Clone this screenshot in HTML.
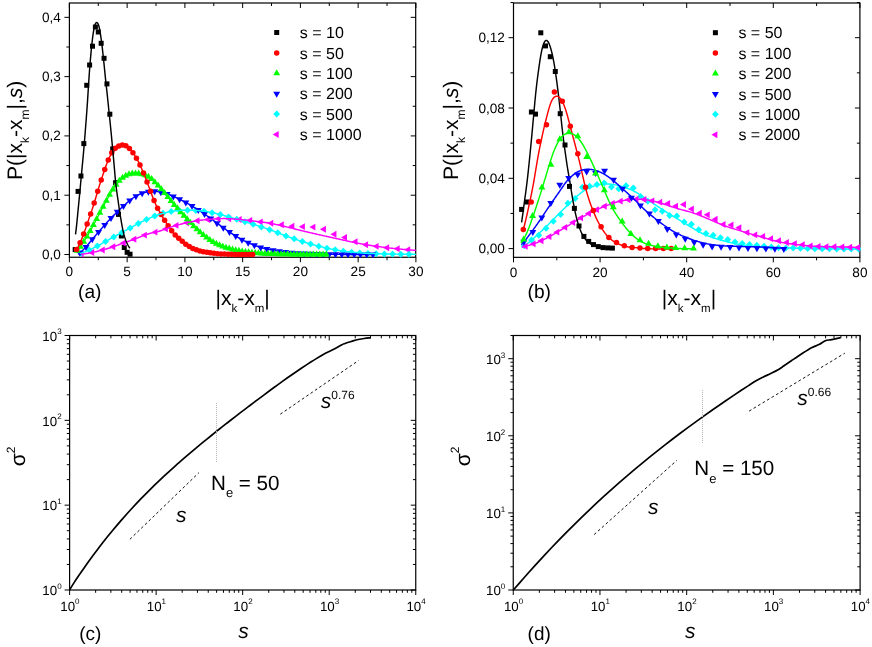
<!DOCTYPE html>
<html><head><meta charset="utf-8"><title>figure</title>
<style>html,body{margin:0;padding:0;background:#fff;}svg{display:block;will-change:transform;opacity:0.999;}body{font-family:"Liberation Sans", sans-serif;}</style></head>
<body>
<svg width="872" height="647" viewBox="0 0 872 647" font-family='"Liberation Sans", sans-serif' fill="#000" text-rendering="geometricPrecision">
<rect width="872" height="647" fill="#fff"/>
<rect x="69.4" y="3" width="346.3" height="254.25" fill="none" stroke="#000" stroke-width="1.2"/>
<line x1="69.4" y1="257.25" x2="69.4" y2="262.25" stroke="#000" stroke-width="1"/>
<line x1="69.4" y1="3" x2="69.4" y2="8" stroke="#000" stroke-width="1"/>
<text x="69.4" y="276.45" font-size="13.6" text-anchor="middle">0</text>
<line x1="127.15" y1="257.25" x2="127.15" y2="262.25" stroke="#000" stroke-width="1"/>
<line x1="127.15" y1="3" x2="127.15" y2="8" stroke="#000" stroke-width="1"/>
<text x="127.15" y="276.45" font-size="13.6" text-anchor="middle">5</text>
<line x1="184.9" y1="257.25" x2="184.9" y2="262.25" stroke="#000" stroke-width="1"/>
<line x1="184.9" y1="3" x2="184.9" y2="8" stroke="#000" stroke-width="1"/>
<text x="184.9" y="276.45" font-size="13.6" text-anchor="middle">10</text>
<line x1="242.65" y1="257.25" x2="242.65" y2="262.25" stroke="#000" stroke-width="1"/>
<line x1="242.65" y1="3" x2="242.65" y2="8" stroke="#000" stroke-width="1"/>
<text x="242.65" y="276.45" font-size="13.6" text-anchor="middle">15</text>
<line x1="300.4" y1="257.25" x2="300.4" y2="262.25" stroke="#000" stroke-width="1"/>
<line x1="300.4" y1="3" x2="300.4" y2="8" stroke="#000" stroke-width="1"/>
<text x="300.4" y="276.45" font-size="13.6" text-anchor="middle">20</text>
<line x1="358.15" y1="257.25" x2="358.15" y2="262.25" stroke="#000" stroke-width="1"/>
<line x1="358.15" y1="3" x2="358.15" y2="8" stroke="#000" stroke-width="1"/>
<text x="358.15" y="276.45" font-size="13.6" text-anchor="middle">25</text>
<line x1="415.9" y1="257.25" x2="415.9" y2="262.25" stroke="#000" stroke-width="1"/>
<line x1="415.9" y1="3" x2="415.9" y2="8" stroke="#000" stroke-width="1"/>
<text x="415.9" y="276.45" font-size="13.6" text-anchor="middle">30</text>
<line x1="98.28" y1="257.25" x2="98.28" y2="260.25" stroke="#000" stroke-width="1"/>
<line x1="98.28" y1="3" x2="98.28" y2="6" stroke="#000" stroke-width="1"/>
<line x1="156.03" y1="257.25" x2="156.03" y2="260.25" stroke="#000" stroke-width="1"/>
<line x1="156.03" y1="3" x2="156.03" y2="6" stroke="#000" stroke-width="1"/>
<line x1="213.78" y1="257.25" x2="213.78" y2="260.25" stroke="#000" stroke-width="1"/>
<line x1="213.78" y1="3" x2="213.78" y2="6" stroke="#000" stroke-width="1"/>
<line x1="271.52" y1="257.25" x2="271.52" y2="260.25" stroke="#000" stroke-width="1"/>
<line x1="271.52" y1="3" x2="271.52" y2="6" stroke="#000" stroke-width="1"/>
<line x1="329.27" y1="257.25" x2="329.27" y2="260.25" stroke="#000" stroke-width="1"/>
<line x1="329.27" y1="3" x2="329.27" y2="6" stroke="#000" stroke-width="1"/>
<line x1="387.02" y1="257.25" x2="387.02" y2="260.25" stroke="#000" stroke-width="1"/>
<line x1="387.02" y1="3" x2="387.02" y2="6" stroke="#000" stroke-width="1"/>
<line x1="64.4" y1="254.5" x2="69.4" y2="254.5" stroke="#000" stroke-width="1"/>
<line x1="410.7" y1="254.5" x2="415.7" y2="254.5" stroke="#000" stroke-width="1"/>
<text x="60.8" y="259" font-size="13.6" text-anchor="end">0,0</text>
<line x1="64.4" y1="195.21" x2="69.4" y2="195.21" stroke="#000" stroke-width="1"/>
<line x1="410.7" y1="195.21" x2="415.7" y2="195.21" stroke="#000" stroke-width="1"/>
<text x="60.8" y="199.71" font-size="13.6" text-anchor="end">0,1</text>
<line x1="64.4" y1="135.92" x2="69.4" y2="135.92" stroke="#000" stroke-width="1"/>
<line x1="410.7" y1="135.92" x2="415.7" y2="135.92" stroke="#000" stroke-width="1"/>
<text x="60.8" y="140.42" font-size="13.6" text-anchor="end">0,2</text>
<line x1="64.4" y1="76.63" x2="69.4" y2="76.63" stroke="#000" stroke-width="1"/>
<line x1="410.7" y1="76.63" x2="415.7" y2="76.63" stroke="#000" stroke-width="1"/>
<text x="60.8" y="81.13" font-size="13.6" text-anchor="end">0,3</text>
<line x1="64.4" y1="17.34" x2="69.4" y2="17.34" stroke="#000" stroke-width="1"/>
<line x1="410.7" y1="17.34" x2="415.7" y2="17.34" stroke="#000" stroke-width="1"/>
<text x="60.8" y="21.84" font-size="13.6" text-anchor="end">0,4</text>
<line x1="66.4" y1="224.85" x2="69.4" y2="224.85" stroke="#000" stroke-width="1"/>
<line x1="412.7" y1="224.85" x2="415.7" y2="224.85" stroke="#000" stroke-width="1"/>
<line x1="66.4" y1="165.56" x2="69.4" y2="165.56" stroke="#000" stroke-width="1"/>
<line x1="412.7" y1="165.56" x2="415.7" y2="165.56" stroke="#000" stroke-width="1"/>
<line x1="66.4" y1="106.28" x2="69.4" y2="106.28" stroke="#000" stroke-width="1"/>
<line x1="412.7" y1="106.28" x2="415.7" y2="106.28" stroke="#000" stroke-width="1"/>
<line x1="66.4" y1="46.99" x2="69.4" y2="46.99" stroke="#000" stroke-width="1"/>
<line x1="412.7" y1="46.99" x2="415.7" y2="46.99" stroke="#000" stroke-width="1"/>
<clipPath id="c69"><rect x="68.7" y="3" width="347.9" height="254.95"/></clipPath>
<g clip-path="url(#c69)">
<rect x="72.68" y="247.1" width="5" height="5" fill="#000000"/>
<rect x="75.56" y="188.9" width="5" height="5" fill="#000000"/>
<rect x="78.45" y="173.5" width="5" height="5" fill="#000000"/>
<rect x="81.34" y="141.1" width="5" height="5" fill="#000000"/>
<rect x="84.23" y="82.8" width="5" height="5" fill="#000000"/>
<rect x="87.11" y="62.5" width="5" height="5" fill="#000000"/>
<rect x="90" y="43.7" width="5" height="5" fill="#000000"/>
<rect x="92.89" y="24.5" width="5" height="5" fill="#000000"/>
<rect x="95.78" y="29.5" width="5" height="5" fill="#000000"/>
<rect x="98.66" y="40.8" width="5" height="5" fill="#000000"/>
<rect x="101.55" y="55.8" width="5" height="5" fill="#000000"/>
<rect x="104.44" y="81.4" width="5" height="5" fill="#000000"/>
<rect x="107.33" y="111.7" width="5" height="5" fill="#000000"/>
<rect x="110.21" y="146.4" width="5" height="5" fill="#000000"/>
<rect x="113.1" y="180.2" width="5" height="5" fill="#000000"/>
<rect x="115.99" y="211.9" width="5" height="5" fill="#000000"/>
<rect x="118.88" y="233.5" width="5" height="5" fill="#000000"/>
<rect x="121.76" y="245" width="5" height="5" fill="#000000"/>
<rect x="124.65" y="249.8" width="5" height="5" fill="#000000"/>
<rect x="127.54" y="251.7" width="5" height="5" fill="#000000"/>
<path d="M77.64 254.16L83.64 250.7L83.64 257.62Z" fill="#ff00ff"/>
<path d="M88.18 252.51L94.18 249.05L94.18 255.97Z" fill="#ff00ff"/>
<path d="M98.71 250.02L104.71 246.56L104.71 253.48Z" fill="#ff00ff"/>
<path d="M109.24 246.76L115.24 243.3L115.24 250.22Z" fill="#ff00ff"/>
<path d="M119.78 242.96L125.78 239.5L125.78 246.42Z" fill="#ff00ff"/>
<path d="M130.31 239.22L136.31 235.76L136.31 242.68Z" fill="#ff00ff"/>
<path d="M140.84 235.09L146.84 231.63L146.84 238.55Z" fill="#ff00ff"/>
<path d="M151.38 232.16L157.38 228.7L157.38 235.62Z" fill="#ff00ff"/>
<path d="M161.91 228.89L167.91 225.43L167.91 232.35Z" fill="#ff00ff"/>
<path d="M172.45 225.4L178.45 221.94L178.45 228.86Z" fill="#ff00ff"/>
<path d="M182.98 222.72L188.98 219.26L188.98 226.18Z" fill="#ff00ff"/>
<path d="M193.51 220.67L199.51 217.21L199.51 224.13Z" fill="#ff00ff"/>
<path d="M204.05 219.44L210.05 215.98L210.05 222.9Z" fill="#ff00ff"/>
<path d="M214.58 218.69L220.58 215.23L220.58 222.15Z" fill="#ff00ff"/>
<path d="M225.11 218.7L231.11 215.24L231.11 222.16Z" fill="#ff00ff"/>
<path d="M235.65 219.44L241.65 215.98L241.65 222.9Z" fill="#ff00ff"/>
<path d="M246.18 220.56L252.18 217.1L252.18 224.02Z" fill="#ff00ff"/>
<path d="M256.71 221.88L262.71 218.42L262.71 225.34Z" fill="#ff00ff"/>
<path d="M267.25 223.22L273.25 219.76L273.25 226.68Z" fill="#ff00ff"/>
<path d="M277.78 224.77L283.78 221.31L283.78 228.23Z" fill="#ff00ff"/>
<path d="M288.31 226.14L294.31 222.68L294.31 229.6Z" fill="#ff00ff"/>
<path d="M298.85 226.65L304.85 223.19L304.85 230.11Z" fill="#ff00ff"/>
<path d="M309.38 227.11L315.38 223.65L315.38 230.57Z" fill="#ff00ff"/>
<path d="M319.92 229.3L325.92 225.84L325.92 232.76Z" fill="#ff00ff"/>
<path d="M330.45 234.22L336.45 230.76L336.45 237.68Z" fill="#ff00ff"/>
<path d="M340.98 237.39L346.98 233.93L346.98 240.85Z" fill="#ff00ff"/>
<path d="M351.52 241.74L357.52 238.28L357.52 245.2Z" fill="#ff00ff"/>
<path d="M362.05 244.71L368.05 241.25L368.05 248.17Z" fill="#ff00ff"/>
<path d="M372.58 246.36L378.58 242.9L378.58 249.82Z" fill="#ff00ff"/>
<path d="M383.12 247.7L389.12 244.24L389.12 251.16Z" fill="#ff00ff"/>
<path d="M393.65 248.83L399.65 245.37L399.65 252.29Z" fill="#ff00ff"/>
<path d="M404.18 249.76L410.18 246.3L410.18 253.22Z" fill="#ff00ff"/>
<path d="M80.95 249.75L84.35 253.25L80.95 256.75L77.55 253.25Z" fill="#00ffff"/>
<path d="M89.15 246.52L92.55 250.02L89.15 253.52L85.75 250.02Z" fill="#00ffff"/>
<path d="M97.35 242.57L100.75 246.07L97.35 249.57L93.95 246.07Z" fill="#00ffff"/>
<path d="M105.55 237.99L108.95 241.49L105.55 244.99L102.15 241.49Z" fill="#00ffff"/>
<path d="M113.75 233.41L117.15 236.91L113.75 240.41L110.35 236.91Z" fill="#00ffff"/>
<path d="M121.95 228.92L125.35 232.42L121.95 235.92L118.55 232.42Z" fill="#00ffff"/>
<path d="M130.15 224.4L133.55 227.9L130.15 231.4L126.75 227.9Z" fill="#00ffff"/>
<path d="M138.35 220.02L141.75 223.52L138.35 227.02L134.95 223.52Z" fill="#00ffff"/>
<path d="M146.55 215.99L149.95 219.49L146.55 222.99L143.15 219.49Z" fill="#00ffff"/>
<path d="M154.75 212.48L158.15 215.98L154.75 219.48L151.35 215.98Z" fill="#00ffff"/>
<path d="M162.96 209.79L166.36 213.29L162.96 216.79L159.56 213.29Z" fill="#00ffff"/>
<path d="M171.16 208.02L174.56 211.52L171.16 215.02L167.76 211.52Z" fill="#00ffff"/>
<path d="M179.36 206.95L182.76 210.45L179.36 213.95L175.96 210.45Z" fill="#00ffff"/>
<path d="M187.56 206.63L190.96 210.13L187.56 213.63L184.16 210.13Z" fill="#00ffff"/>
<path d="M195.76 207L199.16 210.5L195.76 214L192.36 210.5Z" fill="#00ffff"/>
<path d="M203.96 207.78L207.36 211.28L203.96 214.78L200.56 211.28Z" fill="#00ffff"/>
<path d="M212.16 209.14L215.56 212.64L212.16 216.14L208.76 212.64Z" fill="#00ffff"/>
<path d="M220.36 211.11L223.76 214.61L220.36 218.11L216.96 214.61Z" fill="#00ffff"/>
<path d="M228.56 213.43L231.96 216.93L228.56 220.43L225.16 216.93Z" fill="#00ffff"/>
<path d="M236.76 215.87L240.16 219.37L236.76 222.87L233.36 219.37Z" fill="#00ffff"/>
<path d="M244.96 218.31L248.36 221.81L244.96 225.31L241.56 221.81Z" fill="#00ffff"/>
<path d="M253.16 220.83L256.56 224.33L253.16 227.83L249.76 224.33Z" fill="#00ffff"/>
<path d="M261.36 223.39L264.76 226.89L261.36 230.39L257.96 226.89Z" fill="#00ffff"/>
<path d="M269.56 226.14L272.96 229.64L269.56 233.14L266.16 229.64Z" fill="#00ffff"/>
<path d="M277.76 229.25L281.16 232.75L277.76 236.25L274.36 232.75Z" fill="#00ffff"/>
<path d="M285.96 232.41L289.36 235.91L285.96 239.41L282.56 235.91Z" fill="#00ffff"/>
<path d="M294.16 235.31L297.56 238.81L294.16 242.31L290.76 238.81Z" fill="#00ffff"/>
<path d="M302.36 238.05L305.76 241.55L302.36 245.05L298.96 241.55Z" fill="#00ffff"/>
<path d="M310.56 240.51L313.96 244.01L310.56 247.51L307.16 244.01Z" fill="#00ffff"/>
<path d="M318.76 242.67L322.16 246.17L318.76 249.67L315.36 246.17Z" fill="#00ffff"/>
<path d="M326.97 244.63L330.37 248.13L326.97 251.63L323.57 248.13Z" fill="#00ffff"/>
<path d="M335.17 246.33L338.57 249.83L335.17 253.33L331.77 249.83Z" fill="#00ffff"/>
<path d="M343.37 247.69L346.77 251.19L343.37 254.69L339.97 251.19Z" fill="#00ffff"/>
<path d="M351.57 248.65L354.97 252.15L351.57 255.65L348.17 252.15Z" fill="#00ffff"/>
<path d="M359.77 249.38L363.17 252.88L359.77 256.38L356.37 252.88Z" fill="#00ffff"/>
<path d="M367.97 249.91L371.37 253.41L367.97 256.91L364.57 253.41Z" fill="#00ffff"/>
<path d="M376.17 250.22L379.57 253.72L376.17 257.22L372.77 253.72Z" fill="#00ffff"/>
<path d="M384.37 250.43L387.77 253.93L384.37 257.43L380.97 253.93Z" fill="#00ffff"/>
<path d="M392.57 250.59L395.97 254.09L392.57 257.59L389.17 254.09Z" fill="#00ffff"/>
<path d="M400.77 250.7L404.17 254.2L400.77 257.7L397.37 254.2Z" fill="#00ffff"/>
<path d="M408.97 250.79L412.37 254.29L408.97 257.79L405.57 254.29Z" fill="#00ffff"/>
<path d="M79.8 256.67L83.25 250.67L76.34 250.67Z" fill="#0000ff"/>
<path d="M86.03 250.9L89.49 244.9L82.57 244.9Z" fill="#0000ff"/>
<path d="M92.27 243.37L95.73 237.37L88.81 237.37Z" fill="#0000ff"/>
<path d="M98.51 236.09L101.97 230.09L95.05 230.09Z" fill="#0000ff"/>
<path d="M104.74 228.91L108.2 222.91L101.28 222.91Z" fill="#0000ff"/>
<path d="M110.98 222.12L114.44 216.12L107.52 216.12Z" fill="#0000ff"/>
<path d="M117.22 215.87L120.68 209.87L113.76 209.87Z" fill="#0000ff"/>
<path d="M123.45 209.94L126.91 203.94L119.99 203.94Z" fill="#0000ff"/>
<path d="M129.69 204.55L133.15 198.55L126.23 198.55Z" fill="#0000ff"/>
<path d="M135.93 200.17L139.39 194.17L132.47 194.17Z" fill="#0000ff"/>
<path d="M142.17 197.3L145.63 191.3L138.71 191.3Z" fill="#0000ff"/>
<path d="M148.4 195.64L151.86 189.64L144.94 189.64Z" fill="#0000ff"/>
<path d="M154.64 195.24L158.1 189.24L151.18 189.24Z" fill="#0000ff"/>
<path d="M160.88 196.14L164.34 190.14L157.42 190.14Z" fill="#0000ff"/>
<path d="M167.11 197.88L170.57 191.88L163.65 191.88Z" fill="#0000ff"/>
<path d="M173.35 200.38L176.81 194.38L169.89 194.38Z" fill="#0000ff"/>
<path d="M179.59 203.35L183.05 197.35L176.13 197.35Z" fill="#0000ff"/>
<path d="M185.82 206.52L189.28 200.52L182.36 200.52Z" fill="#0000ff"/>
<path d="M192.06 210.08L195.52 204.08L188.6 204.08Z" fill="#0000ff"/>
<path d="M198.3 213.95L201.76 207.95L194.84 207.95Z" fill="#0000ff"/>
<path d="M204.53 218.06L208 212.06L201.07 212.06Z" fill="#0000ff"/>
<path d="M210.77 222.54L214.23 216.54L207.31 216.54Z" fill="#0000ff"/>
<path d="M217.01 227.15L220.47 221.15L213.55 221.15Z" fill="#0000ff"/>
<path d="M223.25 231.71L226.71 225.71L219.79 225.71Z" fill="#0000ff"/>
<path d="M229.48 236.08L232.94 230.08L226.02 230.08Z" fill="#0000ff"/>
<path d="M235.72 240.07L239.18 234.07L232.26 234.07Z" fill="#0000ff"/>
<path d="M241.96 243.66L245.42 237.66L238.5 237.66Z" fill="#0000ff"/>
<path d="M248.19 246.75L251.65 240.75L244.73 240.75Z" fill="#0000ff"/>
<path d="M254.43 249.32L257.89 243.32L250.97 243.32Z" fill="#0000ff"/>
<path d="M260.67 251.42L264.13 245.42L257.21 245.42Z" fill="#0000ff"/>
<path d="M266.9 253.04L270.36 247.04L263.44 247.04Z" fill="#0000ff"/>
<path d="M273.14 254.3L276.6 248.3L269.68 248.3Z" fill="#0000ff"/>
<path d="M279.38 255.32L282.84 249.32L275.92 249.32Z" fill="#0000ff"/>
<path d="M285.62 256.12L289.08 250.12L282.16 250.12Z" fill="#0000ff"/>
<path d="M291.85 256.74L295.31 250.74L288.39 250.74Z" fill="#0000ff"/>
<path d="M298.09 257.21L301.55 251.21L294.63 251.21Z" fill="#0000ff"/>
<path d="M304.33 257.57L307.79 251.57L300.87 251.57Z" fill="#0000ff"/>
<path d="M310.56 257.84L314.02 251.84L307.1 251.84Z" fill="#0000ff"/>
<path d="M316.8 258.04L320.26 252.04L313.34 252.04Z" fill="#0000ff"/>
<path d="M323.04 258.19L326.5 252.19L319.58 252.19Z" fill="#0000ff"/>
<path d="M329.27 258.29L332.73 252.29L325.81 252.29Z" fill="#0000ff"/>
<path d="M335.51 258.36L338.97 252.36L332.05 252.36Z" fill="#0000ff"/>
<path d="M341.75 258.41L345.21 252.41L338.29 252.41Z" fill="#0000ff"/>
<path d="M347.99 258.44L351.45 252.44L344.53 252.44Z" fill="#0000ff"/>
<path d="M354.22 258.46L357.68 252.46L350.76 252.46Z" fill="#0000ff"/>
<path d="M360.46 258.48L363.92 252.48L357 252.48Z" fill="#0000ff"/>
<path d="M366.7 258.49L370.16 252.49L363.24 252.49Z" fill="#0000ff"/>
<path d="M372.93 258.49L376.39 252.49L369.47 252.49Z" fill="#0000ff"/>
<path d="M78.64 253.41 L79.38 252.95 L80.11 252.46 L80.85 251.92 L81.58 251.34 L82.32 250.71 L83.05 250.03 L83.79 249.32 L84.52 248.56 L85.26 247.77 L85.99 246.94 L86.73 246.09 L87.46 245.22 L88.2 244.34 L88.93 243.44 L89.67 242.54 L90.4 241.64 L91.14 240.74 L91.87 239.85 L92.61 238.96 L93.35 238.08 L94.08 237.21 L94.82 236.34 L95.55 235.49 L96.29 234.64 L97.02 233.79 L97.76 232.95 L98.49 232.11 L99.23 231.27 L99.96 230.42 L100.7 229.58 L101.43 228.73 L102.17 227.88 L102.9 227.03 L103.64 226.18 L104.37 225.33 L105.11 224.49 L105.84 223.65 L106.58 222.83 L107.32 222.01 L108.05 221.21 L108.79 220.42 L109.52 219.64 L110.26 218.87 L110.99 218.11 L111.73 217.36 L112.46 216.61 L113.2 215.87 L113.93 215.13 L114.67 214.4 L115.4 213.66 L116.14 212.93 L116.87 212.21 L117.61 211.48 L118.34 210.76 L119.08 210.05 L119.81 209.34 L120.55 208.64 L121.29 207.94 L122.02 207.26 L122.76 206.58 L123.49 205.9 L124.23 205.24 L124.96 204.58 L125.7 203.93 L126.43 203.29 L127.17 202.65 L127.9 202.02 L128.64 201.41 L129.37 200.8 L130.11 200.21 L130.84 199.63 L131.58 199.07 L132.31 198.53 L133.05 198.01 L133.78 197.51 L134.52 197.03 L135.26 196.57 L135.99 196.14 L136.73 195.73 L137.46 195.33 L138.2 194.96 L138.93 194.61 L139.67 194.28 L140.4 193.97 L141.14 193.68 L141.87 193.4 L142.61 193.14 L143.34 192.89 L144.08 192.66 L144.81 192.45 L145.55 192.26 L146.28 192.07 L147.02 191.91 L147.75 191.76 L148.49 191.63 L149.23 191.51 L149.96 191.41 L150.7 191.33 L151.43 191.27 L152.17 191.23 L152.9 191.21 L153.64 191.21 L154.37 191.22 L155.11 191.26 L155.84 191.32 L156.58 191.4 L157.31 191.49 L158.05 191.6 L158.78 191.72 L159.52 191.86 L160.25 192 L160.99 192.16 L161.72 192.33 L162.46 192.51 L163.2 192.69 L163.93 192.89 L164.67 193.1 L165.4 193.32 L166.14 193.55 L166.87 193.79 L167.61 194.05 L168.34 194.31 L169.08 194.59 L169.81 194.87 L170.55 195.17 L171.28 195.47 L172.02 195.79 L172.75 196.11 L173.49 196.44 L174.22 196.78 L174.96 197.12 L175.69 197.47 L176.43 197.82 L177.17 198.17 L177.9 198.53 L178.64 198.89 L179.37 199.24 L180.11 199.6 L180.84 199.97 L181.58 200.33 L182.31 200.7 L183.05 201.07 L183.78 201.44 L184.52 201.82 L185.25 202.21 L185.99 202.6 L186.72 203 L187.46 203.41 L188.19 203.82 L188.93 204.24 L189.66 204.66 L190.4 205.09 L191.14 205.53 L191.87 205.97 L192.61 206.41 L193.34 206.86 L194.08 207.31 L194.81 207.76 L195.55 208.22 L196.28 208.68 L197.02 209.14 L197.75 209.6 L198.49 210.07 L199.22 210.53 L199.96 211.01 L200.69 211.48 L201.43 211.96 L202.16 212.45 L202.9 212.94 L203.63 213.44 L204.37 213.94 L205.11 214.45 L205.84 214.97 L206.58 215.49 L207.31 216.01 L208.05 216.54 L208.78 217.08 L209.52 217.61 L210.25 218.15 L210.99 218.69 L211.72 219.24 L212.46 219.78 L213.19 220.33 L213.93 220.87 L214.66 221.42 L215.4 221.96 L216.13 222.51 L216.87 223.05 L217.6 223.59 L218.34 224.13 L219.08 224.68 L219.81 225.21 L220.55 225.75 L221.28 226.29 L222.02 226.82 L222.75 227.36 L223.49 227.89 L224.22 228.41 L224.96 228.94 L225.69 229.46 L226.43 229.98 L227.16 230.49 L227.9 231 L228.63 231.5 L229.37 232 L230.1 232.49 L230.84 232.98 L231.57 233.46 L232.31 233.94 L233.05 234.41 L233.78 234.88 L234.52 235.34 L235.25 235.79 L235.99 236.24 L236.72 236.68 L237.46 237.12 L238.19 237.55 L238.93 237.97 L239.66 238.39 L240.4 238.8 L241.13 239.21 L241.87 239.61 L242.6 240 L243.34 240.39 L244.07 240.77 L244.81 241.14 L245.54 241.5 L246.28 241.86 L247.02 242.21 L247.75 242.55 L248.49 242.89 L249.22 243.21 L249.96 243.53 L250.69 243.84 L251.43 244.15 L252.16 244.44 L252.9 244.74 L253.63 245.02 L254.37 245.3 L255.1 245.57 L255.84 245.84 L256.57 246.1 L257.31 246.35 L258.04 246.6 L258.78 246.84 L259.51 247.07 L260.25 247.29 L260.99 247.51 L261.72 247.72 L262.46 247.93 L263.19 248.13 L263.93 248.32 L264.66 248.51 L265.4 248.69 L266.13 248.86 L266.87 249.03 L267.6 249.2 L268.34 249.36 L269.07 249.51 L269.81 249.66 L270.54 249.81 L271.28 249.95 L272.01 250.09 L272.75 250.23 L273.48 250.36 L274.22 250.49 L274.96 250.62 L275.69 250.74 L276.43 250.86 L277.16 250.98 L277.9 251.09 L278.63 251.2 L279.37 251.31 L280.1 251.42 L280.84 251.52 L281.57 251.62 L282.31 251.72 L283.04 251.81 L283.78 251.91 L284.51 252 L285.25 252.08 L285.98 252.16 L286.72 252.25 L287.45 252.32 L288.19 252.4 L288.93 252.47 L289.66 252.54 L290.4 252.61 L291.13 252.68 L291.87 252.74 L292.6 252.8 L293.34 252.86 L294.07 252.92 L294.81 252.98 L295.54 253.03 L296.28 253.08 L297.01 253.13 L297.75 253.18 L298.48 253.23 L299.22 253.28 L299.95 253.32 L300.69 253.37 L301.42 253.41 L302.16 253.45 L302.9 253.49 L303.63 253.53 L304.37 253.57 L305.1 253.61 L305.84 253.64 L306.57 253.68 L307.31 253.71 L308.04 253.74 L308.78 253.77 L309.51 253.8 L310.25 253.83 L310.98 253.86 L311.72 253.88 L312.45 253.91 L313.19 253.93 L313.92 253.96 L314.66 253.98 L315.39 254 L316.13 254.02 L316.87 254.04 L317.6 254.06 L318.34 254.08 L319.07 254.1 L319.81 254.12 L320.54 254.14 L321.28 254.15 L322.01 254.17 L322.75 254.18 L323.48 254.2 L324.22 254.21 L324.95 254.22 L325.69 254.23 L326.42 254.25 L327.16 254.26 L327.89 254.27 L328.63 254.28 L329.36 254.29 L330.1 254.3 L330.84 254.31 L331.57 254.32 L332.31 254.33 L333.04 254.33 L333.78 254.34 L334.51 254.35 L335.25 254.36 L335.98 254.36 L336.72 254.37 L337.45 254.38 L338.19 254.38 L338.92 254.39 L339.66 254.39 L340.39 254.4 L341.13 254.4 L341.86 254.41 L342.6 254.41 L343.33 254.42 L344.07 254.42 L344.81 254.43 L345.54 254.43 L346.28 254.43 L347.01 254.44 L347.75 254.44 L348.48 254.44 L349.22 254.45 L349.95 254.45 L350.69 254.45 L351.42 254.45 L352.16 254.46 L352.89 254.46 L353.63 254.46 L354.36 254.46 L355.1 254.46 L355.83 254.47 L356.57 254.47 L357.3 254.47 L358.04 254.47 L358.78 254.47 L359.51 254.47 L360.25 254.48 L360.98 254.48 L361.72 254.48 L362.45 254.48 L363.19 254.48 L363.92 254.48 L364.66 254.48 L365.39 254.48 L366.13 254.48 L366.86 254.49 L367.6 254.49 L368.33 254.49 L369.07 254.49 L369.8 254.49 L370.54 254.49 L371.27 254.49 L372.01 254.49" fill="none" stroke="#0000ff" stroke-width="1.45" stroke-linejoin="round" stroke-linecap="butt"/>
<path d="M77.25 246.85L80.71 252.85L73.79 252.85Z" fill="#00ff00"/>
<path d="M80.49 242.69L83.95 248.69L77.03 248.69Z" fill="#00ff00"/>
<path d="M83.72 237.72L87.18 243.72L80.26 243.72Z" fill="#00ff00"/>
<path d="M86.96 232.47L90.42 238.47L83.5 238.47Z" fill="#00ff00"/>
<path d="M90.19 226.91L93.65 232.91L86.73 232.91Z" fill="#00ff00"/>
<path d="M93.42 221.01L96.88 227.01L89.96 227.01Z" fill="#00ff00"/>
<path d="M96.66 214.9L100.12 220.9L93.2 220.9Z" fill="#00ff00"/>
<path d="M99.89 208.75L103.35 214.75L96.43 214.75Z" fill="#00ff00"/>
<path d="M103.13 202.65L106.59 208.65L99.67 208.65Z" fill="#00ff00"/>
<path d="M106.36 196.67L109.82 202.67L102.9 202.67Z" fill="#00ff00"/>
<path d="M109.59 190.87L113.05 196.87L106.13 196.87Z" fill="#00ff00"/>
<path d="M112.83 185.42L116.29 191.42L109.37 191.42Z" fill="#00ff00"/>
<path d="M116.06 180.68L119.52 186.68L112.6 186.68Z" fill="#00ff00"/>
<path d="M119.3 176.84L122.76 182.84L115.84 182.84Z" fill="#00ff00"/>
<path d="M122.53 173.85L125.99 179.85L119.07 179.85Z" fill="#00ff00"/>
<path d="M125.76 171.67L129.22 177.67L122.3 177.67Z" fill="#00ff00"/>
<path d="M129 170.3L132.46 176.3L125.54 176.3Z" fill="#00ff00"/>
<path d="M132.23 169.61L135.69 175.61L128.77 175.61Z" fill="#00ff00"/>
<path d="M135.47 169.39L138.93 175.39L132.01 175.39Z" fill="#00ff00"/>
<path d="M138.7 169.58L142.16 175.58L135.24 175.58Z" fill="#00ff00"/>
<path d="M141.93 170.18L145.39 176.18L138.47 176.18Z" fill="#00ff00"/>
<path d="M145.17 171.19L148.63 177.19L141.71 177.19Z" fill="#00ff00"/>
<path d="M148.4 172.77L151.86 178.77L144.94 178.77Z" fill="#00ff00"/>
<path d="M151.64 175.12L155.1 181.12L148.18 181.12Z" fill="#00ff00"/>
<path d="M154.87 178.18L158.33 184.18L151.41 184.18Z" fill="#00ff00"/>
<path d="M158.1 181.61L161.56 187.61L154.64 187.61Z" fill="#00ff00"/>
<path d="M161.34 185.19L164.8 191.19L157.88 191.19Z" fill="#00ff00"/>
<path d="M164.57 188.98L168.03 194.98L161.11 194.98Z" fill="#00ff00"/>
<path d="M167.81 193.03L171.27 199.03L164.35 199.03Z" fill="#00ff00"/>
<path d="M171.04 197.07L174.5 203.07L167.58 203.07Z" fill="#00ff00"/>
<path d="M174.27 200.91L177.73 206.91L170.81 206.91Z" fill="#00ff00"/>
<path d="M177.51 204.56L180.97 210.56L174.05 210.56Z" fill="#00ff00"/>
<path d="M180.74 208.13L184.2 214.13L177.28 214.13Z" fill="#00ff00"/>
<path d="M183.98 211.71L187.44 217.71L180.52 217.71Z" fill="#00ff00"/>
<path d="M187.21 215.31L190.67 221.31L183.75 221.31Z" fill="#00ff00"/>
<path d="M190.44 218.84L193.9 224.84L186.98 224.84Z" fill="#00ff00"/>
<path d="M193.68 222.18L197.14 228.18L190.22 228.18Z" fill="#00ff00"/>
<path d="M196.91 225.33L200.37 231.33L193.45 231.33Z" fill="#00ff00"/>
<path d="M200.15 228.3L203.61 234.3L196.69 234.3Z" fill="#00ff00"/>
<path d="M203.38 231.1L206.84 237.1L199.92 237.1Z" fill="#00ff00"/>
<path d="M206.61 233.62L210.07 239.62L203.15 239.62Z" fill="#00ff00"/>
<path d="M209.85 235.9L213.31 241.9L206.39 241.9Z" fill="#00ff00"/>
<path d="M213.08 237.99L216.54 243.99L209.62 243.99Z" fill="#00ff00"/>
<path d="M216.32 239.8L219.78 245.8L212.86 245.8Z" fill="#00ff00"/>
<path d="M219.55 241.31L223.01 247.31L216.09 247.31Z" fill="#00ff00"/>
<path d="M222.78 242.57L226.24 248.57L219.32 248.57Z" fill="#00ff00"/>
<path d="M226.02 243.64L229.48 249.64L222.56 249.64Z" fill="#00ff00"/>
<path d="M229.25 244.59L232.71 250.59L225.79 250.59Z" fill="#00ff00"/>
<path d="M232.49 245.44L235.95 251.44L229.03 251.44Z" fill="#00ff00"/>
<path d="M235.72 246.18L239.18 252.18L232.26 252.18Z" fill="#00ff00"/>
<path d="M238.95 246.83L242.41 252.83L235.49 252.83Z" fill="#00ff00"/>
<path d="M242.19 247.4L245.65 253.4L238.73 253.4Z" fill="#00ff00"/>
<path d="M245.42 247.89L248.88 253.89L241.96 253.89Z" fill="#00ff00"/>
<path d="M248.66 248.31L252.12 254.31L245.2 254.31Z" fill="#00ff00"/>
<path d="M251.89 248.67L255.35 254.67L248.43 254.67Z" fill="#00ff00"/>
<path d="M255.12 248.98L258.58 254.98L251.66 254.98Z" fill="#00ff00"/>
<path d="M258.36 249.23L261.82 255.23L254.9 255.23Z" fill="#00ff00"/>
<path d="M261.59 249.46L265.05 255.46L258.13 255.46Z" fill="#00ff00"/>
<path d="M264.83 249.65L268.29 255.65L261.37 255.65Z" fill="#00ff00"/>
<path d="M268.06 249.82L271.52 255.82L264.6 255.82Z" fill="#00ff00"/>
<path d="M271.29 249.96L274.75 255.96L267.83 255.96Z" fill="#00ff00"/>
<path d="M274.53 250.07L277.99 256.07L271.07 256.07Z" fill="#00ff00"/>
<path d="M277.76 250.16L281.22 256.16L274.3 256.16Z" fill="#00ff00"/>
<path d="M281 250.24L284.46 256.24L277.54 256.24Z" fill="#00ff00"/>
<path d="M284.23 250.29L287.69 256.29L280.77 256.29Z" fill="#00ff00"/>
<path d="M287.46 250.34L290.92 256.34L284 256.34Z" fill="#00ff00"/>
<path d="M290.7 250.38L294.16 256.38L287.24 256.38Z" fill="#00ff00"/>
<path d="M293.93 250.4L297.39 256.4L290.47 256.4Z" fill="#00ff00"/>
<path d="M297.17 250.43L300.63 256.43L293.71 256.43Z" fill="#00ff00"/>
<path d="M300.4 250.44L303.86 256.44L296.94 256.44Z" fill="#00ff00"/>
<path d="M303.63 250.46L307.09 256.46L300.17 256.46Z" fill="#00ff00"/>
<path d="M306.87 250.47L310.33 256.47L303.41 256.47Z" fill="#00ff00"/>
<path d="M310.1 250.48L313.56 256.48L306.64 256.48Z" fill="#00ff00"/>
<path d="M313.34 250.48L316.8 256.48L309.88 256.48Z" fill="#00ff00"/>
<path d="M316.57 250.49L320.03 256.49L313.11 256.49Z" fill="#00ff00"/>
<path d="M319.8 250.49L323.26 256.49L316.34 256.49Z" fill="#00ff00"/>
<path d="M323.04 250.49L326.5 256.49L319.58 256.49Z" fill="#00ff00"/>
<path d="M326.27 250.49L329.73 256.49L322.81 256.49Z" fill="#00ff00"/>
<path d="M76.33 251.8 L76.96 251.17 L77.59 250.48 L78.21 249.74 L78.84 248.96 L79.47 248.12 L80.1 247.25 L80.73 246.34 L81.36 245.41 L81.98 244.45 L82.61 243.47 L83.24 242.49 L83.87 241.49 L84.5 240.48 L85.12 239.47 L85.75 238.45 L86.38 237.42 L87.01 236.38 L87.64 235.33 L88.27 234.26 L88.89 233.18 L89.52 232.09 L90.15 230.98 L90.78 229.86 L91.41 228.73 L92.03 227.58 L92.66 226.42 L93.29 225.26 L93.92 224.08 L94.55 222.9 L95.17 221.72 L95.8 220.53 L96.43 219.33 L97.06 218.14 L97.69 216.94 L98.32 215.74 L98.94 214.55 L99.57 213.35 L100.2 212.16 L100.83 210.97 L101.46 209.78 L102.08 208.6 L102.71 207.42 L103.34 206.25 L103.97 205.07 L104.6 203.91 L105.23 202.75 L105.85 201.59 L106.48 200.44 L107.11 199.3 L107.74 198.17 L108.37 197.04 L108.99 195.92 L109.62 194.82 L110.25 193.72 L110.88 192.64 L111.51 191.58 L112.14 190.54 L112.76 189.53 L113.39 188.54 L114.02 187.58 L114.65 186.65 L115.28 185.75 L115.9 184.89 L116.53 184.06 L117.16 183.27 L117.79 182.51 L118.42 181.79 L119.04 181.1 L119.67 180.44 L120.3 179.81 L120.93 179.22 L121.56 178.66 L122.19 178.12 L122.81 177.62 L123.44 177.15 L124.07 176.7 L124.7 176.29 L125.33 175.91 L125.95 175.56 L126.58 175.25 L127.21 174.96 L127.84 174.7 L128.47 174.47 L129.1 174.27 L129.72 174.09 L130.35 173.94 L130.98 173.81 L131.61 173.7 L132.24 173.61 L132.86 173.53 L133.49 173.47 L134.12 173.43 L134.75 173.4 L135.38 173.39 L136 173.39 L136.63 173.41 L137.26 173.44 L137.89 173.49 L138.52 173.56 L139.15 173.64 L139.77 173.73 L140.4 173.84 L141.03 173.97 L141.66 174.11 L142.29 174.27 L142.91 174.44 L143.54 174.62 L144.17 174.83 L144.8 175.05 L145.43 175.29 L146.06 175.55 L146.68 175.84 L147.31 176.15 L147.94 176.49 L148.57 176.87 L149.2 177.27 L149.82 177.7 L150.45 178.16 L151.08 178.66 L151.71 179.18 L152.34 179.73 L152.97 180.31 L153.59 180.9 L154.22 181.52 L154.85 182.16 L155.48 182.8 L156.11 183.46 L156.73 184.13 L157.36 184.81 L157.99 185.49 L158.62 186.17 L159.25 186.86 L159.88 187.56 L160.5 188.25 L161.13 188.96 L161.76 189.67 L162.39 190.39 L163.02 191.12 L163.64 191.86 L164.27 192.61 L164.9 193.38 L165.53 194.16 L166.16 194.94 L166.78 195.73 L167.41 196.53 L168.04 197.33 L168.67 198.12 L169.3 198.91 L169.93 199.7 L170.55 200.48 L171.18 201.25 L171.81 202.01 L172.44 202.76 L173.07 203.51 L173.69 204.24 L174.32 204.97 L174.95 205.69 L175.58 206.4 L176.21 207.11 L176.84 207.81 L177.46 208.51 L178.09 209.21 L178.72 209.9 L179.35 210.59 L179.98 211.28 L180.6 211.98 L181.23 212.67 L181.86 213.36 L182.49 214.06 L183.12 214.75 L183.75 215.45 L184.37 216.15 L185 216.85 L185.63 217.55 L186.26 218.25 L186.89 218.95 L187.51 219.64 L188.14 220.34 L188.77 221.03 L189.4 221.71 L190.03 222.39 L190.65 223.06 L191.28 223.73 L191.91 224.38 L192.54 225.03 L193.17 225.67 L193.8 226.3 L194.42 226.93 L195.05 227.54 L195.68 228.15 L196.31 228.75 L196.94 229.35 L197.56 229.94 L198.19 230.52 L198.82 231.1 L199.45 231.68 L200.08 232.24 L200.71 232.8 L201.33 233.36 L201.96 233.9 L202.59 234.44 L203.22 234.96 L203.85 235.48 L204.47 235.98 L205.1 236.48 L205.73 236.96 L206.36 237.43 L206.99 237.9 L207.62 238.35 L208.24 238.8 L208.87 239.23 L209.5 239.67 L210.13 240.09 L210.76 240.51 L211.38 240.92 L212.01 241.33 L212.64 241.72 L213.27 242.1 L213.9 242.48 L214.52 242.84 L215.15 243.19 L215.78 243.52 L216.41 243.85 L217.04 244.16 L217.67 244.46 L218.29 244.75 L218.92 245.04 L219.55 245.31 L220.18 245.57 L220.81 245.82 L221.43 246.07 L222.06 246.3 L222.69 246.53 L223.32 246.76 L223.95 246.97 L224.58 247.18 L225.2 247.39 L225.83 247.59 L226.46 247.78 L227.09 247.97 L227.72 248.16 L228.34 248.34 L228.97 248.52 L229.6 248.69 L230.23 248.86 L230.86 249.03 L231.48 249.19 L232.11 249.35 L232.74 249.5 L233.37 249.65 L234 249.8 L234.63 249.94 L235.25 250.08 L235.88 250.22 L236.51 250.35 L237.14 250.48 L237.77 250.6 L238.39 250.72 L239.02 250.84 L239.65 250.96 L240.28 251.07 L240.91 251.18 L241.54 251.29 L242.16 251.39 L242.79 251.5 L243.42 251.59 L244.05 251.69 L244.68 251.78 L245.3 251.87 L245.93 251.96 L246.56 252.05 L247.19 252.13 L247.82 252.21 L248.45 252.29 L249.07 252.36 L249.7 252.44 L250.33 252.51 L250.96 252.58 L251.59 252.64 L252.21 252.71 L252.84 252.77 L253.47 252.83 L254.1 252.89 L254.73 252.94 L255.35 253 L255.98 253.05 L256.61 253.1 L257.24 253.15 L257.87 253.2 L258.5 253.24 L259.12 253.29 L259.75 253.33 L260.38 253.38 L261.01 253.42 L261.64 253.46 L262.26 253.5 L262.89 253.54 L263.52 253.58 L264.15 253.61 L264.78 253.65 L265.41 253.68 L266.03 253.72 L266.66 253.75 L267.29 253.78 L267.92 253.81 L268.55 253.84 L269.17 253.87 L269.8 253.9 L270.43 253.93 L271.06 253.95 L271.69 253.97 L272.32 254 L272.94 254.02 L273.57 254.04 L274.2 254.06 L274.83 254.08 L275.46 254.1 L276.08 254.12 L276.71 254.14 L277.34 254.15 L277.97 254.17 L278.6 254.18 L279.23 254.2 L279.85 254.21 L280.48 254.23 L281.11 254.24 L281.74 254.25 L282.37 254.26 L282.99 254.27 L283.62 254.28 L284.25 254.29 L284.88 254.3 L285.51 254.31 L286.13 254.32 L286.76 254.33 L287.39 254.34 L288.02 254.35 L288.65 254.35 L289.28 254.36 L289.9 254.37 L290.53 254.37 L291.16 254.38 L291.79 254.39 L292.42 254.39 L293.04 254.4 L293.67 254.4 L294.3 254.41 L294.93 254.41 L295.56 254.42 L296.19 254.42 L296.81 254.42 L297.44 254.43 L298.07 254.43 L298.7 254.44 L299.33 254.44 L299.95 254.44 L300.58 254.45 L301.21 254.45 L301.84 254.45 L302.47 254.45 L303.1 254.46 L303.72 254.46 L304.35 254.46 L304.98 254.46 L305.61 254.46 L306.24 254.47 L306.86 254.47 L307.49 254.47 L308.12 254.47 L308.75 254.47 L309.38 254.47 L310 254.48 L310.63 254.48 L311.26 254.48 L311.89 254.48 L312.52 254.48 L313.15 254.48 L313.77 254.48 L314.4 254.48 L315.03 254.48 L315.66 254.49 L316.29 254.49 L316.91 254.49 L317.54 254.49 L318.17 254.49 L318.8 254.49 L319.43 254.49 L320.06 254.49 L320.68 254.49 L321.31 254.49 L321.94 254.49 L322.57 254.49 L323.2 254.49 L323.82 254.49 L324.45 254.49 L325.08 254.49 L325.71 254.49 L326.34 254.49 L326.97 254.49" fill="none" stroke="#00ff00" stroke-width="1.45" stroke-linejoin="round" stroke-linecap="butt"/>
<circle cx="76.56" cy="249.61" r="2.75" fill="#ff0000"/>
<circle cx="80.08" cy="242.86" r="2.75" fill="#ff0000"/>
<circle cx="83.61" cy="234.1" r="2.75" fill="#ff0000"/>
<circle cx="87.13" cy="224.07" r="2.75" fill="#ff0000"/>
<circle cx="90.65" cy="213.88" r="2.75" fill="#ff0000"/>
<circle cx="94.17" cy="203.02" r="2.75" fill="#ff0000"/>
<circle cx="97.7" cy="191.19" r="2.75" fill="#ff0000"/>
<circle cx="101.22" cy="179.96" r="2.75" fill="#ff0000"/>
<circle cx="104.74" cy="169.39" r="2.75" fill="#ff0000"/>
<circle cx="108.27" cy="160" r="2.75" fill="#ff0000"/>
<circle cx="111.79" cy="152.8" r="2.75" fill="#ff0000"/>
<circle cx="115.31" cy="148.29" r="2.75" fill="#ff0000"/>
<circle cx="118.83" cy="145.94" r="2.75" fill="#ff0000"/>
<circle cx="122.36" cy="144.94" r="2.75" fill="#ff0000"/>
<circle cx="125.88" cy="145.68" r="2.75" fill="#ff0000"/>
<circle cx="129.4" cy="148.38" r="2.75" fill="#ff0000"/>
<circle cx="132.93" cy="152.72" r="2.75" fill="#ff0000"/>
<circle cx="136.45" cy="158.22" r="2.75" fill="#ff0000"/>
<circle cx="139.97" cy="164.94" r="2.75" fill="#ff0000"/>
<circle cx="143.49" cy="173.01" r="2.75" fill="#ff0000"/>
<circle cx="147.02" cy="181.94" r="2.75" fill="#ff0000"/>
<circle cx="150.54" cy="191.2" r="2.75" fill="#ff0000"/>
<circle cx="154.06" cy="200.53" r="2.75" fill="#ff0000"/>
<circle cx="157.58" cy="208.17" r="2.75" fill="#ff0000"/>
<circle cx="161.11" cy="214.5" r="2.75" fill="#ff0000"/>
<circle cx="164.63" cy="220.25" r="2.75" fill="#ff0000"/>
<circle cx="168.15" cy="225.77" r="2.75" fill="#ff0000"/>
<circle cx="171.68" cy="230.83" r="2.75" fill="#ff0000"/>
<circle cx="175.2" cy="234.98" r="2.75" fill="#ff0000"/>
<circle cx="178.72" cy="238.26" r="2.75" fill="#ff0000"/>
<circle cx="182.24" cy="241.34" r="2.75" fill="#ff0000"/>
<circle cx="185.77" cy="244.29" r="2.75" fill="#ff0000"/>
<circle cx="189.29" cy="246.62" r="2.75" fill="#ff0000"/>
<circle cx="192.81" cy="248.42" r="2.75" fill="#ff0000"/>
<circle cx="196.33" cy="249.81" r="2.75" fill="#ff0000"/>
<circle cx="199.86" cy="250.89" r="2.75" fill="#ff0000"/>
<circle cx="203.38" cy="251.7" r="2.75" fill="#ff0000"/>
<circle cx="206.9" cy="252.32" r="2.75" fill="#ff0000"/>
<circle cx="210.43" cy="252.85" r="2.75" fill="#ff0000"/>
<circle cx="213.95" cy="253.32" r="2.75" fill="#ff0000"/>
<circle cx="217.47" cy="253.67" r="2.75" fill="#ff0000"/>
<circle cx="220.99" cy="253.93" r="2.75" fill="#ff0000"/>
<circle cx="224.52" cy="254.11" r="2.75" fill="#ff0000"/>
<circle cx="228.04" cy="254.24" r="2.75" fill="#ff0000"/>
<circle cx="231.56" cy="254.33" r="2.75" fill="#ff0000"/>
<circle cx="235.08" cy="254.39" r="2.75" fill="#ff0000"/>
<circle cx="238.61" cy="254.43" r="2.75" fill="#ff0000"/>
<circle cx="242.13" cy="254.45" r="2.75" fill="#ff0000"/>
<circle cx="245.65" cy="254.47" r="2.75" fill="#ff0000"/>
<circle cx="249.18" cy="254.48" r="2.75" fill="#ff0000"/>
<circle cx="252.7" cy="254.49" r="2.75" fill="#ff0000"/>
<path d="M76.33 249.94 L76.77 249.3 L77.21 248.6 L77.65 247.86 L78.09 247.05 L78.53 246.2 L78.97 245.3 L79.41 244.37 L79.85 243.39 L80.29 242.39 L80.73 241.36 L81.17 240.3 L81.61 239.23 L82.05 238.13 L82.49 237.02 L82.93 235.88 L83.37 234.73 L83.81 233.55 L84.25 232.35 L84.69 231.13 L85.13 229.89 L85.57 228.63 L86.01 227.35 L86.45 226.06 L86.89 224.77 L87.33 223.48 L87.77 222.19 L88.21 220.91 L88.65 219.63 L89.09 218.36 L89.53 217.1 L89.97 215.84 L90.41 214.57 L90.85 213.3 L91.29 212.02 L91.73 210.72 L92.17 209.39 L92.61 208.04 L93.05 206.66 L93.49 205.26 L93.93 203.83 L94.37 202.38 L94.81 200.91 L95.25 199.43 L95.69 197.95 L96.13 196.46 L96.57 194.97 L97.01 193.48 L97.45 192.01 L97.89 190.55 L98.33 189.1 L98.77 187.66 L99.21 186.24 L99.65 184.84 L100.09 183.46 L100.53 182.08 L100.97 180.72 L101.41 179.37 L101.85 178.03 L102.29 176.7 L102.73 175.37 L103.17 174.04 L103.61 172.73 L104.05 171.42 L104.49 170.13 L104.93 168.85 L105.37 167.59 L105.81 166.35 L106.25 165.14 L106.69 163.96 L107.13 162.81 L107.57 161.69 L108.01 160.61 L108.45 159.56 L108.89 158.55 L109.33 157.57 L109.77 156.63 L110.21 155.72 L110.65 154.85 L111.09 154.02 L111.53 153.24 L111.97 152.49 L112.41 151.79 L112.85 151.14 L113.29 150.53 L113.73 149.97 L114.17 149.45 L114.61 148.97 L115.05 148.53 L115.49 148.12 L115.93 147.75 L116.37 147.41 L116.81 147.1 L117.25 146.8 L117.69 146.54 L118.13 146.29 L118.57 146.06 L119.01 145.85 L119.45 145.66 L119.89 145.49 L120.33 145.34 L120.77 145.21 L121.21 145.1 L121.65 145.02 L122.09 144.96 L122.53 144.93 L122.97 144.92 L123.41 144.95 L123.85 145.01 L124.29 145.1 L124.73 145.22 L125.17 145.37 L125.61 145.55 L126.05 145.77 L126.49 146.01 L126.93 146.29 L127.37 146.6 L127.81 146.93 L128.25 147.3 L128.69 147.69 L129.13 148.11 L129.57 148.55 L130.01 149.03 L130.45 149.52 L130.89 150.04 L131.33 150.58 L131.77 151.15 L132.21 151.73 L132.65 152.33 L133.09 152.95 L133.53 153.58 L133.97 154.24 L134.41 154.9 L134.85 155.59 L135.29 156.29 L135.73 157 L136.17 157.74 L136.61 158.49 L137.05 159.27 L137.49 160.06 L137.93 160.88 L138.37 161.71 L138.81 162.57 L139.25 163.45 L139.69 164.35 L140.13 165.27 L140.57 166.22 L141.01 167.18 L141.45 168.17 L141.89 169.17 L142.33 170.2 L142.77 171.25 L143.21 172.31 L143.65 173.39 L144.09 174.49 L144.53 175.6 L144.97 176.71 L145.41 177.83 L145.85 178.96 L146.29 180.08 L146.73 181.21 L147.17 182.34 L147.61 183.47 L148.05 184.6 L148.49 185.75 L148.93 186.9 L149.37 188.06 L149.81 189.23 L150.25 190.42 L150.69 191.61 L151.13 192.81 L151.57 194.02 L152.01 195.21 L152.45 196.39 L152.89 197.56 L153.33 198.7 L153.77 199.81 L154.21 200.9 L154.65 201.94 L155.09 202.96 L155.53 203.94 L155.97 204.9 L156.41 205.82 L156.85 206.72 L157.29 207.6 L157.73 208.45 L158.17 209.29 L158.61 210.11 L159.05 210.91 L159.49 211.7 L159.93 212.48 L160.37 213.24 L160.81 213.99 L161.25 214.74 L161.69 215.47 L162.13 216.2 L162.57 216.92 L163.01 217.64 L163.45 218.35 L163.89 219.06 L164.33 219.77 L164.77 220.47 L165.21 221.17 L165.65 221.87 L166.09 222.57 L166.53 223.26 L166.97 223.95 L167.41 224.63 L167.85 225.31 L168.29 225.98 L168.73 226.64 L169.17 227.3 L169.61 227.94 L170.05 228.58 L170.49 229.21 L170.93 229.82 L171.37 230.42 L171.81 231.01 L172.25 231.58 L172.69 232.14 L173.13 232.67 L173.57 233.2 L174.01 233.7 L174.45 234.19 L174.89 234.66 L175.33 235.12 L175.77 235.56 L176.21 235.99 L176.65 236.4 L177.09 236.81 L177.53 237.21 L177.97 237.6 L178.41 237.99 L178.85 238.37 L179.29 238.75 L179.73 239.13 L180.17 239.51 L180.61 239.9 L181.05 240.29 L181.49 240.67 L181.93 241.06 L182.37 241.45 L182.81 241.84 L183.25 242.23 L183.69 242.6 L184.13 242.98 L184.57 243.34 L185.01 243.7 L185.45 244.04 L185.89 244.38 L186.33 244.7 L186.77 245.02 L187.21 245.32 L187.65 245.62 L188.09 245.9 L188.53 246.17 L188.97 246.44 L189.41 246.69 L189.85 246.94 L190.29 247.18 L190.73 247.41 L191.17 247.64 L191.61 247.85 L192.05 248.07 L192.49 248.27 L192.93 248.47 L193.37 248.66 L193.81 248.85 L194.25 249.03 L194.69 249.21 L195.13 249.38 L195.57 249.54 L196.01 249.7 L196.45 249.86 L196.89 250 L197.33 250.15 L197.77 250.29 L198.21 250.42 L198.65 250.56 L199.09 250.68 L199.53 250.81 L199.97 250.92 L200.41 251.04 L200.85 251.15 L201.29 251.25 L201.73 251.36 L202.17 251.45 L202.61 251.55 L203.05 251.64 L203.49 251.73 L203.93 251.81 L204.37 251.89 L204.81 251.97 L205.25 252.05 L205.69 252.12 L206.13 252.2 L206.57 252.27 L207.01 252.34 L207.45 252.41 L207.89 252.48 L208.33 252.54 L208.77 252.61 L209.21 252.68 L209.65 252.74 L210.09 252.8 L210.53 252.87 L210.97 252.93 L211.41 252.99 L211.85 253.05 L212.29 253.11 L212.73 253.17 L213.17 253.22 L213.61 253.28 L214.05 253.33 L214.49 253.38 L214.93 253.43 L215.37 253.47 L215.81 253.52 L216.25 253.56 L216.69 253.6 L217.13 253.64 L217.57 253.68 L218.01 253.72 L218.45 253.75 L218.89 253.79 L219.33 253.82 L219.77 253.85 L220.21 253.88 L220.65 253.91 L221.09 253.94 L221.53 253.96 L221.97 253.99 L222.41 254.01 L222.85 254.04 L223.29 254.06 L223.73 254.08 L224.17 254.1 L224.61 254.12 L225.05 254.14 L225.49 254.15 L225.93 254.17 L226.37 254.19 L226.81 254.2 L227.25 254.22 L227.69 254.23 L228.13 254.24 L228.57 254.26 L229.01 254.27 L229.45 254.28 L229.89 254.29 L230.33 254.3 L230.77 254.31 L231.21 254.32 L231.65 254.33 L232.09 254.34 L232.53 254.35 L232.97 254.35 L233.41 254.36 L233.85 254.37 L234.29 254.38 L234.73 254.38 L235.17 254.39 L235.61 254.39 L236.05 254.4 L236.49 254.41 L236.93 254.41 L237.37 254.41 L237.81 254.42 L238.25 254.42 L238.69 254.43 L239.13 254.43 L239.57 254.44 L240.01 254.44 L240.45 254.44 L240.89 254.45 L241.33 254.45 L241.77 254.45 L242.21 254.45 L242.65 254.46 L243.09 254.46 L243.53 254.46 L243.97 254.46 L244.41 254.47 L244.85 254.47 L245.29 254.47 L245.73 254.47 L246.17 254.47 L246.61 254.47 L247.05 254.48 L247.49 254.48 L247.93 254.48 L248.37 254.48 L248.81 254.48 L249.25 254.48 L249.69 254.48 L250.13 254.48 L250.57 254.48 L251.01 254.49 L251.45 254.49 L251.89 254.49" fill="none" stroke="#ff0000" stroke-width="1.45" stroke-linejoin="round" stroke-linecap="butt"/>
<path d="M79.8 253.63 L80.64 253.35 L81.48 253.07 L82.32 252.77 L83.16 252.46 L84.01 252.14 L84.85 251.81 L85.69 251.47 L86.53 251.13 L87.38 250.78 L88.22 250.42 L89.06 250.05 L89.9 249.68 L90.75 249.3 L91.59 248.92 L92.43 248.53 L93.27 248.13 L94.12 247.72 L94.96 247.3 L95.8 246.88 L96.64 246.45 L97.48 246 L98.33 245.55 L99.17 245.1 L100.01 244.63 L100.85 244.16 L101.7 243.69 L102.54 243.21 L103.38 242.73 L104.22 242.25 L105.07 241.77 L105.91 241.29 L106.75 240.81 L107.59 240.33 L108.44 239.86 L109.28 239.39 L110.12 238.92 L110.96 238.45 L111.81 237.99 L112.65 237.52 L113.49 237.06 L114.33 236.6 L115.17 236.13 L116.02 235.67 L116.86 235.21 L117.7 234.75 L118.54 234.29 L119.39 233.83 L120.23 233.37 L121.07 232.91 L121.91 232.44 L122.76 231.98 L123.6 231.52 L124.44 231.05 L125.28 230.59 L126.13 230.12 L126.97 229.65 L127.81 229.19 L128.65 228.72 L129.49 228.26 L130.34 227.8 L131.18 227.34 L132.02 226.88 L132.86 226.42 L133.71 225.96 L134.55 225.51 L135.39 225.07 L136.23 224.62 L137.08 224.18 L137.92 223.74 L138.76 223.31 L139.6 222.87 L140.45 222.45 L141.29 222.02 L142.13 221.61 L142.97 221.19 L143.81 220.78 L144.66 220.38 L145.5 219.98 L146.34 219.59 L147.18 219.2 L148.03 218.81 L148.87 218.44 L149.71 218.06 L150.55 217.7 L151.4 217.34 L152.24 216.99 L153.08 216.64 L153.92 216.3 L154.77 215.98 L155.61 215.66 L156.45 215.34 L157.29 215.04 L158.14 214.75 L158.98 214.47 L159.82 214.2 L160.66 213.94 L161.5 213.69 L162.35 213.46 L163.19 213.23 L164.03 213.01 L164.87 212.8 L165.72 212.61 L166.56 212.42 L167.4 212.23 L168.24 212.06 L169.09 211.89 L169.93 211.74 L170.77 211.58 L171.61 211.44 L172.46 211.3 L173.3 211.17 L174.14 211.05 L174.98 210.93 L175.83 210.82 L176.67 210.72 L177.51 210.63 L178.35 210.54 L179.19 210.47 L180.04 210.4 L180.88 210.33 L181.72 210.28 L182.56 210.23 L183.41 210.19 L184.25 210.16 L185.09 210.14 L185.93 210.13 L186.78 210.13 L187.62 210.13 L188.46 210.14 L189.3 210.16 L190.15 210.19 L190.99 210.22 L191.83 210.26 L192.67 210.3 L193.51 210.35 L194.36 210.4 L195.2 210.46 L196.04 210.52 L196.88 210.58 L197.73 210.64 L198.57 210.71 L199.41 210.79 L200.25 210.87 L201.1 210.95 L201.94 211.04 L202.78 211.13 L203.62 211.24 L204.47 211.34 L205.31 211.46 L206.15 211.58 L206.99 211.71 L207.84 211.84 L208.68 211.98 L209.52 212.13 L210.36 212.29 L211.2 212.45 L212.05 212.62 L212.89 212.8 L213.73 212.98 L214.57 213.17 L215.42 213.36 L216.26 213.56 L217.1 213.77 L217.94 213.98 L218.79 214.19 L219.63 214.41 L220.47 214.64 L221.31 214.87 L222.16 215.1 L223 215.33 L223.84 215.57 L224.68 215.81 L225.52 216.05 L226.37 216.3 L227.21 216.54 L228.05 216.79 L228.89 217.03 L229.74 217.28 L230.58 217.53 L231.42 217.78 L232.26 218.03 L233.11 218.28 L233.95 218.53 L234.79 218.78 L235.63 219.03 L236.48 219.28 L237.32 219.53 L238.16 219.78 L239 220.03 L239.85 220.28 L240.69 220.53 L241.53 220.78 L242.37 221.04 L243.21 221.29 L244.06 221.54 L244.9 221.8 L245.74 222.05 L246.58 222.31 L247.43 222.56 L248.27 222.82 L249.11 223.08 L249.95 223.34 L250.8 223.6 L251.64 223.86 L252.48 224.12 L253.32 224.38 L254.17 224.64 L255.01 224.9 L255.85 225.16 L256.69 225.42 L257.53 225.68 L258.38 225.95 L259.22 226.21 L260.06 226.47 L260.9 226.74 L261.75 227.01 L262.59 227.28 L263.43 227.55 L264.27 227.83 L265.12 228.11 L265.96 228.39 L266.8 228.68 L267.64 228.96 L268.49 229.26 L269.33 229.56 L270.17 229.86 L271.01 230.16 L271.86 230.47 L272.7 230.78 L273.54 231.1 L274.38 231.42 L275.22 231.75 L276.07 232.08 L276.91 232.41 L277.75 232.74 L278.59 233.08 L279.44 233.41 L280.28 233.74 L281.12 234.07 L281.96 234.4 L282.81 234.73 L283.65 235.05 L284.49 235.36 L285.33 235.68 L286.18 235.99 L287.02 236.29 L287.86 236.6 L288.7 236.9 L289.54 237.2 L290.39 237.49 L291.23 237.79 L292.07 238.08 L292.91 238.38 L293.76 238.67 L294.6 238.96 L295.44 239.25 L296.28 239.54 L297.13 239.82 L297.97 240.11 L298.81 240.39 L299.65 240.67 L300.5 240.94 L301.34 241.22 L302.18 241.49 L303.02 241.76 L303.87 242.02 L304.71 242.28 L305.55 242.54 L306.39 242.79 L307.23 243.05 L308.08 243.29 L308.92 243.54 L309.76 243.78 L310.6 244.02 L311.45 244.25 L312.29 244.48 L313.13 244.71 L313.97 244.94 L314.82 245.16 L315.66 245.38 L316.5 245.6 L317.34 245.81 L318.19 246.03 L319.03 246.24 L319.87 246.45 L320.71 246.66 L321.55 246.86 L322.4 247.07 L323.24 247.27 L324.08 247.47 L324.92 247.67 L325.77 247.86 L326.61 248.05 L327.45 248.24 L328.29 248.43 L329.14 248.61 L329.98 248.79 L330.82 248.97 L331.66 249.14 L332.51 249.31 L333.35 249.48 L334.19 249.64 L335.03 249.8 L335.88 249.96 L336.72 250.12 L337.56 250.27 L338.4 250.41 L339.24 250.55 L340.09 250.69 L340.93 250.83 L341.77 250.96 L342.61 251.08 L343.46 251.2 L344.3 251.32 L345.14 251.43 L345.98 251.54 L346.83 251.64 L347.67 251.74 L348.51 251.83 L349.35 251.93 L350.2 252.01 L351.04 252.1 L351.88 252.18 L352.72 252.27 L353.56 252.35 L354.41 252.42 L355.25 252.5 L356.09 252.58 L356.93 252.65 L357.78 252.72 L358.62 252.79 L359.46 252.86 L360.3 252.93 L361.15 252.99 L361.99 253.05 L362.83 253.11 L363.67 253.17 L364.52 253.22 L365.36 253.27 L366.2 253.32 L367.04 253.37 L367.88 253.41 L368.73 253.45 L369.57 253.49 L370.41 253.53 L371.25 253.56 L372.1 253.59 L372.94 253.62 L373.78 253.65 L374.62 253.68 L375.47 253.7 L376.31 253.73 L377.15 253.75 L377.99 253.78 L378.84 253.8 L379.68 253.82 L380.52 253.84 L381.36 253.86 L382.21 253.88 L383.05 253.9 L383.89 253.92 L384.73 253.94 L385.57 253.96 L386.42 253.97 L387.26 253.99 L388.1 254.01 L388.94 254.02 L389.79 254.04 L390.63 254.05 L391.47 254.07 L392.31 254.08 L393.16 254.1 L394 254.11 L394.84 254.12 L395.68 254.13 L396.53 254.15 L397.37 254.16 L398.21 254.17 L399.05 254.18 L399.89 254.19 L400.74 254.2 L401.58 254.21 L402.42 254.22 L403.26 254.23 L404.11 254.24 L404.95 254.25 L405.79 254.26 L406.63 254.27 L407.48 254.28 L408.32 254.28 L409.16 254.29 L410 254.3 L410.85 254.31 L411.69 254.31 L412.53 254.32 L413.37 254.33 L414.22 254.33 L415.06 254.34 L415.9 254.35" fill="none" stroke="#00ffff" stroke-width="1.45" stroke-linejoin="round" stroke-linecap="butt"/>
<path d="M80.95 254.23 L81.79 254.15 L82.63 254.06 L83.47 253.96 L84.31 253.85 L85.15 253.73 L85.99 253.61 L86.83 253.48 L87.67 253.35 L88.51 253.2 L89.34 253.06 L90.18 252.9 L91.02 252.74 L91.86 252.58 L92.7 252.41 L93.54 252.23 L94.38 252.05 L95.22 251.86 L96.06 251.67 L96.9 251.48 L97.74 251.28 L98.58 251.08 L99.42 250.87 L100.26 250.66 L101.1 250.45 L101.94 250.23 L102.78 250 L103.62 249.78 L104.46 249.54 L105.29 249.31 L106.13 249.06 L106.97 248.81 L107.81 248.56 L108.65 248.3 L109.49 248.03 L110.33 247.76 L111.17 247.48 L112.01 247.19 L112.85 246.9 L113.69 246.61 L114.53 246.31 L115.37 246 L116.21 245.7 L117.05 245.39 L117.89 245.08 L118.73 244.78 L119.57 244.47 L120.41 244.17 L121.24 243.86 L122.08 243.56 L122.92 243.26 L123.76 242.96 L124.6 242.67 L125.44 242.37 L126.28 242.08 L127.12 241.79 L127.96 241.5 L128.8 241.2 L129.64 240.91 L130.48 240.61 L131.32 240.31 L132.16 240.01 L133 239.7 L133.84 239.39 L134.68 239.08 L135.52 238.76 L136.36 238.44 L137.19 238.11 L138.03 237.78 L138.87 237.45 L139.71 237.11 L140.55 236.77 L141.39 236.44 L142.23 236.1 L143.07 235.77 L143.91 235.44 L144.75 235.12 L145.59 234.82 L146.43 234.52 L147.27 234.23 L148.11 233.97 L148.95 233.71 L149.79 233.47 L150.63 233.25 L151.47 233.04 L152.31 232.84 L153.14 232.65 L153.98 232.46 L154.82 232.28 L155.66 232.09 L156.5 231.9 L157.34 231.7 L158.18 231.48 L159.02 231.25 L159.86 231 L160.7 230.74 L161.54 230.47 L162.38 230.18 L163.22 229.89 L164.06 229.58 L164.9 229.27 L165.74 228.96 L166.58 228.65 L167.42 228.34 L168.26 228.03 L169.09 227.73 L169.93 227.44 L170.77 227.15 L171.61 226.88 L172.45 226.6 L173.29 226.34 L174.13 226.08 L174.97 225.83 L175.81 225.58 L176.65 225.34 L177.49 225.1 L178.33 224.87 L179.17 224.65 L180.01 224.42 L180.85 224.2 L181.69 223.99 L182.53 223.78 L183.37 223.57 L184.21 223.37 L185.04 223.17 L185.88 222.97 L186.72 222.78 L187.56 222.58 L188.4 222.4 L189.24 222.21 L190.08 222.04 L190.92 221.86 L191.76 221.69 L192.6 221.52 L193.44 221.36 L194.28 221.21 L195.12 221.06 L195.96 220.92 L196.8 220.78 L197.64 220.65 L198.48 220.53 L199.32 220.41 L200.16 220.3 L200.99 220.2 L201.83 220.09 L202.67 220 L203.51 219.9 L204.35 219.81 L205.19 219.72 L206.03 219.64 L206.87 219.55 L207.71 219.47 L208.55 219.39 L209.39 219.32 L210.23 219.25 L211.07 219.18 L211.91 219.11 L212.75 219.04 L213.59 218.98 L214.43 218.92 L215.27 218.87 L216.11 218.82 L216.94 218.77 L217.78 218.73 L218.62 218.69 L219.46 218.66 L220.3 218.63 L221.14 218.61 L221.98 218.6 L222.82 218.59 L223.66 218.58 L224.5 218.58 L225.34 218.59 L226.18 218.61 L227.02 218.63 L227.86 218.65 L228.7 218.68 L229.54 218.72 L230.38 218.76 L231.22 218.81 L232.06 218.86 L232.89 218.91 L233.73 218.97 L234.57 219.03 L235.41 219.09 L236.25 219.16 L237.09 219.22 L237.93 219.29 L238.77 219.37 L239.61 219.44 L240.45 219.52 L241.29 219.6 L242.13 219.68 L242.97 219.76 L243.81 219.85 L244.65 219.93 L245.49 220.02 L246.33 220.11 L247.17 220.21 L248.01 220.3 L248.84 220.4 L249.68 220.5 L250.52 220.6 L251.36 220.71 L252.2 220.81 L253.04 220.92 L253.88 221.03 L254.72 221.13 L255.56 221.24 L256.4 221.35 L257.24 221.45 L258.08 221.56 L258.92 221.66 L259.76 221.76 L260.6 221.87 L261.44 221.97 L262.28 222.08 L263.12 222.18 L263.96 222.3 L264.79 222.42 L265.63 222.54 L266.47 222.67 L267.31 222.8 L268.15 222.95 L268.99 223.1 L269.83 223.25 L270.67 223.41 L271.51 223.57 L272.35 223.74 L273.19 223.91 L274.03 224.08 L274.87 224.25 L275.71 224.43 L276.55 224.61 L277.39 224.79 L278.23 224.97 L279.07 225.16 L279.91 225.35 L280.74 225.54 L281.58 225.73 L282.42 225.92 L283.26 226.11 L284.1 226.31 L284.94 226.51 L285.78 226.71 L286.62 226.92 L287.46 227.12 L288.3 227.33 L289.14 227.54 L289.98 227.75 L290.82 227.96 L291.66 228.17 L292.5 228.39 L293.34 228.6 L294.18 228.81 L295.02 229.02 L295.86 229.23 L296.69 229.44 L297.53 229.65 L298.37 229.86 L299.21 230.07 L300.05 230.28 L300.89 230.48 L301.73 230.68 L302.57 230.88 L303.41 231.08 L304.25 231.28 L305.09 231.48 L305.93 231.68 L306.77 231.88 L307.61 232.07 L308.45 232.27 L309.29 232.46 L310.13 232.66 L310.97 232.85 L311.81 233.05 L312.64 233.24 L313.48 233.43 L314.32 233.63 L315.16 233.82 L316 234.01 L316.84 234.2 L317.68 234.4 L318.52 234.59 L319.36 234.78 L320.2 234.97 L321.04 235.16 L321.88 235.35 L322.72 235.53 L323.56 235.72 L324.4 235.91 L325.24 236.09 L326.08 236.28 L326.92 236.46 L327.76 236.65 L328.59 236.83 L329.43 237.02 L330.27 237.2 L331.11 237.39 L331.95 237.57 L332.79 237.76 L333.63 237.94 L334.47 238.13 L335.31 238.31 L336.15 238.5 L336.99 238.69 L337.83 238.88 L338.67 239.06 L339.51 239.25 L340.35 239.44 L341.19 239.63 L342.03 239.82 L342.87 240.01 L343.71 240.2 L344.54 240.39 L345.38 240.58 L346.22 240.77 L347.06 240.95 L347.9 241.14 L348.74 241.32 L349.58 241.5 L350.42 241.69 L351.26 241.86 L352.1 242.04 L352.94 242.22 L353.78 242.39 L354.62 242.56 L355.46 242.73 L356.3 242.9 L357.14 243.06 L357.98 243.23 L358.82 243.39 L359.66 243.55 L360.49 243.71 L361.33 243.87 L362.17 244.02 L363.01 244.18 L363.85 244.33 L364.69 244.48 L365.53 244.62 L366.37 244.77 L367.21 244.91 L368.05 245.05 L368.89 245.19 L369.73 245.33 L370.57 245.46 L371.41 245.59 L372.25 245.72 L373.09 245.85 L373.93 245.98 L374.77 246.1 L375.61 246.22 L376.44 246.34 L377.28 246.46 L378.12 246.57 L378.96 246.68 L379.8 246.79 L380.64 246.9 L381.48 247.01 L382.32 247.12 L383.16 247.22 L384 247.33 L384.84 247.43 L385.68 247.53 L386.52 247.63 L387.36 247.73 L388.2 247.82 L389.04 247.92 L389.88 248.01 L390.72 248.11 L391.56 248.2 L392.39 248.29 L393.23 248.38 L394.07 248.47 L394.91 248.55 L395.75 248.64 L396.59 248.72 L397.43 248.8 L398.27 248.89 L399.11 248.97 L399.95 249.04 L400.79 249.12 L401.63 249.2 L402.47 249.28 L403.31 249.35 L404.15 249.42 L404.99 249.5 L405.83 249.57 L406.67 249.64 L407.51 249.71 L408.34 249.78 L409.18 249.85 L410.02 249.91 L410.86 249.98 L411.7 250.05 L412.54 250.12 L413.38 250.19 L414.22 250.26 L415.06 250.32 L415.9 250.39" fill="none" stroke="#ff00ff" stroke-width="1.45" stroke-linejoin="round" stroke-linecap="butt"/>
<path d="M75.52 234.35 L75.66 233.32 L75.79 232.25 L75.93 231.15 L76.07 230.01 L76.2 228.83 L76.34 227.62 L76.48 226.38 L76.61 225.11 L76.75 223.8 L76.88 222.47 L77.02 221.12 L77.16 219.75 L77.29 218.37 L77.43 216.97 L77.57 215.56 L77.7 214.15 L77.84 212.74 L77.98 211.33 L78.11 209.92 L78.25 208.5 L78.38 207.1 L78.52 205.69 L78.66 204.28 L78.79 202.87 L78.93 201.46 L79.07 200.04 L79.2 198.62 L79.34 197.19 L79.48 195.76 L79.61 194.32 L79.75 192.87 L79.88 191.41 L80.02 189.95 L80.16 188.48 L80.29 187 L80.43 185.53 L80.57 184.05 L80.7 182.56 L80.84 181.09 L80.98 179.61 L81.11 178.14 L81.25 176.67 L81.38 175.21 L81.52 173.76 L81.66 172.31 L81.79 170.88 L81.93 169.44 L82.07 168.02 L82.2 166.6 L82.34 165.17 L82.47 163.75 L82.61 162.32 L82.75 160.88 L82.88 159.43 L83.02 157.96 L83.16 156.48 L83.29 154.98 L83.43 153.46 L83.57 151.92 L83.7 150.36 L83.84 148.79 L83.97 147.2 L84.11 145.59 L84.25 143.97 L84.38 142.33 L84.52 140.68 L84.66 139.02 L84.79 137.34 L84.93 135.65 L85.07 133.95 L85.2 132.23 L85.34 130.51 L85.47 128.77 L85.61 127.03 L85.75 125.28 L85.88 123.52 L86.02 121.76 L86.16 119.99 L86.29 118.21 L86.43 116.42 L86.57 114.61 L86.7 112.79 L86.84 110.94 L86.97 109.06 L87.11 107.14 L87.25 105.18 L87.38 103.18 L87.52 101.13 L87.66 99.04 L87.79 96.91 L87.93 94.75 L88.06 92.57 L88.2 90.38 L88.34 88.18 L88.47 86.01 L88.61 83.85 L88.75 81.72 L88.88 79.63 L89.02 77.58 L89.16 75.58 L89.29 73.62 L89.43 71.72 L89.56 69.86 L89.7 68.05 L89.84 66.28 L89.97 64.57 L90.11 62.89 L90.25 61.26 L90.38 59.66 L90.52 58.1 L90.66 56.58 L90.79 55.08 L90.93 53.62 L91.06 52.18 L91.2 50.77 L91.34 49.38 L91.47 48.02 L91.61 46.69 L91.75 45.37 L91.88 44.09 L92.02 42.83 L92.16 41.61 L92.29 40.41 L92.43 39.25 L92.56 38.13 L92.7 37.05 L92.84 36 L92.97 35 L93.11 34.03 L93.25 33.11 L93.38 32.23 L93.52 31.39 L93.66 30.6 L93.79 29.84 L93.93 29.12 L94.06 28.44 L94.2 27.8 L94.34 27.19 L94.47 26.63 L94.61 26.1 L94.75 25.62 L94.88 25.17 L95.02 24.76 L95.15 24.39 L95.29 24.05 L95.43 23.76 L95.56 23.5 L95.7 23.27 L95.84 23.08 L95.97 22.93 L96.11 22.8 L96.25 22.7 L96.38 22.63 L96.52 22.58 L96.65 22.56 L96.79 22.57 L96.93 22.59 L97.06 22.65 L97.2 22.72 L97.34 22.83 L97.47 22.95 L97.61 23.11 L97.75 23.3 L97.88 23.51 L98.02 23.76 L98.15 24.04 L98.29 24.36 L98.43 24.71 L98.56 25.1 L98.7 25.52 L98.84 25.99 L98.97 26.49 L99.11 27.03 L99.25 27.61 L99.38 28.23 L99.52 28.89 L99.65 29.57 L99.79 30.29 L99.93 31.05 L100.06 31.83 L100.2 32.63 L100.34 33.47 L100.47 34.33 L100.61 35.21 L100.74 36.11 L100.88 37.04 L101.02 37.99 L101.15 38.96 L101.29 39.95 L101.43 40.97 L101.56 42 L101.7 43.06 L101.84 44.14 L101.97 45.24 L102.11 46.36 L102.24 47.5 L102.38 48.66 L102.52 49.84 L102.65 51.05 L102.79 52.27 L102.93 53.5 L103.06 54.76 L103.2 56.03 L103.34 57.31 L103.47 58.61 L103.61 59.92 L103.74 61.24 L103.88 62.58 L104.02 63.92 L104.15 65.28 L104.29 66.64 L104.43 68 L104.56 69.37 L104.7 70.74 L104.84 72.11 L104.97 73.48 L105.11 74.84 L105.24 76.19 L105.38 77.53 L105.52 78.85 L105.65 80.15 L105.79 81.44 L105.93 82.72 L106.06 83.98 L106.2 85.22 L106.33 86.46 L106.47 87.68 L106.61 88.91 L106.74 90.14 L106.88 91.37 L107.02 92.61 L107.15 93.86 L107.29 95.13 L107.43 96.41 L107.56 97.7 L107.7 99.01 L107.83 100.33 L107.97 101.66 L108.11 102.99 L108.24 104.32 L108.38 105.66 L108.52 106.99 L108.65 108.32 L108.79 109.64 L108.93 110.96 L109.06 112.27 L109.2 113.58 L109.33 114.88 L109.47 116.19 L109.61 117.5 L109.74 118.81 L109.88 120.12 L110.02 121.45 L110.15 122.78 L110.29 124.13 L110.43 125.48 L110.56 126.84 L110.7 128.22 L110.83 129.6 L110.97 131 L111.11 132.4 L111.24 133.82 L111.38 135.24 L111.52 136.67 L111.65 138.11 L111.79 139.56 L111.92 141.02 L112.06 142.48 L112.2 143.95 L112.33 145.43 L112.47 146.91 L112.61 148.4 L112.74 149.89 L112.88 151.38 L113.02 152.87 L113.15 154.37 L113.29 155.87 L113.42 157.37 L113.56 158.88 L113.7 160.4 L113.83 161.93 L113.97 163.47 L114.11 165.03 L114.24 166.6 L114.38 168.18 L114.52 169.77 L114.65 171.37 L114.79 172.96 L114.92 174.53 L115.06 176.08 L115.2 177.6 L115.33 179.07 L115.47 180.5 L115.61 181.87 L115.74 183.18 L115.88 184.44 L116.02 185.64 L116.15 186.8 L116.29 187.9 L116.42 188.97 L116.56 190 L116.7 191.01 L116.83 191.99 L116.97 192.96 L117.11 193.91 L117.24 194.86 L117.38 195.8 L117.51 196.74 L117.65 197.68 L117.79 198.62 L117.92 199.56 L118.06 200.51 L118.2 201.45 L118.33 202.4 L118.47 203.35 L118.61 204.3 L118.74 205.25 L118.88 206.19 L119.01 207.13 L119.15 208.07 L119.29 208.99 L119.42 209.91 L119.56 210.82 L119.7 211.72 L119.83 212.61 L119.97 213.49 L120.11 214.36 L120.24 215.21 L120.38 216.06 L120.51 216.9 L120.65 217.73 L120.79 218.55 L120.92 219.36 L121.06 220.17 L121.2 220.97 L121.33 221.76 L121.47 222.54 L121.61 223.31 L121.74 224.08 L121.88 224.83 L122.01 225.58 L122.15 226.31 L122.29 227.03 L122.42 227.74 L122.56 228.43 L122.7 229.11 L122.83 229.77 L122.97 230.41 L123.1 231.03 L123.24 231.64 L123.38 232.22 L123.51 232.79 L123.65 233.34 L123.79 233.87 L123.92 234.39 L124.06 234.89 L124.2 235.38 L124.33 235.86 L124.47 236.32 L124.6 236.78 L124.74 237.22 L124.88 237.65 L125.01 238.07 L125.15 238.48 L125.29 238.88 L125.42 239.28 L125.56 239.66 L125.7 240.04 L125.83 240.41 L125.97 240.76 L126.1 241.12 L126.24 241.46 L126.38 241.79 L126.51 242.12 L126.65 242.44 L126.79 242.75 L126.92 243.05 L127.06 243.35 L127.2 243.64 L127.33 243.92 L127.47 244.2 L127.6 244.47 L127.74 244.73 L127.88 244.99 L128.01 245.24 L128.15 245.49 L128.29 245.73 L128.42 245.96 L128.56 246.19 L128.69 246.42 L128.83 246.64 L128.97 246.85 L129.1 247.06 L129.24 247.27 L129.38 247.47 L129.51 247.67 L129.65 247.86 L129.79 248.05 L129.92 248.23" fill="none" stroke="#000000" stroke-width="1.45" stroke-linejoin="round" stroke-linecap="butt"/>
</g>
<rect x="274.2" y="30" width="5" height="5" fill="#000000"/>
<text x="299.8" y="38.1" font-size="16" text-anchor="start">s = 10</text>
<circle cx="276.7" cy="52.9" r="2.75" fill="#ff0000"/>
<text x="299.8" y="58.5" font-size="16" text-anchor="start">s = 50</text>
<path d="M276.7 69.3L280.16 75.3L273.24 75.3Z" fill="#00ff00"/>
<text x="299.8" y="78.9" font-size="16" text-anchor="start">s = 100</text>
<path d="M276.7 97.7L280.16 91.7L273.24 91.7Z" fill="#0000ff"/>
<text x="299.8" y="99.3" font-size="16" text-anchor="start">s = 200</text>
<path d="M276.7 110.6L280.1 114.1L276.7 117.6L273.3 114.1Z" fill="#00ffff"/>
<text x="299.8" y="119.7" font-size="16" text-anchor="start">s = 500</text>
<path d="M272.7 134.5L278.7 131.04L278.7 137.96Z" fill="#ff00ff"/>
<text x="299.8" y="140.1" font-size="16" text-anchor="start">s = 1000</text>
<text transform="translate(21.5 130.3) rotate(-90)" font-size="21" text-anchor="middle">P(|x<tspan font-size="12" dy="7">k</tspan><tspan dy="-7">-x</tspan><tspan font-size="12" dy="7">m</tspan><tspan dy="-7">|,</tspan><tspan font-style="italic">s</tspan>)</text>
<text x="242.6" y="305" font-size="21" text-anchor="middle">|x<tspan font-size="11.5" dy="7">k</tspan><tspan dy="-7">-x</tspan><tspan font-size="11.5" dy="7">m</tspan><tspan dy="-7">|</tspan></text>
<text x="78" y="298.2" font-size="19.2" text-anchor="start">(a)</text>
<rect x="513.5" y="3" width="346.4" height="254.35" fill="none" stroke="#000" stroke-width="1.2"/>
<line x1="513.5" y1="257.35" x2="513.5" y2="262.35" stroke="#000" stroke-width="1"/>
<line x1="513.5" y1="3" x2="513.5" y2="8" stroke="#000" stroke-width="1"/>
<text x="513.5" y="276.55" font-size="13.6" text-anchor="middle">0</text>
<line x1="600.1" y1="257.35" x2="600.1" y2="262.35" stroke="#000" stroke-width="1"/>
<line x1="600.1" y1="3" x2="600.1" y2="8" stroke="#000" stroke-width="1"/>
<text x="600.1" y="276.55" font-size="13.6" text-anchor="middle">20</text>
<line x1="686.7" y1="257.35" x2="686.7" y2="262.35" stroke="#000" stroke-width="1"/>
<line x1="686.7" y1="3" x2="686.7" y2="8" stroke="#000" stroke-width="1"/>
<text x="686.7" y="276.55" font-size="13.6" text-anchor="middle">40</text>
<line x1="773.3" y1="257.35" x2="773.3" y2="262.35" stroke="#000" stroke-width="1"/>
<line x1="773.3" y1="3" x2="773.3" y2="8" stroke="#000" stroke-width="1"/>
<text x="773.3" y="276.55" font-size="13.6" text-anchor="middle">60</text>
<line x1="859.9" y1="257.35" x2="859.9" y2="262.35" stroke="#000" stroke-width="1"/>
<line x1="859.9" y1="3" x2="859.9" y2="8" stroke="#000" stroke-width="1"/>
<text x="859.9" y="276.55" font-size="13.6" text-anchor="middle">80</text>
<line x1="556.8" y1="257.35" x2="556.8" y2="260.35" stroke="#000" stroke-width="1"/>
<line x1="556.8" y1="3" x2="556.8" y2="6" stroke="#000" stroke-width="1"/>
<line x1="643.4" y1="257.35" x2="643.4" y2="260.35" stroke="#000" stroke-width="1"/>
<line x1="643.4" y1="3" x2="643.4" y2="6" stroke="#000" stroke-width="1"/>
<line x1="730" y1="257.35" x2="730" y2="260.35" stroke="#000" stroke-width="1"/>
<line x1="730" y1="3" x2="730" y2="6" stroke="#000" stroke-width="1"/>
<line x1="816.6" y1="257.35" x2="816.6" y2="260.35" stroke="#000" stroke-width="1"/>
<line x1="816.6" y1="3" x2="816.6" y2="6" stroke="#000" stroke-width="1"/>
<line x1="508.5" y1="248.6" x2="513.5" y2="248.6" stroke="#000" stroke-width="1"/>
<line x1="854.9" y1="248.6" x2="859.9" y2="248.6" stroke="#000" stroke-width="1"/>
<text x="504.9" y="253.1" font-size="13.6" text-anchor="end">0,00</text>
<line x1="508.5" y1="178.3" x2="513.5" y2="178.3" stroke="#000" stroke-width="1"/>
<line x1="854.9" y1="178.3" x2="859.9" y2="178.3" stroke="#000" stroke-width="1"/>
<text x="504.9" y="182.8" font-size="13.6" text-anchor="end">0,04</text>
<line x1="508.5" y1="108" x2="513.5" y2="108" stroke="#000" stroke-width="1"/>
<line x1="854.9" y1="108" x2="859.9" y2="108" stroke="#000" stroke-width="1"/>
<text x="504.9" y="112.5" font-size="13.6" text-anchor="end">0,08</text>
<line x1="508.5" y1="37.7" x2="513.5" y2="37.7" stroke="#000" stroke-width="1"/>
<line x1="854.9" y1="37.7" x2="859.9" y2="37.7" stroke="#000" stroke-width="1"/>
<text x="504.9" y="42.2" font-size="13.6" text-anchor="end">0,12</text>
<line x1="510.5" y1="213.45" x2="513.5" y2="213.45" stroke="#000" stroke-width="1"/>
<line x1="856.9" y1="213.45" x2="859.9" y2="213.45" stroke="#000" stroke-width="1"/>
<line x1="510.5" y1="143.15" x2="513.5" y2="143.15" stroke="#000" stroke-width="1"/>
<line x1="856.9" y1="143.15" x2="859.9" y2="143.15" stroke="#000" stroke-width="1"/>
<line x1="510.5" y1="72.85" x2="513.5" y2="72.85" stroke="#000" stroke-width="1"/>
<line x1="856.9" y1="72.85" x2="859.9" y2="72.85" stroke="#000" stroke-width="1"/>
<line x1="510.5" y1="2.55" x2="513.5" y2="2.55" stroke="#000" stroke-width="1"/>
<line x1="856.9" y1="2.55" x2="859.9" y2="2.55" stroke="#000" stroke-width="1"/>
<clipPath id="c513"><rect x="512.8" y="3" width="348" height="255.05"/></clipPath>
<g clip-path="url(#c513)">
<path d="M521.29 247.2 L522.14 246.81 L522.99 246.39 L523.84 245.92 L524.69 245.41 L525.54 244.86 L526.39 244.27 L527.23 243.64 L528.08 242.99 L528.93 242.31 L529.78 241.6 L530.63 240.88 L531.48 240.15 L532.33 239.41 L533.17 238.66 L534.02 237.9 L534.87 237.14 L535.72 236.37 L536.57 235.6 L537.42 234.83 L538.27 234.05 L539.12 233.27 L539.96 232.49 L540.81 231.71 L541.66 230.92 L542.51 230.13 L543.36 229.33 L544.21 228.53 L545.06 227.72 L545.9 226.9 L546.75 226.08 L547.6 225.25 L548.45 224.41 L549.3 223.57 L550.15 222.72 L551 221.86 L551.84 221.01 L552.69 220.15 L553.54 219.28 L554.39 218.42 L555.24 217.56 L556.09 216.7 L556.94 215.83 L557.79 214.97 L558.63 214.11 L559.48 213.26 L560.33 212.4 L561.18 211.55 L562.03 210.7 L562.88 209.84 L563.73 209 L564.57 208.15 L565.42 207.31 L566.27 206.47 L567.12 205.63 L567.97 204.8 L568.82 203.97 L569.67 203.14 L570.51 202.32 L571.36 201.5 L572.21 200.68 L573.06 199.86 L573.91 199.05 L574.76 198.24 L575.61 197.45 L576.46 196.67 L577.3 195.91 L578.15 195.17 L579 194.45 L579.85 193.76 L580.7 193.09 L581.55 192.45 L582.4 191.84 L583.24 191.26 L584.09 190.71 L584.94 190.18 L585.79 189.68 L586.64 189.21 L587.49 188.76 L588.34 188.33 L589.18 187.92 L590.03 187.54 L590.88 187.17 L591.73 186.83 L592.58 186.5 L593.43 186.2 L594.28 185.91 L595.13 185.65 L595.97 185.4 L596.82 185.18 L597.67 184.97 L598.52 184.79 L599.37 184.63 L600.22 184.49 L601.07 184.36 L601.91 184.26 L602.76 184.18 L603.61 184.11 L604.46 184.06 L605.31 184.03 L606.16 184.01 L607.01 184.01 L607.85 184.03 L608.7 184.06 L609.55 184.11 L610.4 184.18 L611.25 184.26 L612.1 184.36 L612.95 184.47 L613.8 184.6 L614.64 184.75 L615.49 184.91 L616.34 185.09 L617.19 185.27 L618.04 185.47 L618.89 185.68 L619.74 185.91 L620.58 186.14 L621.43 186.38 L622.28 186.63 L623.13 186.89 L623.98 187.16 L624.83 187.44 L625.68 187.73 L626.52 188.03 L627.37 188.33 L628.22 188.65 L629.07 188.98 L629.92 189.33 L630.77 189.69 L631.62 190.07 L632.47 190.46 L633.31 190.87 L634.16 191.3 L635.01 191.75 L635.86 192.22 L636.71 192.7 L637.56 193.2 L638.41 193.72 L639.25 194.25 L640.1 194.8 L640.95 195.35 L641.8 195.92 L642.65 196.48 L643.5 197.05 L644.35 197.63 L645.19 198.19 L646.04 198.76 L646.89 199.33 L647.74 199.89 L648.59 200.45 L649.44 201.01 L650.29 201.56 L651.14 202.12 L651.98 202.67 L652.83 203.23 L653.68 203.78 L654.53 204.34 L655.38 204.9 L656.23 205.45 L657.08 206.01 L657.92 206.57 L658.77 207.13 L659.62 207.69 L660.47 208.25 L661.32 208.81 L662.17 209.37 L663.02 209.93 L663.86 210.49 L664.71 211.05 L665.56 211.61 L666.41 212.17 L667.26 212.72 L668.11 213.28 L668.96 213.82 L669.81 214.37 L670.65 214.9 L671.5 215.44 L672.35 215.96 L673.2 216.48 L674.05 216.99 L674.9 217.49 L675.75 217.99 L676.59 218.49 L677.44 218.98 L678.29 219.47 L679.14 219.96 L679.99 220.45 L680.84 220.94 L681.69 221.43 L682.53 221.93 L683.38 222.44 L684.23 222.95 L685.08 223.46 L685.93 223.97 L686.78 224.49 L687.63 225.01 L688.48 225.53 L689.32 226.06 L690.17 226.58 L691.02 227.11 L691.87 227.63 L692.72 228.15 L693.57 228.67 L694.42 229.18 L695.26 229.69 L696.11 230.19 L696.96 230.68 L697.81 231.15 L698.66 231.62 L699.51 232.07 L700.36 232.51 L701.2 232.94 L702.05 233.36 L702.9 233.76 L703.75 234.15 L704.6 234.53 L705.45 234.89 L706.3 235.25 L707.15 235.59 L707.99 235.92 L708.84 236.24 L709.69 236.55 L710.54 236.86 L711.39 237.15 L712.24 237.44 L713.09 237.73 L713.93 238 L714.78 238.27 L715.63 238.54 L716.48 238.8 L717.33 239.05 L718.18 239.3 L719.03 239.55 L719.87 239.79 L720.72 240.03 L721.57 240.27 L722.42 240.5 L723.27 240.73 L724.12 240.96 L724.97 241.18 L725.82 241.4 L726.66 241.62 L727.51 241.83 L728.36 242.04 L729.21 242.25 L730.06 242.45 L730.91 242.65 L731.76 242.85 L732.6 243.04 L733.45 243.22 L734.3 243.4 L735.15 243.58 L736 243.76 L736.85 243.93 L737.7 244.1 L738.54 244.26 L739.39 244.42 L740.24 244.57 L741.09 244.72 L741.94 244.87 L742.79 245.01 L743.64 245.15 L744.49 245.28 L745.33 245.41 L746.18 245.53 L747.03 245.65 L747.88 245.76 L748.73 245.87 L749.58 245.97 L750.43 246.07 L751.27 246.16 L752.12 246.24 L752.97 246.33 L753.82 246.41 L754.67 246.48 L755.52 246.55 L756.37 246.63 L757.21 246.69 L758.06 246.76 L758.91 246.82 L759.76 246.89 L760.61 246.95 L761.46 247.01 L762.31 247.06 L763.16 247.12 L764 247.18 L764.85 247.23 L765.7 247.28 L766.55 247.33 L767.4 247.38 L768.25 247.43 L769.1 247.47 L769.94 247.51 L770.79 247.55 L771.64 247.59 L772.49 247.63 L773.34 247.66 L774.19 247.69 L775.04 247.72 L775.88 247.74 L776.73 247.76 L777.58 247.79 L778.43 247.8 L779.28 247.82 L780.13 247.84 L780.98 247.85 L781.83 247.87 L782.67 247.88 L783.52 247.89 L784.37 247.91 L785.22 247.92 L786.07 247.94 L786.92 247.95 L787.77 247.97 L788.61 247.99 L789.46 248.01 L790.31 248.03 L791.16 248.05 L792.01 248.07 L792.86 248.09 L793.71 248.11 L794.55 248.14 L795.4 248.16 L796.25 248.19 L797.1 248.22 L797.95 248.24 L798.8 248.27 L799.65 248.3 L800.5 248.33 L801.34 248.35 L802.19 248.38 L803.04 248.4 L803.89 248.43 L804.74 248.45 L805.59 248.48 L806.44 248.5 L807.28 248.52 L808.13 248.54 L808.98 248.56 L809.83 248.58 L810.68 248.6 L811.53 248.62 L812.38 248.63 L813.22 248.65 L814.07 248.67 L814.92 248.68 L815.77 248.7 L816.62 248.71 L817.47 248.72 L818.32 248.74 L819.17 248.75 L820.01 248.76 L820.86 248.77 L821.71 248.78 L822.56 248.79 L823.41 248.8 L824.26 248.81 L825.11 248.82 L825.95 248.83 L826.8 248.84 L827.65 248.84 L828.5 248.85 L829.35 248.86 L830.2 248.86 L831.05 248.87 L831.89 248.88 L832.74 248.88 L833.59 248.89 L834.44 248.89 L835.29 248.9 L836.14 248.9 L836.99 248.91 L837.84 248.91 L838.68 248.92 L839.53 248.92 L840.38 248.93 L841.23 248.93 L842.08 248.93 L842.93 248.94 L843.78 248.94 L844.62 248.94 L845.47 248.95 L846.32 248.95 L847.17 248.95 L848.02 248.95 L848.87 248.96 L849.72 248.96 L850.56 248.96 L851.41 248.96 L852.26 248.96 L853.11 248.97 L853.96 248.97 L854.81 248.97 L855.66 248.97 L856.51 248.97 L857.35 248.97 L858.2 248.98 L859.05 248.98 L859.9 248.98" fill="none" stroke="#00ffff" stroke-width="1.45" stroke-linejoin="round" stroke-linecap="butt"/>
<path d="M524.28 242.16L527.68 245.66L524.28 249.16L520.88 245.66Z" fill="#00ffff"/>
<path d="M531.55 236.59L534.95 240.09L531.55 243.59L528.15 240.09Z" fill="#00ffff"/>
<path d="M538.81 231.85L542.21 235.35L538.81 238.85L535.41 235.35Z" fill="#00ffff"/>
<path d="M546.08 224.84L549.48 228.34L546.08 231.84L542.68 228.34Z" fill="#00ffff"/>
<path d="M553.34 217.68L556.74 221.18L553.34 224.68L549.94 221.18Z" fill="#00ffff"/>
<path d="M560.61 210.92L564.01 214.42L560.61 217.92L557.21 214.42Z" fill="#00ffff"/>
<path d="M567.88 199.79L571.28 203.29L567.88 206.79L564.48 203.29Z" fill="#00ffff"/>
<path d="M575.14 194.89L578.54 198.39L575.14 201.89L571.74 198.39Z" fill="#00ffff"/>
<path d="M582.41 183.83L585.81 187.33L582.41 190.83L579.01 187.33Z" fill="#00ffff"/>
<path d="M589.67 182.7L593.07 186.2L589.67 189.7L586.27 186.2Z" fill="#00ffff"/>
<path d="M596.94 181.05L600.34 184.55L596.94 188.05L593.54 184.55Z" fill="#00ffff"/>
<path d="M604.2 179.58L607.6 183.08L604.2 186.58L600.8 183.08Z" fill="#00ffff"/>
<path d="M611.47 183.38L614.87 186.88L611.47 190.38L608.07 186.88Z" fill="#00ffff"/>
<path d="M618.74 185.25L622.14 188.75L618.74 192.25L615.34 188.75Z" fill="#00ffff"/>
<path d="M626 182.24L629.4 185.74L626 189.24L622.6 185.74Z" fill="#00ffff"/>
<path d="M633.27 184.45L636.67 187.95L633.27 191.45L629.87 187.95Z" fill="#00ffff"/>
<path d="M640.53 193.08L643.93 196.58L640.53 200.08L637.13 196.58Z" fill="#00ffff"/>
<path d="M647.8 197.73L651.2 201.23L647.8 204.73L644.4 201.23Z" fill="#00ffff"/>
<path d="M655.07 206.29L658.47 209.79L655.07 213.29L651.67 209.79Z" fill="#00ffff"/>
<path d="M662.33 207.78L665.73 211.28L662.33 214.78L658.93 211.28Z" fill="#00ffff"/>
<path d="M669.6 212.03L673 215.53L669.6 219.03L666.2 215.53Z" fill="#00ffff"/>
<path d="M676.86 212.44L680.26 215.94L676.86 219.44L673.46 215.94Z" fill="#00ffff"/>
<path d="M684.13 218.48L687.53 221.98L684.13 225.48L680.73 221.98Z" fill="#00ffff"/>
<path d="M691.39 220.84L694.79 224.34L691.39 227.84L687.99 224.34Z" fill="#00ffff"/>
<path d="M698.66 226.22L702.06 229.72L698.66 233.22L695.26 229.72Z" fill="#00ffff"/>
<path d="M705.93 230.09L709.33 233.59L705.93 237.09L702.53 233.59Z" fill="#00ffff"/>
<path d="M713.19 231.86L716.59 235.36L713.19 238.86L709.79 235.36Z" fill="#00ffff"/>
<path d="M720.46 234.16L723.86 237.66L720.46 241.16L717.06 237.66Z" fill="#00ffff"/>
<path d="M727.72 235.99L731.12 239.49L727.72 242.99L724.32 239.49Z" fill="#00ffff"/>
<path d="M734.99 238.45L738.39 241.95L734.99 245.45L731.59 241.95Z" fill="#00ffff"/>
<path d="M742.25 239.92L745.65 243.42L742.25 246.92L738.85 243.42Z" fill="#00ffff"/>
<path d="M749.52 241.06L752.92 244.56L749.52 248.06L746.12 244.56Z" fill="#00ffff"/>
<path d="M756.79 241.76L760.19 245.26L756.79 248.76L753.39 245.26Z" fill="#00ffff"/>
<path d="M764.05 242.68L767.45 246.18L764.05 249.68L760.65 246.18Z" fill="#00ffff"/>
<path d="M771.32 243.48L774.72 246.98L771.32 250.48L767.92 246.98Z" fill="#00ffff"/>
<path d="M778.58 244.31L781.98 247.81L778.58 251.31L775.18 247.81Z" fill="#00ffff"/>
<path d="M785.85 244.43L789.25 247.93L785.85 251.43L782.45 247.93Z" fill="#00ffff"/>
<path d="M793.11 244.6L796.51 248.1L793.11 251.6L789.71 248.1Z" fill="#00ffff"/>
<path d="M800.38 244.82L803.78 248.32L800.38 251.82L796.98 248.32Z" fill="#00ffff"/>
<path d="M807.65 245.03L811.05 248.53L807.65 252.03L804.25 248.53Z" fill="#00ffff"/>
<path d="M814.91 245.18L818.31 248.68L814.91 252.18L811.51 248.68Z" fill="#00ffff"/>
<path d="M822.18 245.29L825.58 248.79L822.18 252.29L818.78 248.79Z" fill="#00ffff"/>
<path d="M829.44 245.36L832.84 248.86L829.44 252.36L826.04 248.86Z" fill="#00ffff"/>
<path d="M836.71 245.41L840.11 248.91L836.71 252.41L833.31 248.91Z" fill="#00ffff"/>
<path d="M843.97 245.44L847.37 248.94L843.97 252.44L840.57 248.94Z" fill="#00ffff"/>
<path d="M851.24 245.46L854.64 248.96L851.24 252.46L847.84 248.96Z" fill="#00ffff"/>
<path d="M858.51 245.48L861.91 248.98L858.51 252.48L855.11 248.98Z" fill="#00ffff"/>
<path d="M522.16 247.44 L523.01 247.18 L523.85 246.92 L524.7 246.65 L525.55 246.38 L526.39 246.11 L527.24 245.84 L528.09 245.58 L528.93 245.32 L529.78 245.07 L530.62 244.81 L531.47 244.56 L532.32 244.3 L533.16 244.03 L534.01 243.75 L534.86 243.46 L535.7 243.16 L536.55 242.84 L537.4 242.5 L538.24 242.15 L539.09 241.79 L539.94 241.42 L540.78 241.03 L541.63 240.64 L542.48 240.23 L543.32 239.82 L544.17 239.39 L545.01 238.97 L545.86 238.53 L546.71 238.08 L547.55 237.63 L548.4 237.18 L549.25 236.72 L550.09 236.25 L550.94 235.78 L551.79 235.3 L552.63 234.82 L553.48 234.34 L554.33 233.85 L555.17 233.36 L556.02 232.87 L556.87 232.37 L557.71 231.88 L558.56 231.38 L559.4 230.88 L560.25 230.38 L561.1 229.87 L561.94 229.37 L562.79 228.86 L563.64 228.35 L564.48 227.85 L565.33 227.34 L566.18 226.82 L567.02 226.31 L567.87 225.8 L568.72 225.28 L569.56 224.77 L570.41 224.25 L571.26 223.74 L572.1 223.23 L572.95 222.71 L573.79 222.2 L574.64 221.69 L575.49 221.18 L576.33 220.67 L577.18 220.17 L578.03 219.67 L578.87 219.17 L579.72 218.67 L580.57 218.18 L581.41 217.69 L582.26 217.2 L583.11 216.72 L583.95 216.24 L584.8 215.77 L585.64 215.3 L586.49 214.84 L587.34 214.38 L588.18 213.93 L589.03 213.48 L589.88 213.04 L590.72 212.6 L591.57 212.18 L592.42 211.76 L593.26 211.34 L594.11 210.93 L594.96 210.53 L595.8 210.14 L596.65 209.75 L597.5 209.37 L598.34 208.99 L599.19 208.62 L600.03 208.26 L600.88 207.9 L601.73 207.54 L602.57 207.19 L603.42 206.85 L604.27 206.5 L605.11 206.16 L605.96 205.83 L606.81 205.49 L607.65 205.17 L608.5 204.85 L609.35 204.53 L610.19 204.22 L611.04 203.92 L611.89 203.62 L612.73 203.34 L613.58 203.06 L614.42 202.79 L615.27 202.53 L616.12 202.29 L616.96 202.05 L617.81 201.82 L618.66 201.6 L619.5 201.4 L620.35 201.2 L621.2 201.01 L622.04 200.83 L622.89 200.67 L623.74 200.51 L624.58 200.36 L625.43 200.22 L626.28 200.09 L627.12 199.97 L627.97 199.85 L628.81 199.75 L629.66 199.66 L630.51 199.57 L631.35 199.5 L632.2 199.43 L633.05 199.37 L633.89 199.33 L634.74 199.29 L635.59 199.26 L636.43 199.24 L637.28 199.23 L638.13 199.23 L638.97 199.24 L639.82 199.26 L640.67 199.29 L641.51 199.33 L642.36 199.39 L643.2 199.46 L644.05 199.53 L644.9 199.62 L645.74 199.73 L646.59 199.84 L647.44 199.96 L648.28 200.1 L649.13 200.25 L649.98 200.4 L650.82 200.57 L651.67 200.74 L652.52 200.92 L653.36 201.11 L654.21 201.31 L655.06 201.52 L655.9 201.74 L656.75 201.96 L657.59 202.19 L658.44 202.43 L659.29 202.68 L660.13 202.93 L660.98 203.19 L661.83 203.46 L662.67 203.73 L663.52 204.01 L664.37 204.29 L665.21 204.57 L666.06 204.85 L666.91 205.14 L667.75 205.42 L668.6 205.71 L669.45 205.99 L670.29 206.27 L671.14 206.55 L671.98 206.83 L672.83 207.11 L673.68 207.38 L674.52 207.65 L675.37 207.91 L676.22 208.17 L677.06 208.43 L677.91 208.68 L678.76 208.93 L679.6 209.17 L680.45 209.41 L681.3 209.64 L682.14 209.86 L682.99 210.08 L683.84 210.3 L684.68 210.52 L685.53 210.74 L686.37 210.95 L687.22 211.18 L688.07 211.4 L688.91 211.64 L689.76 211.89 L690.61 212.14 L691.45 212.4 L692.3 212.68 L693.15 212.96 L693.99 213.26 L694.84 213.56 L695.69 213.87 L696.53 214.18 L697.38 214.5 L698.22 214.82 L699.07 215.15 L699.92 215.48 L700.76 215.82 L701.61 216.15 L702.46 216.49 L703.3 216.84 L704.15 217.18 L705 217.53 L705.84 217.89 L706.69 218.24 L707.54 218.6 L708.38 218.97 L709.23 219.33 L710.08 219.7 L710.92 220.07 L711.77 220.44 L712.61 220.81 L713.46 221.18 L714.31 221.55 L715.15 221.91 L716 222.27 L716.85 222.63 L717.69 222.98 L718.54 223.33 L719.39 223.67 L720.23 224.01 L721.08 224.35 L721.93 224.68 L722.77 225 L723.62 225.32 L724.47 225.64 L725.31 225.96 L726.16 226.26 L727 226.57 L727.85 226.87 L728.7 227.17 L729.54 227.46 L730.39 227.74 L731.24 228.03 L732.08 228.31 L732.93 228.58 L733.78 228.85 L734.62 229.11 L735.47 229.37 L736.32 229.63 L737.16 229.89 L738.01 230.15 L738.86 230.4 L739.7 230.66 L740.55 230.91 L741.39 231.17 L742.24 231.42 L743.09 231.68 L743.93 231.94 L744.78 232.19 L745.63 232.44 L746.47 232.69 L747.32 232.94 L748.17 233.19 L749.01 233.43 L749.86 233.67 L750.71 233.9 L751.55 234.13 L752.4 234.36 L753.25 234.59 L754.09 234.82 L754.94 235.04 L755.78 235.27 L756.63 235.5 L757.48 235.73 L758.32 235.97 L759.17 236.21 L760.02 236.45 L760.86 236.71 L761.71 236.96 L762.56 237.23 L763.4 237.49 L764.25 237.76 L765.1 238.03 L765.94 238.31 L766.79 238.58 L767.64 238.85 L768.48 239.11 L769.33 239.37 L770.17 239.62 L771.02 239.87 L771.87 240.11 L772.71 240.34 L773.56 240.56 L774.41 240.77 L775.25 240.98 L776.1 241.18 L776.95 241.38 L777.79 241.56 L778.64 241.75 L779.49 241.92 L780.33 242.1 L781.18 242.27 L782.03 242.43 L782.87 242.59 L783.72 242.74 L784.56 242.89 L785.41 243.04 L786.26 243.18 L787.1 243.32 L787.95 243.45 L788.8 243.58 L789.64 243.71 L790.49 243.83 L791.34 243.95 L792.18 244.06 L793.03 244.18 L793.88 244.28 L794.72 244.39 L795.57 244.49 L796.42 244.59 L797.26 244.69 L798.11 244.78 L798.95 244.87 L799.8 244.96 L800.65 245.05 L801.49 245.13 L802.34 245.22 L803.19 245.3 L804.03 245.38 L804.88 245.46 L805.73 245.53 L806.57 245.61 L807.42 245.68 L808.27 245.75 L809.11 245.82 L809.96 245.89 L810.8 245.96 L811.65 246.02 L812.5 246.08 L813.34 246.14 L814.19 246.2 L815.04 246.26 L815.88 246.31 L816.73 246.36 L817.58 246.41 L818.42 246.45 L819.27 246.49 L820.12 246.53 L820.96 246.56 L821.81 246.59 L822.66 246.62 L823.5 246.64 L824.35 246.66 L825.19 246.68 L826.04 246.7 L826.89 246.71 L827.73 246.73 L828.58 246.74 L829.43 246.75 L830.27 246.76 L831.12 246.77 L831.97 246.78 L832.81 246.79 L833.66 246.8 L834.51 246.81 L835.35 246.83 L836.2 246.84 L837.05 246.85 L837.89 246.87 L838.74 246.88 L839.58 246.9 L840.43 246.91 L841.28 246.93 L842.12 246.95 L842.97 246.97 L843.82 246.99 L844.66 247.02 L845.51 247.04 L846.36 247.07 L847.2 247.09 L848.05 247.12 L848.9 247.15 L849.74 247.18 L850.59 247.21 L851.44 247.24 L852.28 247.28 L853.13 247.31 L853.97 247.34 L854.82 247.38 L855.67 247.42 L856.51 247.45 L857.36 247.49 L858.21 247.53 L859.05 247.57 L859.9 247.6" fill="none" stroke="#ff00ff" stroke-width="1.45" stroke-linejoin="round" stroke-linecap="butt"/>
<path d="M521.62 246.35L527.62 242.89L527.62 249.81Z" fill="#ff00ff"/>
<path d="M529.54 243.91L535.54 240.45L535.54 247.37Z" fill="#ff00ff"/>
<path d="M537.45 240.72L543.45 237.26L543.45 244.18Z" fill="#ff00ff"/>
<path d="M545.37 236.65L551.37 233.19L551.37 240.11Z" fill="#ff00ff"/>
<path d="M553.28 232.13L559.28 228.67L559.28 235.59Z" fill="#ff00ff"/>
<path d="M561.2 227.41L567.2 223.95L567.2 230.87Z" fill="#ff00ff"/>
<path d="M569.12 222.61L575.12 219.15L575.12 226.07Z" fill="#ff00ff"/>
<path d="M577.03 217.91L583.03 214.45L583.03 221.37Z" fill="#ff00ff"/>
<path d="M584.95 213.52L590.95 210.06L590.95 216.98Z" fill="#ff00ff"/>
<path d="M592.86 209.66L598.86 206.2L598.86 213.12Z" fill="#ff00ff"/>
<path d="M600.78 206.3L606.78 202.84L606.78 209.76Z" fill="#ff00ff"/>
<path d="M608.69 203.35L614.69 199.89L614.69 206.81Z" fill="#ff00ff"/>
<path d="M616.61 201.14L622.61 197.68L622.61 204.6Z" fill="#ff00ff"/>
<path d="M624.52 199.79L630.52 196.33L630.52 203.25Z" fill="#ff00ff"/>
<path d="M632.44 199.24L638.44 195.78L638.44 202.7Z" fill="#ff00ff"/>
<path d="M640.35 199.57L646.35 196.11L646.35 203.03Z" fill="#ff00ff"/>
<path d="M648.27 200.87L654.27 197.41L654.27 204.33Z" fill="#ff00ff"/>
<path d="M656.18 202.15L662.18 198.69L662.18 205.61Z" fill="#ff00ff"/>
<path d="M664.1 203.54L670.1 200.08L670.1 207Z" fill="#ff00ff"/>
<path d="M672.01 206.11L678.01 202.65L678.01 209.57Z" fill="#ff00ff"/>
<path d="M679.93 204.43L685.93 200.97L685.93 207.89Z" fill="#ff00ff"/>
<path d="M687.84 208.93L693.84 205.47L693.84 212.39Z" fill="#ff00ff"/>
<path d="M695.76 213.32L701.76 209.86L701.76 216.78Z" fill="#ff00ff"/>
<path d="M703.67 214.86L709.67 211.4L709.67 218.32Z" fill="#ff00ff"/>
<path d="M711.59 219.3L717.59 215.84L717.59 222.76Z" fill="#ff00ff"/>
<path d="M719.5 224.48L725.5 221.02L725.5 227.94Z" fill="#ff00ff"/>
<path d="M727.42 224.89L733.42 221.43L733.42 228.35Z" fill="#ff00ff"/>
<path d="M735.34 227.75L741.34 224.29L741.34 231.21Z" fill="#ff00ff"/>
<path d="M743.25 232.62L749.25 229.16L749.25 236.08Z" fill="#ff00ff"/>
<path d="M751.17 234.9L757.17 231.44L757.17 238.36Z" fill="#ff00ff"/>
<path d="M759.08 236.39L765.08 232.93L765.08 239.85Z" fill="#ff00ff"/>
<path d="M767 238.66L773 235.2L773 242.12Z" fill="#ff00ff"/>
<path d="M774.91 240.8L780.91 237.34L780.91 244.26Z" fill="#ff00ff"/>
<path d="M782.83 242.47L788.83 239.01L788.83 245.93Z" fill="#ff00ff"/>
<path d="M790.74 243.59L796.74 240.13L796.74 247.05Z" fill="#ff00ff"/>
<path d="M798.66 244.65L804.66 241.19L804.66 248.11Z" fill="#ff00ff"/>
<path d="M806.57 245.94L812.57 242.48L812.57 249.4Z" fill="#ff00ff"/>
<path d="M814.49 246.45L820.49 242.99L820.49 249.91Z" fill="#ff00ff"/>
<path d="M822.4 246.7L828.4 243.24L828.4 250.16Z" fill="#ff00ff"/>
<path d="M830.32 246.81L836.32 243.35L836.32 250.27Z" fill="#ff00ff"/>
<path d="M838.23 246.95L844.23 243.49L844.23 250.41Z" fill="#ff00ff"/>
<path d="M846.15 247.19L852.15 243.73L852.15 250.65Z" fill="#ff00ff"/>
<path d="M854.06 247.52L860.06 244.06L860.06 250.98Z" fill="#ff00ff"/>
<path d="M521.6 222.44 L521.83 220.86 L522.06 219.24 L522.29 217.59 L522.53 215.93 L522.76 214.24 L522.99 212.53 L523.23 210.81 L523.46 209.08 L523.69 207.35 L523.92 205.61 L524.16 203.87 L524.39 202.14 L524.62 200.41 L524.85 198.68 L525.09 196.97 L525.32 195.25 L525.55 193.54 L525.78 191.82 L526.02 190.09 L526.25 188.34 L526.48 186.56 L526.71 184.73 L526.95 182.86 L527.18 180.94 L527.41 178.96 L527.64 176.92 L527.88 174.83 L528.11 172.69 L528.34 170.5 L528.57 168.28 L528.81 166.02 L529.04 163.75 L529.27 161.46 L529.5 159.16 L529.74 156.85 L529.97 154.53 L530.2 152.2 L530.43 149.85 L530.67 147.49 L530.9 145.11 L531.13 142.7 L531.36 140.27 L531.6 137.82 L531.83 135.34 L532.06 132.84 L532.29 130.32 L532.53 127.78 L532.76 125.23 L532.99 122.67 L533.23 120.1 L533.46 117.53 L533.69 114.95 L533.92 112.37 L534.16 109.8 L534.39 107.25 L534.62 104.72 L534.85 102.22 L535.09 99.76 L535.32 97.36 L535.55 95.02 L535.78 92.75 L536.02 90.55 L536.25 88.42 L536.48 86.37 L536.71 84.38 L536.95 82.45 L537.18 80.57 L537.41 78.73 L537.64 76.93 L537.88 75.17 L538.11 73.43 L538.34 71.72 L538.57 70.03 L538.81 68.36 L539.04 66.72 L539.27 65.11 L539.5 63.52 L539.74 61.97 L539.97 60.45 L540.2 58.97 L540.43 57.53 L540.67 56.14 L540.9 54.81 L541.13 53.52 L541.36 52.3 L541.6 51.14 L541.83 50.05 L542.06 49.02 L542.3 48.06 L542.53 47.16 L542.76 46.32 L542.99 45.55 L543.23 44.84 L543.46 44.18 L543.69 43.59 L543.92 43.04 L544.16 42.55 L544.39 42.12 L544.62 41.73 L544.85 41.4 L545.09 41.11 L545.32 40.88 L545.55 40.69 L545.78 40.56 L546.02 40.47 L546.25 40.44 L546.48 40.45 L546.71 40.51 L546.95 40.62 L547.18 40.77 L547.41 40.98 L547.64 41.23 L547.88 41.53 L548.11 41.87 L548.34 42.25 L548.57 42.68 L548.81 43.15 L549.04 43.66 L549.27 44.2 L549.5 44.79 L549.74 45.41 L549.97 46.06 L550.2 46.75 L550.43 47.47 L550.67 48.22 L550.9 49.01 L551.13 49.83 L551.36 50.69 L551.6 51.58 L551.83 52.51 L552.06 53.48 L552.3 54.48 L552.53 55.51 L552.76 56.59 L552.99 57.7 L553.23 58.86 L553.46 60.06 L553.69 61.3 L553.92 62.58 L554.16 63.91 L554.39 65.29 L554.62 66.7 L554.85 68.16 L555.09 69.66 L555.32 71.2 L555.55 72.78 L555.78 74.39 L556.02 76.03 L556.25 77.71 L556.48 79.41 L556.71 81.15 L556.95 82.91 L557.18 84.69 L557.41 86.5 L557.64 88.32 L557.88 90.17 L558.11 92.05 L558.34 93.94 L558.57 95.86 L558.81 97.81 L559.04 99.78 L559.27 101.79 L559.5 103.83 L559.74 105.91 L559.97 108.03 L560.2 110.18 L560.43 112.36 L560.67 114.55 L560.9 116.76 L561.13 118.97 L561.37 121.17 L561.6 123.34 L561.83 125.49 L562.06 127.59 L562.3 129.66 L562.53 131.68 L562.76 133.65 L562.99 135.57 L563.23 137.45 L563.46 139.29 L563.69 141.08 L563.92 142.84 L564.16 144.58 L564.39 146.29 L564.62 147.98 L564.85 149.65 L565.09 151.32 L565.32 152.97 L565.55 154.62 L565.78 156.26 L566.02 157.89 L566.25 159.51 L566.48 161.11 L566.71 162.69 L566.95 164.24 L567.18 165.76 L567.41 167.25 L567.64 168.7 L567.88 170.12 L568.11 171.52 L568.34 172.89 L568.57 174.24 L568.81 175.59 L569.04 176.94 L569.27 178.3 L569.5 179.67 L569.74 181.07 L569.97 182.48 L570.2 183.91 L570.43 185.36 L570.67 186.82 L570.9 188.28 L571.13 189.74 L571.37 191.19 L571.6 192.64 L571.83 194.06 L572.06 195.47 L572.3 196.86 L572.53 198.22 L572.76 199.56 L572.99 200.88 L573.23 202.17 L573.46 203.44 L573.69 204.69 L573.92 205.91 L574.16 207.11 L574.39 208.29 L574.62 209.44 L574.85 210.57 L575.09 211.67 L575.32 212.75 L575.55 213.8 L575.78 214.83 L576.02 215.83 L576.25 216.81 L576.48 217.75 L576.71 218.67 L576.95 219.57 L577.18 220.43 L577.41 221.28 L577.64 222.09 L577.88 222.89 L578.11 223.66 L578.34 224.41 L578.57 225.14 L578.81 225.85 L579.04 226.54 L579.27 227.21 L579.5 227.86 L579.74 228.5 L579.97 229.12 L580.2 229.72 L580.44 230.3 L580.67 230.87 L580.9 231.41 L581.13 231.94 L581.37 232.46 L581.6 232.95 L581.83 233.43 L582.06 233.9 L582.3 234.35 L582.53 234.78 L582.76 235.21 L582.99 235.62 L583.23 236.01 L583.46 236.4 L583.69 236.77 L583.92 237.13 L584.16 237.48 L584.39 237.82 L584.62 238.16 L584.85 238.48 L585.09 238.79 L585.32 239.09 L585.55 239.39 L585.78 239.67 L586.02 239.95 L586.25 240.22 L586.48 240.48 L586.71 240.73 L586.95 240.98 L587.18 241.21 L587.41 241.44 L587.64 241.66 L587.88 241.88 L588.11 242.09 L588.34 242.29 L588.57 242.48 L588.81 242.67 L589.04 242.86 L589.27 243.04 L589.5 243.21 L589.74 243.38 L589.97 243.55 L590.2 243.71 L590.44 243.86 L590.67 244.01 L590.9 244.16 L591.13 244.3 L591.37 244.44 L591.6 244.57 L591.83 244.7 L592.06 244.82 L592.3 244.94 L592.53 245.06 L592.76 245.17 L592.99 245.28 L593.23 245.39 L593.46 245.49 L593.69 245.59 L593.92 245.69 L594.16 245.78 L594.39 245.87 L594.62 245.96 L594.85 246.04 L595.09 246.13 L595.32 246.2 L595.55 246.28 L595.78 246.35 L596.02 246.42 L596.25 246.49 L596.48 246.56 L596.71 246.62 L596.95 246.68 L597.18 246.73 L597.41 246.78 L597.64 246.82 L597.88 246.86 L598.11 246.9 L598.34 246.92 L598.57 246.95 L598.81 246.97 L599.04 246.98 L599.27 246.99 L599.51 247 L599.74 247 L599.97 247.01 L600.2 247.01 L600.44 247.01 L600.67 247.02 L600.9 247.03 L601.13 247.03 L601.37 247.05 L601.6 247.06 L601.83 247.08 L602.06 247.1 L602.3 247.12 L602.53 247.15 L602.76 247.18 L602.99 247.22 L603.23 247.26 L603.46 247.3 L603.69 247.34 L603.92 247.39 L604.16 247.44 L604.39 247.49 L604.62 247.54 L604.85 247.6 L605.09 247.66 L605.32 247.71 L605.55 247.77 L605.78 247.82 L606.02 247.88 L606.25 247.94 L606.48 247.99 L606.71 248.04 L606.95 248.09 L607.18 248.14 L607.41 248.19 L607.64 248.23 L607.88 248.28 L608.11 248.32 L608.34 248.36 L608.57 248.39 L608.81 248.43 L609.04 248.46 L609.27 248.49 L609.51 248.52 L609.74 248.55 L609.97 248.57 L610.2 248.6 L610.44 248.62 L610.67 248.65 L610.9 248.67 L611.13 248.69 L611.37 248.71 L611.6 248.72 L611.83 248.74 L612.06 248.76 L612.3 248.77 L612.53 248.78 L612.76 248.8 L612.99 248.81 L613.23 248.82 L613.46 248.83 L613.69 248.84 L613.92 248.85 L614.16 248.86 L614.39 248.87" fill="none" stroke="#000000" stroke-width="1.45" stroke-linejoin="round" stroke-linecap="butt"/>
<rect x="519.1" y="206.9" width="5" height="5" fill="#000000"/>
<rect x="524.3" y="199.5" width="5" height="5" fill="#000000"/>
<rect x="528.9" y="109.5" width="5" height="5" fill="#000000"/>
<rect x="533" y="111.6" width="5" height="5" fill="#000000"/>
<rect x="538.3" y="30.3" width="5" height="5" fill="#000000"/>
<rect x="543" y="43.4" width="5" height="5" fill="#000000"/>
<rect x="547.8" y="54.2" width="5" height="5" fill="#000000"/>
<rect x="552.8" y="69" width="5" height="5" fill="#000000"/>
<rect x="557.7" y="111.2" width="5" height="5" fill="#000000"/>
<rect x="562.5" y="142.5" width="5" height="5" fill="#000000"/>
<rect x="567" y="183.9" width="5" height="5" fill="#000000"/>
<rect x="571.9" y="205.9" width="5" height="5" fill="#000000"/>
<rect x="576.5" y="223.5" width="5" height="5" fill="#000000"/>
<rect x="581.4" y="233.9" width="5" height="5" fill="#000000"/>
<rect x="586.2" y="238.9" width="5" height="5" fill="#000000"/>
<rect x="591" y="242.1" width="5" height="5" fill="#000000"/>
<rect x="595.8" y="244.1" width="5" height="5" fill="#000000"/>
<rect x="600.5" y="245.1" width="5" height="5" fill="#000000"/>
<rect x="605.2" y="245.4" width="5" height="5" fill="#000000"/>
<rect x="609.9" y="245.6" width="5" height="5" fill="#000000"/>
<path d="M523.03 230.82 L523.4 229.42 L523.77 227.99 L524.15 226.53 L524.52 225.04 L524.89 223.53 L525.27 221.99 L525.64 220.44 L526.01 218.86 L526.39 217.25 L526.76 215.63 L527.13 213.98 L527.51 212.31 L527.88 210.63 L528.25 208.93 L528.63 207.21 L529 205.48 L529.37 203.74 L529.75 202 L530.12 200.24 L530.49 198.47 L530.87 196.69 L531.24 194.89 L531.61 193.07 L531.99 191.22 L532.36 189.32 L532.73 187.39 L533.11 185.4 L533.48 183.35 L533.85 181.25 L534.23 179.09 L534.6 176.89 L534.97 174.64 L535.35 172.37 L535.72 170.09 L536.09 167.81 L536.47 165.55 L536.84 163.33 L537.21 161.15 L537.59 159.02 L537.96 156.94 L538.33 154.91 L538.71 152.93 L539.08 150.99 L539.45 149.09 L539.83 147.21 L540.2 145.37 L540.57 143.55 L540.95 141.76 L541.32 139.98 L541.69 138.23 L542.06 136.5 L542.44 134.79 L542.81 133.11 L543.18 131.45 L543.56 129.81 L543.93 128.19 L544.3 126.6 L544.68 125.04 L545.05 123.49 L545.42 121.97 L545.8 120.47 L546.17 118.99 L546.54 117.53 L546.92 116.09 L547.29 114.66 L547.66 113.25 L548.04 111.87 L548.41 110.51 L548.78 109.18 L549.16 107.9 L549.53 106.66 L549.9 105.48 L550.28 104.37 L550.65 103.32 L551.02 102.36 L551.4 101.47 L551.77 100.66 L552.14 99.93 L552.52 99.28 L552.89 98.7 L553.26 98.2 L553.64 97.76 L554.01 97.38 L554.38 97.06 L554.76 96.8 L555.13 96.59 L555.5 96.43 L555.88 96.32 L556.25 96.25 L556.62 96.23 L557 96.25 L557.37 96.31 L557.74 96.42 L558.12 96.58 L558.49 96.77 L558.86 97.01 L559.24 97.3 L559.61 97.64 L559.98 98.02 L560.36 98.45 L560.73 98.93 L561.1 99.45 L561.48 100.03 L561.85 100.65 L562.22 101.33 L562.6 102.05 L562.97 102.82 L563.34 103.63 L563.72 104.5 L564.09 105.41 L564.46 106.38 L564.84 107.39 L565.21 108.45 L565.58 109.57 L565.96 110.73 L566.33 111.93 L566.7 113.18 L567.08 114.48 L567.45 115.81 L567.82 117.17 L568.2 118.56 L568.57 119.97 L568.94 121.39 L569.32 122.83 L569.69 124.26 L570.06 125.7 L570.44 127.14 L570.81 128.57 L571.18 130 L571.56 131.43 L571.93 132.85 L572.3 134.27 L572.68 135.68 L573.05 137.08 L573.42 138.48 L573.8 139.88 L574.17 141.28 L574.54 142.67 L574.92 144.06 L575.29 145.45 L575.66 146.84 L576.04 148.24 L576.41 149.65 L576.78 151.07 L577.16 152.5 L577.53 153.94 L577.9 155.4 L578.28 156.88 L578.65 158.38 L579.02 159.9 L579.4 161.44 L579.77 163 L580.14 164.59 L580.52 166.2 L580.89 167.82 L581.26 169.47 L581.64 171.13 L582.01 172.79 L582.38 174.46 L582.76 176.12 L583.13 177.76 L583.5 179.39 L583.88 181 L584.25 182.58 L584.62 184.12 L585 185.63 L585.37 187.11 L585.74 188.54 L586.12 189.95 L586.49 191.31 L586.86 192.65 L587.24 193.94 L587.61 195.21 L587.98 196.44 L588.36 197.65 L588.73 198.82 L589.1 199.96 L589.48 201.07 L589.85 202.15 L590.22 203.2 L590.6 204.23 L590.97 205.24 L591.34 206.22 L591.72 207.18 L592.09 208.13 L592.46 209.07 L592.84 210 L593.21 210.92 L593.58 211.83 L593.96 212.74 L594.33 213.63 L594.7 214.52 L595.08 215.4 L595.45 216.26 L595.82 217.11 L596.2 217.94 L596.57 218.75 L596.94 219.54 L597.32 220.31 L597.69 221.06 L598.06 221.8 L598.44 222.52 L598.81 223.22 L599.18 223.9 L599.56 224.57 L599.93 225.23 L600.3 225.88 L600.68 226.52 L601.05 227.15 L601.42 227.77 L601.8 228.38 L602.17 228.98 L602.54 229.57 L602.92 230.14 L603.29 230.71 L603.66 231.26 L604.03 231.8 L604.41 232.32 L604.78 232.83 L605.15 233.33 L605.53 233.81 L605.9 234.28 L606.27 234.73 L606.65 235.17 L607.02 235.6 L607.39 236.01 L607.77 236.41 L608.14 236.8 L608.51 237.18 L608.89 237.54 L609.26 237.9 L609.63 238.24 L610.01 238.57 L610.38 238.89 L610.75 239.2 L611.13 239.5 L611.5 239.79 L611.87 240.07 L612.25 240.35 L612.62 240.61 L612.99 240.87 L613.37 241.12 L613.74 241.37 L614.11 241.61 L614.49 241.84 L614.86 242.06 L615.23 242.28 L615.61 242.49 L615.98 242.7 L616.35 242.9 L616.73 243.09 L617.1 243.28 L617.47 243.46 L617.85 243.64 L618.22 243.81 L618.59 243.98 L618.97 244.15 L619.34 244.31 L619.71 244.46 L620.09 244.61 L620.46 244.76 L620.83 244.9 L621.21 245.04 L621.58 245.17 L621.95 245.31 L622.33 245.43 L622.7 245.56 L623.07 245.68 L623.45 245.79 L623.82 245.9 L624.19 246.01 L624.57 246.12 L624.94 246.22 L625.31 246.32 L625.69 246.41 L626.06 246.5 L626.43 246.58 L626.81 246.67 L627.18 246.74 L627.55 246.82 L627.93 246.89 L628.3 246.95 L628.67 247.02 L629.05 247.07 L629.42 247.12 L629.79 247.17 L630.17 247.21 L630.54 247.25 L630.91 247.29 L631.29 247.32 L631.66 247.35 L632.03 247.38 L632.41 247.4 L632.78 247.43 L633.15 247.45 L633.53 247.48 L633.9 247.5 L634.27 247.53 L634.65 247.55 L635.02 247.58 L635.39 247.61 L635.77 247.64 L636.14 247.68 L636.51 247.71 L636.89 247.75 L637.26 247.78 L637.63 247.82 L638.01 247.86 L638.38 247.9 L638.75 247.95 L639.13 247.99 L639.5 248.03 L639.87 248.07 L640.25 248.12 L640.62 248.16 L640.99 248.2 L641.37 248.24 L641.74 248.28 L642.11 248.32 L642.49 248.36 L642.86 248.39 L643.23 248.43 L643.61 248.46 L643.98 248.49 L644.35 248.52 L644.73 248.55 L645.1 248.57 L645.47 248.6 L645.85 248.62 L646.22 248.64 L646.59 248.66 L646.97 248.68 L647.34 248.7 L647.71 248.72 L648.09 248.74 L648.46 248.75 L648.83 248.77 L649.21 248.78 L649.58 248.8 L649.95 248.81 L650.33 248.82 L650.7 248.83 L651.07 248.84 L651.45 248.85 L651.82 248.86 L652.19 248.87 L652.57 248.88 L652.94 248.88 L653.31 248.89 L653.69 248.9 L654.06 248.91 L654.43 248.91 L654.81 248.92 L655.18 248.92 L655.55 248.93 L655.93 248.93 L656.3 248.94 L656.67 248.94 L657.05 248.94 L657.42 248.95 L657.79 248.95 L658.17 248.95 L658.54 248.96 L658.91 248.96 L659.29 248.96 L659.66 248.97 L660.03 248.97 L660.41 248.97 L660.78 248.97 L661.15 248.97 L661.53 248.98 L661.9 248.98 L662.27 248.98 L662.65 248.98 L663.02 248.98 L663.39 248.98 L663.77 248.98 L664.14 248.99 L664.51 248.99 L664.89 248.99 L665.26 248.99 L665.63 248.99 L666 248.99 L666.38 248.99 L666.75 248.99 L667.12 248.99 L667.5 248.99 L667.87 248.99 L668.24 248.99 L668.62 248.99 L668.99 248.99 L669.36 248.99 L669.74 249 L670.11 249 L670.48 249 L670.86 249 L671.23 249 L671.6 249 L671.98 249" fill="none" stroke="#ff0000" stroke-width="1.45" stroke-linejoin="round" stroke-linecap="butt"/>
<circle cx="523.3" cy="229.6" r="2.75" fill="#ff0000"/>
<circle cx="531.2" cy="202" r="2.75" fill="#ff0000"/>
<circle cx="538.7" cy="141.5" r="2.75" fill="#ff0000"/>
<circle cx="546.5" cy="124.7" r="2.75" fill="#ff0000"/>
<circle cx="554.4" cy="92" r="2.75" fill="#ff0000"/>
<circle cx="562.3" cy="101.2" r="2.75" fill="#ff0000"/>
<circle cx="570.3" cy="126.2" r="2.75" fill="#ff0000"/>
<circle cx="577.8" cy="153.7" r="2.75" fill="#ff0000"/>
<circle cx="585.5" cy="187.2" r="2.75" fill="#ff0000"/>
<circle cx="593.3" cy="210.4" r="2.75" fill="#ff0000"/>
<circle cx="601.1" cy="226.7" r="2.75" fill="#ff0000"/>
<circle cx="608.9" cy="237.6" r="2.75" fill="#ff0000"/>
<circle cx="616.5" cy="242.6" r="2.75" fill="#ff0000"/>
<circle cx="624.3" cy="245.8" r="2.75" fill="#ff0000"/>
<circle cx="632.1" cy="247.4" r="2.75" fill="#ff0000"/>
<circle cx="640" cy="248.1" r="2.75" fill="#ff0000"/>
<circle cx="647.7" cy="248.4" r="2.75" fill="#ff0000"/>
<circle cx="655.6" cy="248.6" r="2.75" fill="#ff0000"/>
<circle cx="663.4" cy="248.6" r="2.75" fill="#ff0000"/>
<circle cx="671.2" cy="248.6" r="2.75" fill="#ff0000"/>
<path d="M521.29 244.61 L521.95 243.96 L522.61 243.27 L523.27 242.56 L523.92 241.82 L524.58 241.05 L525.24 240.25 L525.9 239.44 L526.56 238.6 L527.21 237.76 L527.87 236.9 L528.53 236.03 L529.19 235.15 L529.84 234.27 L530.5 233.38 L531.16 232.49 L531.82 231.6 L532.47 230.71 L533.13 229.81 L533.79 228.91 L534.45 228 L535.1 227.09 L535.76 226.18 L536.42 225.25 L537.08 224.32 L537.73 223.39 L538.39 222.44 L539.05 221.49 L539.71 220.53 L540.37 219.57 L541.02 218.6 L541.68 217.62 L542.34 216.64 L543 215.65 L543.65 214.66 L544.31 213.67 L544.97 212.68 L545.63 211.69 L546.28 210.7 L546.94 209.71 L547.6 208.72 L548.26 207.74 L548.91 206.76 L549.57 205.78 L550.23 204.81 L550.89 203.84 L551.55 202.88 L552.2 201.92 L552.86 200.97 L553.52 200.02 L554.18 199.08 L554.83 198.14 L555.49 197.21 L556.15 196.27 L556.81 195.34 L557.46 194.4 L558.12 193.46 L558.78 192.52 L559.44 191.57 L560.09 190.62 L560.75 189.66 L561.41 188.7 L562.07 187.73 L562.73 186.77 L563.38 185.81 L564.04 184.87 L564.7 183.95 L565.36 183.05 L566.01 182.19 L566.67 181.37 L567.33 180.58 L567.99 179.83 L568.64 179.12 L569.3 178.44 L569.96 177.79 L570.62 177.16 L571.27 176.55 L571.93 175.96 L572.59 175.39 L573.25 174.84 L573.91 174.31 L574.56 173.81 L575.22 173.33 L575.88 172.88 L576.54 172.46 L577.19 172.06 L577.85 171.7 L578.51 171.37 L579.17 171.07 L579.82 170.8 L580.48 170.55 L581.14 170.33 L581.8 170.13 L582.45 169.96 L583.11 169.8 L583.77 169.67 L584.43 169.55 L585.08 169.46 L585.74 169.38 L586.4 169.33 L587.06 169.29 L587.72 169.27 L588.37 169.27 L589.03 169.28 L589.69 169.32 L590.35 169.37 L591 169.43 L591.66 169.52 L592.32 169.62 L592.98 169.74 L593.63 169.88 L594.29 170.03 L594.95 170.2 L595.61 170.39 L596.26 170.59 L596.92 170.8 L597.58 171.03 L598.24 171.28 L598.9 171.54 L599.55 171.82 L600.21 172.1 L600.87 172.41 L601.53 172.73 L602.18 173.06 L602.84 173.41 L603.5 173.77 L604.16 174.14 L604.81 174.53 L605.47 174.93 L606.13 175.35 L606.79 175.78 L607.44 176.22 L608.1 176.68 L608.76 177.14 L609.42 177.62 L610.08 178.11 L610.73 178.61 L611.39 179.12 L612.05 179.64 L612.71 180.17 L613.36 180.7 L614.02 181.25 L614.68 181.8 L615.34 182.35 L615.99 182.92 L616.65 183.49 L617.31 184.06 L617.97 184.64 L618.62 185.22 L619.28 185.81 L619.94 186.4 L620.6 186.99 L621.26 187.58 L621.91 188.17 L622.57 188.76 L623.23 189.35 L623.89 189.95 L624.54 190.54 L625.2 191.13 L625.86 191.72 L626.52 192.31 L627.17 192.9 L627.83 193.5 L628.49 194.09 L629.15 194.68 L629.8 195.28 L630.46 195.88 L631.12 196.48 L631.78 197.09 L632.44 197.7 L633.09 198.32 L633.75 198.94 L634.41 199.58 L635.07 200.21 L635.72 200.85 L636.38 201.5 L637.04 202.16 L637.7 202.81 L638.35 203.48 L639.01 204.14 L639.67 204.81 L640.33 205.48 L640.98 206.14 L641.64 206.8 L642.3 207.45 L642.96 208.1 L643.61 208.73 L644.27 209.36 L644.93 209.97 L645.59 210.57 L646.25 211.16 L646.9 211.74 L647.56 212.32 L648.22 212.88 L648.88 213.44 L649.53 213.99 L650.19 214.53 L650.85 215.07 L651.51 215.61 L652.16 216.14 L652.82 216.67 L653.48 217.19 L654.14 217.72 L654.79 218.24 L655.45 218.75 L656.11 219.27 L656.77 219.78 L657.43 220.29 L658.08 220.8 L658.74 221.3 L659.4 221.81 L660.06 222.31 L660.71 222.81 L661.37 223.3 L662.03 223.8 L662.69 224.29 L663.34 224.77 L664 225.25 L664.66 225.73 L665.32 226.2 L665.97 226.66 L666.63 227.12 L667.29 227.57 L667.95 228.02 L668.61 228.46 L669.26 228.89 L669.92 229.31 L670.58 229.73 L671.24 230.14 L671.89 230.54 L672.55 230.93 L673.21 231.31 L673.87 231.69 L674.52 232.06 L675.18 232.42 L675.84 232.77 L676.5 233.11 L677.15 233.44 L677.81 233.77 L678.47 234.09 L679.13 234.41 L679.79 234.71 L680.44 235.02 L681.1 235.31 L681.76 235.61 L682.42 235.89 L683.07 236.17 L683.73 236.45 L684.39 236.73 L685.05 237 L685.7 237.26 L686.36 237.52 L687.02 237.78 L687.68 238.04 L688.33 238.29 L688.99 238.54 L689.65 238.78 L690.31 239.03 L690.96 239.26 L691.62 239.5 L692.28 239.73 L692.94 239.95 L693.6 240.18 L694.25 240.39 L694.91 240.61 L695.57 240.82 L696.23 241.02 L696.88 241.22 L697.54 241.42 L698.2 241.61 L698.86 241.8 L699.51 241.98 L700.17 242.16 L700.83 242.34 L701.49 242.51 L702.14 242.67 L702.8 242.84 L703.46 242.99 L704.12 243.15 L704.78 243.3 L705.43 243.44 L706.09 243.58 L706.75 243.72 L707.41 243.84 L708.06 243.97 L708.72 244.09 L709.38 244.2 L710.04 244.31 L710.69 244.42 L711.35 244.52 L712.01 244.62 L712.67 244.71 L713.32 244.8 L713.98 244.89 L714.64 244.97 L715.3 245.05 L715.96 245.13 L716.61 245.21 L717.27 245.28 L717.93 245.35 L718.59 245.41 L719.24 245.48 L719.9 245.54 L720.56 245.6 L721.22 245.65 L721.87 245.71 L722.53 245.76 L723.19 245.81 L723.85 245.85 L724.5 245.89 L725.16 245.94 L725.82 245.97 L726.48 246.01 L727.14 246.05 L727.79 246.08 L728.45 246.11 L729.11 246.14 L729.77 246.17 L730.42 246.19 L731.08 246.22 L731.74 246.24 L732.4 246.27 L733.05 246.29 L733.71 246.31 L734.37 246.34 L735.03 246.36 L735.68 246.38 L736.34 246.4 L737 246.42 L737.66 246.44 L738.31 246.46 L738.97 246.48 L739.63 246.5 L740.29 246.52 L740.95 246.53 L741.6 246.55 L742.26 246.57 L742.92 246.59 L743.58 246.61 L744.23 246.63 L744.89 246.64 L745.55 246.66 L746.21 246.68 L746.86 246.7 L747.52 246.71 L748.18 246.73 L748.84 246.74 L749.49 246.76 L750.15 246.77 L750.81 246.78 L751.47 246.79 L752.13 246.8 L752.78 246.81 L753.44 246.82 L754.1 246.84 L754.76 246.85 L755.41 246.86 L756.07 246.88 L756.73 246.9 L757.39 246.92 L758.04 246.94 L758.7 246.96 L759.36 246.99 L760.02 247.01 L760.67 247.04 L761.33 247.07 L761.99 247.1 L762.65 247.13 L763.31 247.16 L763.96 247.19 L764.62 247.23 L765.28 247.26 L765.94 247.29 L766.59 247.33 L767.25 247.36 L767.91 247.39 L768.57 247.43 L769.22 247.46 L769.88 247.5 L770.54 247.53 L771.2 247.56 L771.85 247.6 L772.51 247.63 L773.17 247.67 L773.83 247.7 L774.49 247.74 L775.14 247.77 L775.8 247.81 L776.46 247.84 L777.12 247.88 L777.77 247.91 L778.43 247.94 L779.09 247.98 L779.75 248.01 L780.4 248.05 L781.06 248.08 L781.72 248.11 L782.38 248.14 L783.03 248.17 L783.69 248.2" fill="none" stroke="#0000ff" stroke-width="1.45" stroke-linejoin="round" stroke-linecap="butt"/>
<path d="M523.89 245.85L527.35 239.85L520.43 239.85Z" fill="#0000ff"/>
<path d="M532.86 236.09L536.32 230.09L529.4 230.09Z" fill="#0000ff"/>
<path d="M541.82 221.41L545.28 215.41L538.36 215.41Z" fill="#0000ff"/>
<path d="M550.78 207L554.24 201L547.32 201Z" fill="#0000ff"/>
<path d="M559.74 188.63L563.2 182.63L556.28 182.63Z" fill="#0000ff"/>
<path d="M568.71 182.05L572.17 176.05L565.25 176.05Z" fill="#0000ff"/>
<path d="M577.67 178.4L581.13 172.4L574.21 172.4Z" fill="#0000ff"/>
<path d="M586.63 175.61L590.09 169.61L583.17 169.61Z" fill="#0000ff"/>
<path d="M595.6 177.08L599.06 171.08L592.14 171.08Z" fill="#0000ff"/>
<path d="M604.56 174.78L608.02 168.78L601.1 168.78Z" fill="#0000ff"/>
<path d="M613.52 183.83L616.98 177.83L610.06 177.83Z" fill="#0000ff"/>
<path d="M622.49 192.69L625.95 186.69L619.03 186.69Z" fill="#0000ff"/>
<path d="M631.45 201.79L634.91 195.79L627.99 195.79Z" fill="#0000ff"/>
<path d="M640.41 209.56L643.87 203.56L636.95 203.56Z" fill="#0000ff"/>
<path d="M649.38 217.45L652.84 211.45L645.92 211.45Z" fill="#0000ff"/>
<path d="M658.34 224.99L661.8 218.99L654.88 218.99Z" fill="#0000ff"/>
<path d="M667.3 233.08L670.76 227.08L663.84 227.08Z" fill="#0000ff"/>
<path d="M676.26 238.49L679.72 232.49L672.8 232.49Z" fill="#0000ff"/>
<path d="M685.23 242.67L688.69 236.67L681.77 236.67Z" fill="#0000ff"/>
<path d="M694.19 246.17L697.65 240.17L690.73 240.17Z" fill="#0000ff"/>
<path d="M703.15 248.82L706.61 242.82L699.69 242.82Z" fill="#0000ff"/>
<path d="M712.12 250.43L715.58 244.43L708.66 244.43Z" fill="#0000ff"/>
<path d="M721.08 250.74L724.54 244.74L717.62 244.74Z" fill="#0000ff"/>
<path d="M730.04 251.08L733.5 245.08L726.58 245.08Z" fill="#0000ff"/>
<path d="M739.01 251.48L742.47 245.48L735.55 245.48Z" fill="#0000ff"/>
<path d="M747.97 251.92L751.43 245.92L744.51 245.92Z" fill="#0000ff"/>
<path d="M756.93 252.2L760.39 246.2L753.47 246.2Z" fill="#0000ff"/>
<path d="M765.9 252.49L769.36 246.49L762.44 246.49Z" fill="#0000ff"/>
<path d="M774.86 252.76L778.32 246.76L771.4 246.76Z" fill="#0000ff"/>
<path d="M783.82 253.1L787.28 247.1L780.36 247.1Z" fill="#0000ff"/>
<path d="M521.08 243.22 L521.51 242.57 L521.95 241.9 L522.39 241.21 L522.82 240.5 L523.26 239.77 L523.7 239.02 L524.14 238.25 L524.57 237.45 L525.01 236.62 L525.45 235.76 L525.88 234.86 L526.32 233.93 L526.76 232.96 L527.19 231.96 L527.63 230.93 L528.07 229.86 L528.5 228.77 L528.94 227.66 L529.38 226.52 L529.81 225.37 L530.25 224.19 L530.69 223.01 L531.12 221.8 L531.56 220.59 L532 219.35 L532.43 218.11 L532.87 216.85 L533.31 215.58 L533.74 214.3 L534.18 213.01 L534.62 211.71 L535.06 210.4 L535.49 209.09 L535.93 207.77 L536.37 206.45 L536.8 205.12 L537.24 203.78 L537.68 202.44 L538.11 201.09 L538.55 199.73 L538.99 198.37 L539.42 196.99 L539.86 195.61 L540.3 194.23 L540.73 192.84 L541.17 191.44 L541.61 190.04 L542.04 188.63 L542.48 187.22 L542.92 185.81 L543.35 184.4 L543.79 182.98 L544.23 181.55 L544.66 180.12 L545.1 178.67 L545.54 177.22 L545.98 175.76 L546.41 174.3 L546.85 172.83 L547.29 171.36 L547.72 169.89 L548.16 168.43 L548.6 166.98 L549.03 165.54 L549.47 164.12 L549.91 162.72 L550.34 161.35 L550.78 160 L551.22 158.67 L551.65 157.38 L552.09 156.11 L552.53 154.87 L552.96 153.67 L553.4 152.5 L553.84 151.36 L554.27 150.25 L554.71 149.18 L555.15 148.14 L555.58 147.14 L556.02 146.17 L556.46 145.23 L556.89 144.33 L557.33 143.47 L557.77 142.64 L558.21 141.84 L558.64 141.08 L559.08 140.36 L559.52 139.68 L559.95 139.03 L560.39 138.42 L560.83 137.85 L561.26 137.31 L561.7 136.81 L562.14 136.35 L562.57 135.93 L563.01 135.54 L563.45 135.19 L563.88 134.87 L564.32 134.58 L564.76 134.32 L565.19 134.09 L565.63 133.88 L566.07 133.7 L566.5 133.55 L566.94 133.42 L567.38 133.31 L567.81 133.23 L568.25 133.18 L568.69 133.14 L569.13 133.14 L569.56 133.15 L570 133.19 L570.44 133.26 L570.87 133.34 L571.31 133.46 L571.75 133.59 L572.18 133.75 L572.62 133.93 L573.06 134.13 L573.49 134.36 L573.93 134.6 L574.37 134.88 L574.8 135.17 L575.24 135.49 L575.68 135.83 L576.11 136.19 L576.55 136.58 L576.99 136.99 L577.42 137.43 L577.86 137.89 L578.3 138.37 L578.73 138.88 L579.17 139.41 L579.61 139.97 L580.05 140.55 L580.48 141.15 L580.92 141.77 L581.36 142.41 L581.79 143.08 L582.23 143.76 L582.67 144.47 L583.1 145.19 L583.54 145.93 L583.98 146.69 L584.41 147.46 L584.85 148.25 L585.29 149.05 L585.72 149.86 L586.16 150.68 L586.6 151.51 L587.03 152.36 L587.47 153.21 L587.91 154.07 L588.34 154.95 L588.78 155.83 L589.22 156.73 L589.65 157.63 L590.09 158.55 L590.53 159.47 L590.97 160.41 L591.4 161.35 L591.84 162.29 L592.28 163.25 L592.71 164.2 L593.15 165.16 L593.59 166.12 L594.02 167.08 L594.46 168.04 L594.9 169 L595.33 169.96 L595.77 170.91 L596.21 171.87 L596.64 172.83 L597.08 173.8 L597.52 174.77 L597.95 175.74 L598.39 176.71 L598.83 177.69 L599.26 178.68 L599.7 179.67 L600.14 180.67 L600.57 181.68 L601.01 182.69 L601.45 183.7 L601.89 184.73 L602.32 185.75 L602.76 186.78 L603.2 187.81 L603.63 188.85 L604.07 189.89 L604.51 190.93 L604.94 191.97 L605.38 193.02 L605.82 194.06 L606.25 195.09 L606.69 196.12 L607.13 197.14 L607.56 198.14 L608 199.13 L608.44 200.11 L608.87 201.06 L609.31 201.99 L609.75 202.9 L610.18 203.8 L610.62 204.67 L611.06 205.52 L611.49 206.36 L611.93 207.18 L612.37 207.99 L612.81 208.78 L613.24 209.55 L613.68 210.32 L614.12 211.07 L614.55 211.8 L614.99 212.53 L615.43 213.24 L615.86 213.94 L616.3 214.62 L616.74 215.3 L617.17 215.96 L617.61 216.61 L618.05 217.25 L618.48 217.89 L618.92 218.52 L619.36 219.14 L619.79 219.75 L620.23 220.37 L620.67 220.98 L621.1 221.58 L621.54 222.19 L621.98 222.79 L622.41 223.38 L622.85 223.98 L623.29 224.57 L623.73 225.15 L624.16 225.73 L624.6 226.3 L625.04 226.86 L625.47 227.41 L625.91 227.96 L626.35 228.5 L626.78 229.03 L627.22 229.55 L627.66 230.06 L628.09 230.56 L628.53 231.06 L628.97 231.54 L629.4 232.02 L629.84 232.48 L630.28 232.94 L630.71 233.39 L631.15 233.83 L631.59 234.26 L632.02 234.69 L632.46 235.1 L632.9 235.5 L633.33 235.9 L633.77 236.29 L634.21 236.66 L634.65 237.03 L635.08 237.39 L635.52 237.74 L635.96 238.08 L636.39 238.42 L636.83 238.74 L637.27 239.05 L637.7 239.36 L638.14 239.66 L638.58 239.95 L639.01 240.23 L639.45 240.51 L639.89 240.77 L640.32 241.03 L640.76 241.28 L641.2 241.53 L641.63 241.76 L642.07 241.99 L642.51 242.21 L642.94 242.43 L643.38 242.64 L643.82 242.83 L644.25 243.03 L644.69 243.21 L645.13 243.39 L645.57 243.56 L646 243.73 L646.44 243.89 L646.88 244.05 L647.31 244.2 L647.75 244.34 L648.19 244.48 L648.62 244.62 L649.06 244.75 L649.5 244.87 L649.93 245 L650.37 245.11 L650.81 245.23 L651.24 245.34 L651.68 245.45 L652.12 245.56 L652.55 245.66 L652.99 245.76 L653.43 245.86 L653.86 245.95 L654.3 246.04 L654.74 246.13 L655.17 246.21 L655.61 246.3 L656.05 246.38 L656.48 246.45 L656.92 246.53 L657.36 246.6 L657.8 246.67 L658.23 246.73 L658.67 246.8 L659.11 246.86 L659.54 246.91 L659.98 246.97 L660.42 247.02 L660.85 247.07 L661.29 247.11 L661.73 247.16 L662.16 247.2 L662.6 247.24 L663.04 247.28 L663.47 247.31 L663.91 247.35 L664.35 247.38 L664.78 247.42 L665.22 247.45 L665.66 247.48 L666.09 247.52 L666.53 247.55 L666.97 247.58 L667.4 247.62 L667.84 247.65 L668.28 247.69 L668.72 247.73 L669.15 247.76 L669.59 247.8 L670.03 247.84 L670.46 247.88 L670.9 247.92 L671.34 247.95 L671.77 247.99 L672.21 248.03 L672.65 248.07 L673.08 248.1 L673.52 248.14 L673.96 248.17 L674.39 248.21 L674.83 248.24 L675.27 248.27 L675.7 248.3 L676.14 248.33 L676.58 248.36 L677.01 248.39 L677.45 248.41 L677.89 248.44 L678.32 248.46 L678.76 248.48 L679.2 248.51 L679.64 248.53 L680.07 248.55 L680.51 248.57 L680.95 248.59 L681.38 248.6 L681.82 248.62 L682.26 248.64 L682.69 248.65 L683.13 248.67 L683.57 248.68 L684 248.7 L684.44 248.71 L684.88 248.72 L685.31 248.74 L685.75 248.75 L686.19 248.76 L686.62 248.77 L687.06 248.78 L687.5 248.79 L687.93 248.8 L688.37 248.81 L688.81 248.82 L689.24 248.83 L689.68 248.84 L690.12 248.84 L690.56 248.85 L690.99 248.86 L691.43 248.86 L691.87 248.87 L692.3 248.88 L692.74 248.88 L693.18 248.89 L693.61 248.89 L694.05 248.9 L694.49 248.9 L694.92 248.91 L695.36 248.91" fill="none" stroke="#00ff00" stroke-width="1.45" stroke-linejoin="round" stroke-linecap="butt"/>
<path d="M523.7 235.5L527.16 241.5L520.24 241.5Z" fill="#00ff00"/>
<path d="M532.6 211.9L536.06 217.9L529.14 217.9Z" fill="#00ff00"/>
<path d="M541.9 183.5L545.36 189.5L538.44 189.5Z" fill="#00ff00"/>
<path d="M550.9 160.7L554.36 166.7L547.44 166.7Z" fill="#00ff00"/>
<path d="M559.8 135.2L563.26 141.2L556.34 141.2Z" fill="#00ff00"/>
<path d="M568.9 128.2L572.36 134.2L565.44 134.2Z" fill="#00ff00"/>
<path d="M577.8 132.3L581.26 138.3L574.34 138.3Z" fill="#00ff00"/>
<path d="M586.7 153.1L590.16 159.1L583.24 159.1Z" fill="#00ff00"/>
<path d="M595.5 169.4L598.96 175.4L592.04 175.4Z" fill="#00ff00"/>
<path d="M604.4 186.2L607.86 192.2L600.94 192.2Z" fill="#00ff00"/>
<path d="M613.3 203.2L616.76 209.2L609.84 209.2Z" fill="#00ff00"/>
<path d="M622.2 217.6L625.66 223.6L618.74 223.6Z" fill="#00ff00"/>
<path d="M630.9 230L634.36 236L627.44 236Z" fill="#00ff00"/>
<path d="M640 236.3L643.46 242.3L636.54 242.3Z" fill="#00ff00"/>
<path d="M648.6 239.7L652.06 245.7L645.14 245.7Z" fill="#00ff00"/>
<path d="M657.9 242.2L661.36 248.2L654.44 248.2Z" fill="#00ff00"/>
<path d="M666.8 243.4L670.26 249.4L663.34 249.4Z" fill="#00ff00"/>
<path d="M675.7 244L679.16 250L672.24 250Z" fill="#00ff00"/>
<path d="M684.6 244.3L688.06 250.3L681.14 250.3Z" fill="#00ff00"/>
<path d="M693.5 244.5L696.96 250.5L690.04 250.5Z" fill="#00ff00"/>
</g>
<rect x="712.9" y="30.2" width="5" height="5" fill="#000000"/>
<text x="738.4" y="38.3" font-size="16" text-anchor="start">s = 50</text>
<circle cx="715.4" cy="53.1" r="2.75" fill="#ff0000"/>
<text x="738.4" y="58.7" font-size="16" text-anchor="start">s = 100</text>
<path d="M715.4 69.5L718.86 75.5L711.94 75.5Z" fill="#00ff00"/>
<text x="738.4" y="79.1" font-size="16" text-anchor="start">s = 200</text>
<path d="M715.4 97.9L718.86 91.9L711.94 91.9Z" fill="#0000ff"/>
<text x="738.4" y="99.5" font-size="16" text-anchor="start">s = 500</text>
<path d="M715.4 110.8L718.8 114.3L715.4 117.8L712 114.3Z" fill="#00ffff"/>
<text x="738.4" y="119.9" font-size="16" text-anchor="start">s = 1000</text>
<path d="M711.4 134.7L717.4 131.24L717.4 138.16Z" fill="#ff00ff"/>
<text x="738.4" y="140.3" font-size="16" text-anchor="start">s = 2000</text>
<text transform="translate(457.5 130.3) rotate(-90)" font-size="21" text-anchor="middle">P(|x<tspan font-size="12" dy="7">k</tspan><tspan dy="-7">-x</tspan><tspan font-size="12" dy="7">m</tspan><tspan dy="-7">|,</tspan><tspan font-style="italic">s</tspan>)</text>
<text x="689" y="305" font-size="21" text-anchor="middle">|x<tspan font-size="11.5" dy="7">k</tspan><tspan dy="-7">-x</tspan><tspan font-size="11.5" dy="7">m</tspan><tspan dy="-7">|</tspan></text>
<text x="527.5" y="298.2" font-size="19.2" text-anchor="start">(b)</text>
<rect x="69.6" y="335.5" width="346.15" height="254.5" fill="none" stroke="#000" stroke-width="1.2"/>
<line x1="69.6" y1="590" x2="69.6" y2="595" stroke="#000" stroke-width="1"/>
<line x1="69.6" y1="335.5" x2="69.6" y2="340.5" stroke="#000" stroke-width="1"/>
<text x="69.9" y="610.5" font-size="13.3" text-anchor="middle">10<tspan font-size="8" dy="-6.5">0</tspan></text>
<line x1="95.65" y1="590" x2="95.65" y2="592.8" stroke="#000" stroke-width="1"/>
<line x1="95.65" y1="335.5" x2="95.65" y2="338.3" stroke="#000" stroke-width="1"/>
<line x1="110.89" y1="590" x2="110.89" y2="592.8" stroke="#000" stroke-width="1"/>
<line x1="110.89" y1="335.5" x2="110.89" y2="338.3" stroke="#000" stroke-width="1"/>
<line x1="121.7" y1="590" x2="121.7" y2="592.8" stroke="#000" stroke-width="1"/>
<line x1="121.7" y1="335.5" x2="121.7" y2="338.3" stroke="#000" stroke-width="1"/>
<line x1="130.09" y1="590" x2="130.09" y2="592.8" stroke="#000" stroke-width="1"/>
<line x1="130.09" y1="335.5" x2="130.09" y2="338.3" stroke="#000" stroke-width="1"/>
<line x1="136.94" y1="590" x2="136.94" y2="592.8" stroke="#000" stroke-width="1"/>
<line x1="136.94" y1="335.5" x2="136.94" y2="338.3" stroke="#000" stroke-width="1"/>
<line x1="142.73" y1="590" x2="142.73" y2="592.8" stroke="#000" stroke-width="1"/>
<line x1="142.73" y1="335.5" x2="142.73" y2="338.3" stroke="#000" stroke-width="1"/>
<line x1="147.75" y1="590" x2="147.75" y2="592.8" stroke="#000" stroke-width="1"/>
<line x1="147.75" y1="335.5" x2="147.75" y2="338.3" stroke="#000" stroke-width="1"/>
<line x1="152.18" y1="590" x2="152.18" y2="592.8" stroke="#000" stroke-width="1"/>
<line x1="152.18" y1="335.5" x2="152.18" y2="338.3" stroke="#000" stroke-width="1"/>
<line x1="156.14" y1="590" x2="156.14" y2="595" stroke="#000" stroke-width="1"/>
<line x1="156.14" y1="335.5" x2="156.14" y2="340.5" stroke="#000" stroke-width="1"/>
<text x="156.44" y="610.5" font-size="13.3" text-anchor="middle">10<tspan font-size="8" dy="-6.5">1</tspan></text>
<line x1="182.19" y1="590" x2="182.19" y2="592.8" stroke="#000" stroke-width="1"/>
<line x1="182.19" y1="335.5" x2="182.19" y2="338.3" stroke="#000" stroke-width="1"/>
<line x1="197.43" y1="590" x2="197.43" y2="592.8" stroke="#000" stroke-width="1"/>
<line x1="197.43" y1="335.5" x2="197.43" y2="338.3" stroke="#000" stroke-width="1"/>
<line x1="208.24" y1="590" x2="208.24" y2="592.8" stroke="#000" stroke-width="1"/>
<line x1="208.24" y1="335.5" x2="208.24" y2="338.3" stroke="#000" stroke-width="1"/>
<line x1="216.62" y1="590" x2="216.62" y2="592.8" stroke="#000" stroke-width="1"/>
<line x1="216.62" y1="335.5" x2="216.62" y2="338.3" stroke="#000" stroke-width="1"/>
<line x1="223.48" y1="590" x2="223.48" y2="592.8" stroke="#000" stroke-width="1"/>
<line x1="223.48" y1="335.5" x2="223.48" y2="338.3" stroke="#000" stroke-width="1"/>
<line x1="229.27" y1="590" x2="229.27" y2="592.8" stroke="#000" stroke-width="1"/>
<line x1="229.27" y1="335.5" x2="229.27" y2="338.3" stroke="#000" stroke-width="1"/>
<line x1="234.29" y1="590" x2="234.29" y2="592.8" stroke="#000" stroke-width="1"/>
<line x1="234.29" y1="335.5" x2="234.29" y2="338.3" stroke="#000" stroke-width="1"/>
<line x1="238.72" y1="590" x2="238.72" y2="592.8" stroke="#000" stroke-width="1"/>
<line x1="238.72" y1="335.5" x2="238.72" y2="338.3" stroke="#000" stroke-width="1"/>
<line x1="242.67" y1="590" x2="242.67" y2="595" stroke="#000" stroke-width="1"/>
<line x1="242.67" y1="335.5" x2="242.67" y2="340.5" stroke="#000" stroke-width="1"/>
<text x="242.97" y="610.5" font-size="13.3" text-anchor="middle">10<tspan font-size="8" dy="-6.5">2</tspan></text>
<line x1="268.73" y1="590" x2="268.73" y2="592.8" stroke="#000" stroke-width="1"/>
<line x1="268.73" y1="335.5" x2="268.73" y2="338.3" stroke="#000" stroke-width="1"/>
<line x1="283.96" y1="590" x2="283.96" y2="592.8" stroke="#000" stroke-width="1"/>
<line x1="283.96" y1="335.5" x2="283.96" y2="338.3" stroke="#000" stroke-width="1"/>
<line x1="294.78" y1="590" x2="294.78" y2="592.8" stroke="#000" stroke-width="1"/>
<line x1="294.78" y1="335.5" x2="294.78" y2="338.3" stroke="#000" stroke-width="1"/>
<line x1="303.16" y1="590" x2="303.16" y2="592.8" stroke="#000" stroke-width="1"/>
<line x1="303.16" y1="335.5" x2="303.16" y2="338.3" stroke="#000" stroke-width="1"/>
<line x1="310.01" y1="590" x2="310.01" y2="592.8" stroke="#000" stroke-width="1"/>
<line x1="310.01" y1="335.5" x2="310.01" y2="338.3" stroke="#000" stroke-width="1"/>
<line x1="315.81" y1="590" x2="315.81" y2="592.8" stroke="#000" stroke-width="1"/>
<line x1="315.81" y1="335.5" x2="315.81" y2="338.3" stroke="#000" stroke-width="1"/>
<line x1="320.83" y1="590" x2="320.83" y2="592.8" stroke="#000" stroke-width="1"/>
<line x1="320.83" y1="335.5" x2="320.83" y2="338.3" stroke="#000" stroke-width="1"/>
<line x1="325.25" y1="590" x2="325.25" y2="592.8" stroke="#000" stroke-width="1"/>
<line x1="325.25" y1="335.5" x2="325.25" y2="338.3" stroke="#000" stroke-width="1"/>
<line x1="329.21" y1="590" x2="329.21" y2="595" stroke="#000" stroke-width="1"/>
<line x1="329.21" y1="335.5" x2="329.21" y2="340.5" stroke="#000" stroke-width="1"/>
<text x="329.51" y="610.5" font-size="13.3" text-anchor="middle">10<tspan font-size="8" dy="-6.5">3</tspan></text>
<line x1="355.26" y1="590" x2="355.26" y2="592.8" stroke="#000" stroke-width="1"/>
<line x1="355.26" y1="335.5" x2="355.26" y2="338.3" stroke="#000" stroke-width="1"/>
<line x1="370.5" y1="590" x2="370.5" y2="592.8" stroke="#000" stroke-width="1"/>
<line x1="370.5" y1="335.5" x2="370.5" y2="338.3" stroke="#000" stroke-width="1"/>
<line x1="381.31" y1="590" x2="381.31" y2="592.8" stroke="#000" stroke-width="1"/>
<line x1="381.31" y1="335.5" x2="381.31" y2="338.3" stroke="#000" stroke-width="1"/>
<line x1="389.7" y1="590" x2="389.7" y2="592.8" stroke="#000" stroke-width="1"/>
<line x1="389.7" y1="335.5" x2="389.7" y2="338.3" stroke="#000" stroke-width="1"/>
<line x1="396.55" y1="590" x2="396.55" y2="592.8" stroke="#000" stroke-width="1"/>
<line x1="396.55" y1="335.5" x2="396.55" y2="338.3" stroke="#000" stroke-width="1"/>
<line x1="402.35" y1="590" x2="402.35" y2="592.8" stroke="#000" stroke-width="1"/>
<line x1="402.35" y1="335.5" x2="402.35" y2="338.3" stroke="#000" stroke-width="1"/>
<line x1="407.36" y1="590" x2="407.36" y2="592.8" stroke="#000" stroke-width="1"/>
<line x1="407.36" y1="335.5" x2="407.36" y2="338.3" stroke="#000" stroke-width="1"/>
<line x1="411.79" y1="590" x2="411.79" y2="592.8" stroke="#000" stroke-width="1"/>
<line x1="411.79" y1="335.5" x2="411.79" y2="338.3" stroke="#000" stroke-width="1"/>
<line x1="415.75" y1="590" x2="415.75" y2="595" stroke="#000" stroke-width="1"/>
<line x1="415.75" y1="335.5" x2="415.75" y2="340.5" stroke="#000" stroke-width="1"/>
<text x="416.05" y="610.5" font-size="13.3" text-anchor="middle">10<tspan font-size="8" dy="-6.5">4</tspan></text>
<line x1="64.6" y1="590" x2="69.6" y2="590" stroke="#000" stroke-width="1"/>
<line x1="410.75" y1="590" x2="415.75" y2="590" stroke="#000" stroke-width="1"/>
<text x="61.6" y="595.3" font-size="13.3" text-anchor="end">10<tspan font-size="8" dy="-6.5">0</tspan></text>
<line x1="66.8" y1="564.46" x2="69.6" y2="564.46" stroke="#000" stroke-width="1"/>
<line x1="412.95" y1="564.46" x2="415.75" y2="564.46" stroke="#000" stroke-width="1"/>
<line x1="66.8" y1="549.52" x2="69.6" y2="549.52" stroke="#000" stroke-width="1"/>
<line x1="412.95" y1="549.52" x2="415.75" y2="549.52" stroke="#000" stroke-width="1"/>
<line x1="66.8" y1="538.93" x2="69.6" y2="538.93" stroke="#000" stroke-width="1"/>
<line x1="412.95" y1="538.93" x2="415.75" y2="538.93" stroke="#000" stroke-width="1"/>
<line x1="66.8" y1="530.7" x2="69.6" y2="530.7" stroke="#000" stroke-width="1"/>
<line x1="412.95" y1="530.7" x2="415.75" y2="530.7" stroke="#000" stroke-width="1"/>
<line x1="66.8" y1="523.99" x2="69.6" y2="523.99" stroke="#000" stroke-width="1"/>
<line x1="412.95" y1="523.99" x2="415.75" y2="523.99" stroke="#000" stroke-width="1"/>
<line x1="66.8" y1="518.31" x2="69.6" y2="518.31" stroke="#000" stroke-width="1"/>
<line x1="412.95" y1="518.31" x2="415.75" y2="518.31" stroke="#000" stroke-width="1"/>
<line x1="66.8" y1="513.39" x2="69.6" y2="513.39" stroke="#000" stroke-width="1"/>
<line x1="412.95" y1="513.39" x2="415.75" y2="513.39" stroke="#000" stroke-width="1"/>
<line x1="66.8" y1="509.05" x2="69.6" y2="509.05" stroke="#000" stroke-width="1"/>
<line x1="412.95" y1="509.05" x2="415.75" y2="509.05" stroke="#000" stroke-width="1"/>
<line x1="64.6" y1="505.17" x2="69.6" y2="505.17" stroke="#000" stroke-width="1"/>
<line x1="410.75" y1="505.17" x2="415.75" y2="505.17" stroke="#000" stroke-width="1"/>
<text x="61.6" y="510.47" font-size="13.3" text-anchor="end">10<tspan font-size="8" dy="-6.5">1</tspan></text>
<line x1="66.8" y1="479.63" x2="69.6" y2="479.63" stroke="#000" stroke-width="1"/>
<line x1="412.95" y1="479.63" x2="415.75" y2="479.63" stroke="#000" stroke-width="1"/>
<line x1="66.8" y1="464.69" x2="69.6" y2="464.69" stroke="#000" stroke-width="1"/>
<line x1="412.95" y1="464.69" x2="415.75" y2="464.69" stroke="#000" stroke-width="1"/>
<line x1="66.8" y1="454.09" x2="69.6" y2="454.09" stroke="#000" stroke-width="1"/>
<line x1="412.95" y1="454.09" x2="415.75" y2="454.09" stroke="#000" stroke-width="1"/>
<line x1="66.8" y1="445.87" x2="69.6" y2="445.87" stroke="#000" stroke-width="1"/>
<line x1="412.95" y1="445.87" x2="415.75" y2="445.87" stroke="#000" stroke-width="1"/>
<line x1="66.8" y1="439.15" x2="69.6" y2="439.15" stroke="#000" stroke-width="1"/>
<line x1="412.95" y1="439.15" x2="415.75" y2="439.15" stroke="#000" stroke-width="1"/>
<line x1="66.8" y1="433.47" x2="69.6" y2="433.47" stroke="#000" stroke-width="1"/>
<line x1="412.95" y1="433.47" x2="415.75" y2="433.47" stroke="#000" stroke-width="1"/>
<line x1="66.8" y1="428.55" x2="69.6" y2="428.55" stroke="#000" stroke-width="1"/>
<line x1="412.95" y1="428.55" x2="415.75" y2="428.55" stroke="#000" stroke-width="1"/>
<line x1="66.8" y1="424.22" x2="69.6" y2="424.22" stroke="#000" stroke-width="1"/>
<line x1="412.95" y1="424.22" x2="415.75" y2="424.22" stroke="#000" stroke-width="1"/>
<line x1="64.6" y1="420.33" x2="69.6" y2="420.33" stroke="#000" stroke-width="1"/>
<line x1="410.75" y1="420.33" x2="415.75" y2="420.33" stroke="#000" stroke-width="1"/>
<text x="61.6" y="425.63" font-size="13.3" text-anchor="end">10<tspan font-size="8" dy="-6.5">2</tspan></text>
<line x1="66.8" y1="394.8" x2="69.6" y2="394.8" stroke="#000" stroke-width="1"/>
<line x1="412.95" y1="394.8" x2="415.75" y2="394.8" stroke="#000" stroke-width="1"/>
<line x1="66.8" y1="379.86" x2="69.6" y2="379.86" stroke="#000" stroke-width="1"/>
<line x1="412.95" y1="379.86" x2="415.75" y2="379.86" stroke="#000" stroke-width="1"/>
<line x1="66.8" y1="369.26" x2="69.6" y2="369.26" stroke="#000" stroke-width="1"/>
<line x1="412.95" y1="369.26" x2="415.75" y2="369.26" stroke="#000" stroke-width="1"/>
<line x1="66.8" y1="361.04" x2="69.6" y2="361.04" stroke="#000" stroke-width="1"/>
<line x1="412.95" y1="361.04" x2="415.75" y2="361.04" stroke="#000" stroke-width="1"/>
<line x1="66.8" y1="354.32" x2="69.6" y2="354.32" stroke="#000" stroke-width="1"/>
<line x1="412.95" y1="354.32" x2="415.75" y2="354.32" stroke="#000" stroke-width="1"/>
<line x1="66.8" y1="348.64" x2="69.6" y2="348.64" stroke="#000" stroke-width="1"/>
<line x1="412.95" y1="348.64" x2="415.75" y2="348.64" stroke="#000" stroke-width="1"/>
<line x1="66.8" y1="343.72" x2="69.6" y2="343.72" stroke="#000" stroke-width="1"/>
<line x1="412.95" y1="343.72" x2="415.75" y2="343.72" stroke="#000" stroke-width="1"/>
<line x1="66.8" y1="339.38" x2="69.6" y2="339.38" stroke="#000" stroke-width="1"/>
<line x1="412.95" y1="339.38" x2="415.75" y2="339.38" stroke="#000" stroke-width="1"/>
<line x1="64.6" y1="335.5" x2="69.6" y2="335.5" stroke="#000" stroke-width="1"/>
<line x1="410.75" y1="335.5" x2="415.75" y2="335.5" stroke="#000" stroke-width="1"/>
<text x="61.6" y="340.8" font-size="13.3" text-anchor="end">10<tspan font-size="8" dy="-6.5">3</tspan></text>
<path d="M69.5 590 C70.29 588.73 72.66 584.84 74.24 582.39 C75.82 579.95 77.4 577.64 78.98 575.32 C80.56 572.99 82.14 570.7 83.72 568.44 C85.3 566.18 86.88 563.95 88.46 561.76 C90.04 559.56 91.61 557.39 93.19 555.26 C94.77 553.12 96.35 551.02 97.93 548.94 C99.51 546.86 101.09 544.82 102.67 542.8 C104.25 540.78 105.83 538.78 107.41 536.82 C108.99 534.85 110.57 532.92 112.15 531 C113.73 529.09 115.31 527.2 116.89 525.34 C118.47 523.48 120.05 521.64 121.63 519.83 C123.21 518.02 124.79 516.23 126.37 514.46 C127.95 512.69 129.53 510.95 131.11 509.23 C132.69 507.51 134.26 505.81 135.84 504.13 C137.42 502.45 139 500.79 140.58 499.15 C142.16 497.51 143.74 495.89 145.32 494.29 C146.9 492.69 148.48 491.11 150.06 489.54 C151.64 487.98 153.22 486.43 154.8 484.9 C156.38 483.37 157.96 481.86 159.54 480.36 C161.12 478.86 162.7 477.38 164.28 475.91 C165.86 474.44 167.44 472.99 169.02 471.55 C170.6 470.11 172.18 468.68 173.76 467.27 C175.34 465.85 176.91 464.45 178.49 463.06 C180.07 461.67 181.65 460.29 183.23 458.92 C184.81 457.56 186.39 456.2 187.97 454.85 C189.55 453.5 191.13 452.16 192.71 450.83 C194.29 449.5 195.87 448.18 197.45 446.86 C199.03 445.55 200.61 444.24 202.19 442.94 C203.77 441.64 205.35 440.35 206.93 439.06 C208.51 437.78 210.09 436.5 211.67 435.23 C213.25 433.96 214.83 432.69 216.41 431.43 C217.99 430.17 219.56 428.92 221.14 427.67 C222.72 426.42 224.3 425.18 225.88 423.94 C227.46 422.71 229.04 421.47 230.62 420.25 C232.2 419.02 233.78 417.8 235.36 416.58 C236.94 415.36 238.52 414.15 240.1 412.94 C241.68 411.73 243.26 410.53 244.84 409.33 C246.42 408.12 248 406.93 249.58 405.73 C251.16 404.54 252.74 403.35 254.32 402.16 C255.9 400.97 257.48 399.78 259.06 398.6 C260.64 397.42 262.21 396.24 263.79 395.06 C265.37 393.88 266.95 392.71 268.53 391.54 C270.11 390.37 271.69 389.21 273.27 388.05 C274.85 386.89 276.43 385.73 278.01 384.59 C279.59 383.44 281.17 382.3 282.75 381.16 C284.33 380.03 285.91 378.91 287.49 377.79 C289.07 376.67 290.65 375.56 292.23 374.47 C293.81 373.37 295.39 372.28 296.97 371.2 C298.55 370.12 300.13 369.06 301.71 368 C303.29 366.95 304.86 365.9 306.44 364.87 C308.02 363.85 309.6 362.83 311.18 361.83 C312.76 360.82 314.34 359.83 315.92 358.86 C317.5 357.89 319.08 356.93 320.66 355.98 C322.24 355.04 323.06 354.4 325.4 353.21 C327.74 352.01 331.93 350.22 334.7 348.8 C337.47 347.38 340.28 345.58 342 344.7 C343.72 343.82 343.77 343.95 345 343.5 C346.23 343.05 347.93 342.48 349.4 342 C350.87 341.52 352.33 341.02 353.8 340.6 C355.27 340.18 356.48 339.85 358.2 339.5 C359.92 339.15 362.02 338.78 364.1 338.5 C366.18 338.22 369.6 337.92 370.7 337.8" fill="none" stroke="#000" stroke-width="1.7" stroke-linejoin="round"/>
<line x1="129.9" y1="539.3" x2="198.9" y2="472.7" stroke="#111" stroke-width="1" stroke-dasharray="2.7 2.55"/>
<line x1="280.3" y1="414.2" x2="358.6" y2="360.5" stroke="#111" stroke-width="1" stroke-dasharray="2.7 2.55"/>
<line x1="216.5" y1="403" x2="216.5" y2="462" stroke="#b4b4b4" stroke-width="1" stroke-dasharray="1 1" shape-rendering="crispEdges"/>
<text x="176" y="521.6" font-size="21" text-anchor="start"><tspan font-style="italic">s</tspan></text>
<text x="320.8" y="408.2" font-size="21" text-anchor="start"><tspan font-style="italic">s</tspan><tspan font-size="12" dy="-9.6">0.76</tspan></text>
<text x="211" y="490" font-size="20.6" text-anchor="start">N<tspan font-size="13" dy="7.3">e</tspan><tspan dy="-7.3"> = 50</tspan></text>
<text x="243.5" y="638" font-size="21" text-anchor="middle"><tspan font-style="italic">s</tspan></text>
<text x="79.2" y="640" font-size="19" text-anchor="start">(c)</text>
<text transform="translate(25.4 456.5) rotate(-90)" font-size="21" text-anchor="middle">σ<tspan font-size="12" dy="-10.3">2</tspan></text>
<rect x="513.25" y="335.5" width="346.85" height="254.5" fill="none" stroke="#000" stroke-width="1.2"/>
<line x1="513.25" y1="590" x2="513.25" y2="595" stroke="#000" stroke-width="1"/>
<line x1="513.25" y1="335.5" x2="513.25" y2="340.5" stroke="#000" stroke-width="1"/>
<text x="513.55" y="610.5" font-size="13.3" text-anchor="middle">10<tspan font-size="8" dy="-6.5">0</tspan></text>
<line x1="539.35" y1="590" x2="539.35" y2="592.8" stroke="#000" stroke-width="1"/>
<line x1="539.35" y1="335.5" x2="539.35" y2="338.3" stroke="#000" stroke-width="1"/>
<line x1="554.62" y1="590" x2="554.62" y2="592.8" stroke="#000" stroke-width="1"/>
<line x1="554.62" y1="335.5" x2="554.62" y2="338.3" stroke="#000" stroke-width="1"/>
<line x1="565.46" y1="590" x2="565.46" y2="592.8" stroke="#000" stroke-width="1"/>
<line x1="565.46" y1="335.5" x2="565.46" y2="338.3" stroke="#000" stroke-width="1"/>
<line x1="573.86" y1="590" x2="573.86" y2="592.8" stroke="#000" stroke-width="1"/>
<line x1="573.86" y1="335.5" x2="573.86" y2="338.3" stroke="#000" stroke-width="1"/>
<line x1="580.73" y1="590" x2="580.73" y2="592.8" stroke="#000" stroke-width="1"/>
<line x1="580.73" y1="335.5" x2="580.73" y2="338.3" stroke="#000" stroke-width="1"/>
<line x1="586.53" y1="590" x2="586.53" y2="592.8" stroke="#000" stroke-width="1"/>
<line x1="586.53" y1="335.5" x2="586.53" y2="338.3" stroke="#000" stroke-width="1"/>
<line x1="591.56" y1="590" x2="591.56" y2="592.8" stroke="#000" stroke-width="1"/>
<line x1="591.56" y1="335.5" x2="591.56" y2="338.3" stroke="#000" stroke-width="1"/>
<line x1="595.99" y1="590" x2="595.99" y2="592.8" stroke="#000" stroke-width="1"/>
<line x1="595.99" y1="335.5" x2="595.99" y2="338.3" stroke="#000" stroke-width="1"/>
<line x1="599.96" y1="590" x2="599.96" y2="595" stroke="#000" stroke-width="1"/>
<line x1="599.96" y1="335.5" x2="599.96" y2="340.5" stroke="#000" stroke-width="1"/>
<text x="600.26" y="610.5" font-size="13.3" text-anchor="middle">10<tspan font-size="8" dy="-6.5">1</tspan></text>
<line x1="626.07" y1="590" x2="626.07" y2="592.8" stroke="#000" stroke-width="1"/>
<line x1="626.07" y1="335.5" x2="626.07" y2="338.3" stroke="#000" stroke-width="1"/>
<line x1="641.33" y1="590" x2="641.33" y2="592.8" stroke="#000" stroke-width="1"/>
<line x1="641.33" y1="335.5" x2="641.33" y2="338.3" stroke="#000" stroke-width="1"/>
<line x1="652.17" y1="590" x2="652.17" y2="592.8" stroke="#000" stroke-width="1"/>
<line x1="652.17" y1="335.5" x2="652.17" y2="338.3" stroke="#000" stroke-width="1"/>
<line x1="660.57" y1="590" x2="660.57" y2="592.8" stroke="#000" stroke-width="1"/>
<line x1="660.57" y1="335.5" x2="660.57" y2="338.3" stroke="#000" stroke-width="1"/>
<line x1="667.44" y1="590" x2="667.44" y2="592.8" stroke="#000" stroke-width="1"/>
<line x1="667.44" y1="335.5" x2="667.44" y2="338.3" stroke="#000" stroke-width="1"/>
<line x1="673.24" y1="590" x2="673.24" y2="592.8" stroke="#000" stroke-width="1"/>
<line x1="673.24" y1="335.5" x2="673.24" y2="338.3" stroke="#000" stroke-width="1"/>
<line x1="678.27" y1="590" x2="678.27" y2="592.8" stroke="#000" stroke-width="1"/>
<line x1="678.27" y1="335.5" x2="678.27" y2="338.3" stroke="#000" stroke-width="1"/>
<line x1="682.71" y1="590" x2="682.71" y2="592.8" stroke="#000" stroke-width="1"/>
<line x1="682.71" y1="335.5" x2="682.71" y2="338.3" stroke="#000" stroke-width="1"/>
<line x1="686.67" y1="590" x2="686.67" y2="595" stroke="#000" stroke-width="1"/>
<line x1="686.67" y1="335.5" x2="686.67" y2="340.5" stroke="#000" stroke-width="1"/>
<text x="686.97" y="610.5" font-size="13.3" text-anchor="middle">10<tspan font-size="8" dy="-6.5">2</tspan></text>
<line x1="712.78" y1="590" x2="712.78" y2="592.8" stroke="#000" stroke-width="1"/>
<line x1="712.78" y1="335.5" x2="712.78" y2="338.3" stroke="#000" stroke-width="1"/>
<line x1="728.05" y1="590" x2="728.05" y2="592.8" stroke="#000" stroke-width="1"/>
<line x1="728.05" y1="335.5" x2="728.05" y2="338.3" stroke="#000" stroke-width="1"/>
<line x1="738.88" y1="590" x2="738.88" y2="592.8" stroke="#000" stroke-width="1"/>
<line x1="738.88" y1="335.5" x2="738.88" y2="338.3" stroke="#000" stroke-width="1"/>
<line x1="747.28" y1="590" x2="747.28" y2="592.8" stroke="#000" stroke-width="1"/>
<line x1="747.28" y1="335.5" x2="747.28" y2="338.3" stroke="#000" stroke-width="1"/>
<line x1="754.15" y1="590" x2="754.15" y2="592.8" stroke="#000" stroke-width="1"/>
<line x1="754.15" y1="335.5" x2="754.15" y2="338.3" stroke="#000" stroke-width="1"/>
<line x1="759.96" y1="590" x2="759.96" y2="592.8" stroke="#000" stroke-width="1"/>
<line x1="759.96" y1="335.5" x2="759.96" y2="338.3" stroke="#000" stroke-width="1"/>
<line x1="764.98" y1="590" x2="764.98" y2="592.8" stroke="#000" stroke-width="1"/>
<line x1="764.98" y1="335.5" x2="764.98" y2="338.3" stroke="#000" stroke-width="1"/>
<line x1="769.42" y1="590" x2="769.42" y2="592.8" stroke="#000" stroke-width="1"/>
<line x1="769.42" y1="335.5" x2="769.42" y2="338.3" stroke="#000" stroke-width="1"/>
<line x1="773.39" y1="590" x2="773.39" y2="595" stroke="#000" stroke-width="1"/>
<line x1="773.39" y1="335.5" x2="773.39" y2="340.5" stroke="#000" stroke-width="1"/>
<text x="773.69" y="610.5" font-size="13.3" text-anchor="middle">10<tspan font-size="8" dy="-6.5">3</tspan></text>
<line x1="799.49" y1="590" x2="799.49" y2="592.8" stroke="#000" stroke-width="1"/>
<line x1="799.49" y1="335.5" x2="799.49" y2="338.3" stroke="#000" stroke-width="1"/>
<line x1="814.76" y1="590" x2="814.76" y2="592.8" stroke="#000" stroke-width="1"/>
<line x1="814.76" y1="335.5" x2="814.76" y2="338.3" stroke="#000" stroke-width="1"/>
<line x1="825.59" y1="590" x2="825.59" y2="592.8" stroke="#000" stroke-width="1"/>
<line x1="825.59" y1="335.5" x2="825.59" y2="338.3" stroke="#000" stroke-width="1"/>
<line x1="834" y1="590" x2="834" y2="592.8" stroke="#000" stroke-width="1"/>
<line x1="834" y1="335.5" x2="834" y2="338.3" stroke="#000" stroke-width="1"/>
<line x1="840.86" y1="590" x2="840.86" y2="592.8" stroke="#000" stroke-width="1"/>
<line x1="840.86" y1="335.5" x2="840.86" y2="338.3" stroke="#000" stroke-width="1"/>
<line x1="846.67" y1="590" x2="846.67" y2="592.8" stroke="#000" stroke-width="1"/>
<line x1="846.67" y1="335.5" x2="846.67" y2="338.3" stroke="#000" stroke-width="1"/>
<line x1="851.7" y1="590" x2="851.7" y2="592.8" stroke="#000" stroke-width="1"/>
<line x1="851.7" y1="335.5" x2="851.7" y2="338.3" stroke="#000" stroke-width="1"/>
<line x1="856.13" y1="590" x2="856.13" y2="592.8" stroke="#000" stroke-width="1"/>
<line x1="856.13" y1="335.5" x2="856.13" y2="338.3" stroke="#000" stroke-width="1"/>
<line x1="860.1" y1="590" x2="860.1" y2="595" stroke="#000" stroke-width="1"/>
<line x1="860.1" y1="335.5" x2="860.1" y2="340.5" stroke="#000" stroke-width="1"/>
<text x="860.4" y="610.5" font-size="13.3" text-anchor="middle">10<tspan font-size="8" dy="-6.5">4</tspan></text>
<line x1="508.25" y1="590" x2="513.25" y2="590" stroke="#000" stroke-width="1"/>
<line x1="855.1" y1="590" x2="860.1" y2="590" stroke="#000" stroke-width="1"/>
<text x="505.25" y="595.3" font-size="13.3" text-anchor="end">10<tspan font-size="8" dy="-6.5">0</tspan></text>
<line x1="510.45" y1="566.79" x2="513.25" y2="566.79" stroke="#000" stroke-width="1"/>
<line x1="857.3" y1="566.79" x2="860.1" y2="566.79" stroke="#000" stroke-width="1"/>
<line x1="510.45" y1="553.21" x2="513.25" y2="553.21" stroke="#000" stroke-width="1"/>
<line x1="857.3" y1="553.21" x2="860.1" y2="553.21" stroke="#000" stroke-width="1"/>
<line x1="510.45" y1="543.58" x2="513.25" y2="543.58" stroke="#000" stroke-width="1"/>
<line x1="857.3" y1="543.58" x2="860.1" y2="543.58" stroke="#000" stroke-width="1"/>
<line x1="510.45" y1="536.11" x2="513.25" y2="536.11" stroke="#000" stroke-width="1"/>
<line x1="857.3" y1="536.11" x2="860.1" y2="536.11" stroke="#000" stroke-width="1"/>
<line x1="510.45" y1="530" x2="513.25" y2="530" stroke="#000" stroke-width="1"/>
<line x1="857.3" y1="530" x2="860.1" y2="530" stroke="#000" stroke-width="1"/>
<line x1="510.45" y1="524.84" x2="513.25" y2="524.84" stroke="#000" stroke-width="1"/>
<line x1="857.3" y1="524.84" x2="860.1" y2="524.84" stroke="#000" stroke-width="1"/>
<line x1="510.45" y1="520.37" x2="513.25" y2="520.37" stroke="#000" stroke-width="1"/>
<line x1="857.3" y1="520.37" x2="860.1" y2="520.37" stroke="#000" stroke-width="1"/>
<line x1="510.45" y1="516.43" x2="513.25" y2="516.43" stroke="#000" stroke-width="1"/>
<line x1="857.3" y1="516.43" x2="860.1" y2="516.43" stroke="#000" stroke-width="1"/>
<line x1="508.25" y1="512.9" x2="513.25" y2="512.9" stroke="#000" stroke-width="1"/>
<line x1="855.1" y1="512.9" x2="860.1" y2="512.9" stroke="#000" stroke-width="1"/>
<text x="505.25" y="518.2" font-size="13.3" text-anchor="end">10<tspan font-size="8" dy="-6.5">1</tspan></text>
<line x1="510.45" y1="489.69" x2="513.25" y2="489.69" stroke="#000" stroke-width="1"/>
<line x1="857.3" y1="489.69" x2="860.1" y2="489.69" stroke="#000" stroke-width="1"/>
<line x1="510.45" y1="476.11" x2="513.25" y2="476.11" stroke="#000" stroke-width="1"/>
<line x1="857.3" y1="476.11" x2="860.1" y2="476.11" stroke="#000" stroke-width="1"/>
<line x1="510.45" y1="466.48" x2="513.25" y2="466.48" stroke="#000" stroke-width="1"/>
<line x1="857.3" y1="466.48" x2="860.1" y2="466.48" stroke="#000" stroke-width="1"/>
<line x1="510.45" y1="459.01" x2="513.25" y2="459.01" stroke="#000" stroke-width="1"/>
<line x1="857.3" y1="459.01" x2="860.1" y2="459.01" stroke="#000" stroke-width="1"/>
<line x1="510.45" y1="452.9" x2="513.25" y2="452.9" stroke="#000" stroke-width="1"/>
<line x1="857.3" y1="452.9" x2="860.1" y2="452.9" stroke="#000" stroke-width="1"/>
<line x1="510.45" y1="447.74" x2="513.25" y2="447.74" stroke="#000" stroke-width="1"/>
<line x1="857.3" y1="447.74" x2="860.1" y2="447.74" stroke="#000" stroke-width="1"/>
<line x1="510.45" y1="443.27" x2="513.25" y2="443.27" stroke="#000" stroke-width="1"/>
<line x1="857.3" y1="443.27" x2="860.1" y2="443.27" stroke="#000" stroke-width="1"/>
<line x1="510.45" y1="439.33" x2="513.25" y2="439.33" stroke="#000" stroke-width="1"/>
<line x1="857.3" y1="439.33" x2="860.1" y2="439.33" stroke="#000" stroke-width="1"/>
<line x1="508.25" y1="435.8" x2="513.25" y2="435.8" stroke="#000" stroke-width="1"/>
<line x1="855.1" y1="435.8" x2="860.1" y2="435.8" stroke="#000" stroke-width="1"/>
<text x="505.25" y="441.1" font-size="13.3" text-anchor="end">10<tspan font-size="8" dy="-6.5">2</tspan></text>
<line x1="510.45" y1="412.59" x2="513.25" y2="412.59" stroke="#000" stroke-width="1"/>
<line x1="857.3" y1="412.59" x2="860.1" y2="412.59" stroke="#000" stroke-width="1"/>
<line x1="510.45" y1="399.01" x2="513.25" y2="399.01" stroke="#000" stroke-width="1"/>
<line x1="857.3" y1="399.01" x2="860.1" y2="399.01" stroke="#000" stroke-width="1"/>
<line x1="510.45" y1="389.38" x2="513.25" y2="389.38" stroke="#000" stroke-width="1"/>
<line x1="857.3" y1="389.38" x2="860.1" y2="389.38" stroke="#000" stroke-width="1"/>
<line x1="510.45" y1="381.91" x2="513.25" y2="381.91" stroke="#000" stroke-width="1"/>
<line x1="857.3" y1="381.91" x2="860.1" y2="381.91" stroke="#000" stroke-width="1"/>
<line x1="510.45" y1="375.8" x2="513.25" y2="375.8" stroke="#000" stroke-width="1"/>
<line x1="857.3" y1="375.8" x2="860.1" y2="375.8" stroke="#000" stroke-width="1"/>
<line x1="510.45" y1="370.64" x2="513.25" y2="370.64" stroke="#000" stroke-width="1"/>
<line x1="857.3" y1="370.64" x2="860.1" y2="370.64" stroke="#000" stroke-width="1"/>
<line x1="510.45" y1="366.17" x2="513.25" y2="366.17" stroke="#000" stroke-width="1"/>
<line x1="857.3" y1="366.17" x2="860.1" y2="366.17" stroke="#000" stroke-width="1"/>
<line x1="510.45" y1="362.23" x2="513.25" y2="362.23" stroke="#000" stroke-width="1"/>
<line x1="857.3" y1="362.23" x2="860.1" y2="362.23" stroke="#000" stroke-width="1"/>
<line x1="508.25" y1="358.7" x2="513.25" y2="358.7" stroke="#000" stroke-width="1"/>
<line x1="855.1" y1="358.7" x2="860.1" y2="358.7" stroke="#000" stroke-width="1"/>
<text x="505.25" y="364" font-size="13.3" text-anchor="end">10<tspan font-size="8" dy="-6.5">3</tspan></text>
<line x1="510.45" y1="335.49" x2="513.25" y2="335.49" stroke="#000" stroke-width="1"/>
<line x1="857.3" y1="335.49" x2="860.1" y2="335.49" stroke="#000" stroke-width="1"/>
<path d="M513.3 590 C514.56 588.56 518.36 584.25 520.89 581.38 C523.42 578.51 525.95 575.61 528.47 572.77 C531 569.93 533.53 567.12 536.06 564.34 C538.59 561.56 541.12 558.81 543.65 556.09 C546.18 553.37 548.71 550.68 551.24 548.02 C553.77 545.35 556.3 542.72 558.82 540.11 C561.35 537.5 563.88 534.92 566.41 532.37 C568.94 529.81 571.47 527.28 574 524.78 C576.53 522.28 579.06 519.81 581.59 517.36 C584.12 514.91 586.65 512.48 589.17 510.08 C591.7 507.69 594.23 505.31 596.76 502.96 C599.29 500.61 601.82 498.28 604.35 495.98 C606.88 493.68 609.41 491.4 611.94 489.14 C614.47 486.89 617 484.65 619.52 482.44 C622.05 480.23 624.58 478.04 627.11 475.87 C629.64 473.71 632.17 471.56 634.7 469.43 C637.23 467.31 639.76 465.2 642.29 463.12 C644.82 461.04 647.35 458.97 649.88 456.93 C652.4 454.88 654.93 452.86 657.46 450.85 C659.99 448.84 662.52 446.86 665.05 444.89 C667.58 442.92 670.11 440.97 672.64 439.03 C675.17 437.1 677.7 435.18 680.23 433.28 C682.75 431.38 685.28 429.5 687.81 427.63 C690.34 425.77 692.87 423.92 695.4 422.08 C697.93 420.25 700.46 418.43 702.99 416.62 C705.52 414.82 708.05 413.03 710.58 411.25 C713.1 409.48 715.63 407.71 718.16 405.97 C720.69 404.22 723.22 402.48 725.75 400.76 C728.28 399.04 730.81 397.33 733.34 395.64 C735.87 393.94 738.4 392.25 740.92 390.58 C743.45 388.91 745.98 387.25 748.51 385.6 C751.04 383.95 753.62 382.13 756.1 380.68 C758.58 379.23 760.95 378.1 763.4 376.9 C765.85 375.7 768.35 374.68 770.8 373.5 C773.25 372.32 775.9 371.08 778.1 369.8 C780.3 368.52 781.8 367.3 784 365.8 C786.2 364.3 788.4 362.77 791.3 360.8 C794.2 358.83 798.03 356.18 801.4 354 C804.77 351.82 808.57 349.27 811.5 347.7 C814.43 346.13 816.7 345.75 819 344.6 C821.3 343.45 823.2 341.63 825.3 340.8 C827.4 339.97 829.07 340.13 831.6 339.6 C834.13 339.07 839.02 337.93 840.5 337.6" fill="none" stroke="#000" stroke-width="1.7" stroke-linejoin="round"/>
<line x1="594.1" y1="534.6" x2="676.9" y2="460.3" stroke="#111" stroke-width="1" stroke-dasharray="2.7 2.55"/>
<line x1="749.1" y1="411.1" x2="844.8" y2="353.2" stroke="#111" stroke-width="1" stroke-dasharray="2.7 2.55"/>
<line x1="702.5" y1="390" x2="702.5" y2="444" stroke="#b4b4b4" stroke-width="1" stroke-dasharray="1 1" shape-rendering="crispEdges"/>
<text x="648" y="513.7" font-size="21" text-anchor="start"><tspan font-style="italic">s</tspan></text>
<text x="797.3" y="405.2" font-size="21" text-anchor="start"><tspan font-style="italic">s</tspan><tspan font-size="12" dy="-9.1">0.66</tspan></text>
<text x="694.3" y="475.3" font-size="20.6" text-anchor="start">N<tspan font-size="13" dy="7.3">e</tspan><tspan dy="-7.3"> = 150</tspan></text>
<text x="690.3" y="638" font-size="21" text-anchor="middle"><tspan font-style="italic">s</tspan></text>
<text x="527.6" y="640.3" font-size="18.9" text-anchor="start">(d)</text>
<text transform="translate(469.5 456.5) rotate(-90)" font-size="21" text-anchor="middle">σ<tspan font-size="12" dy="-10.3">2</tspan></text>
</svg>
</body></html>
